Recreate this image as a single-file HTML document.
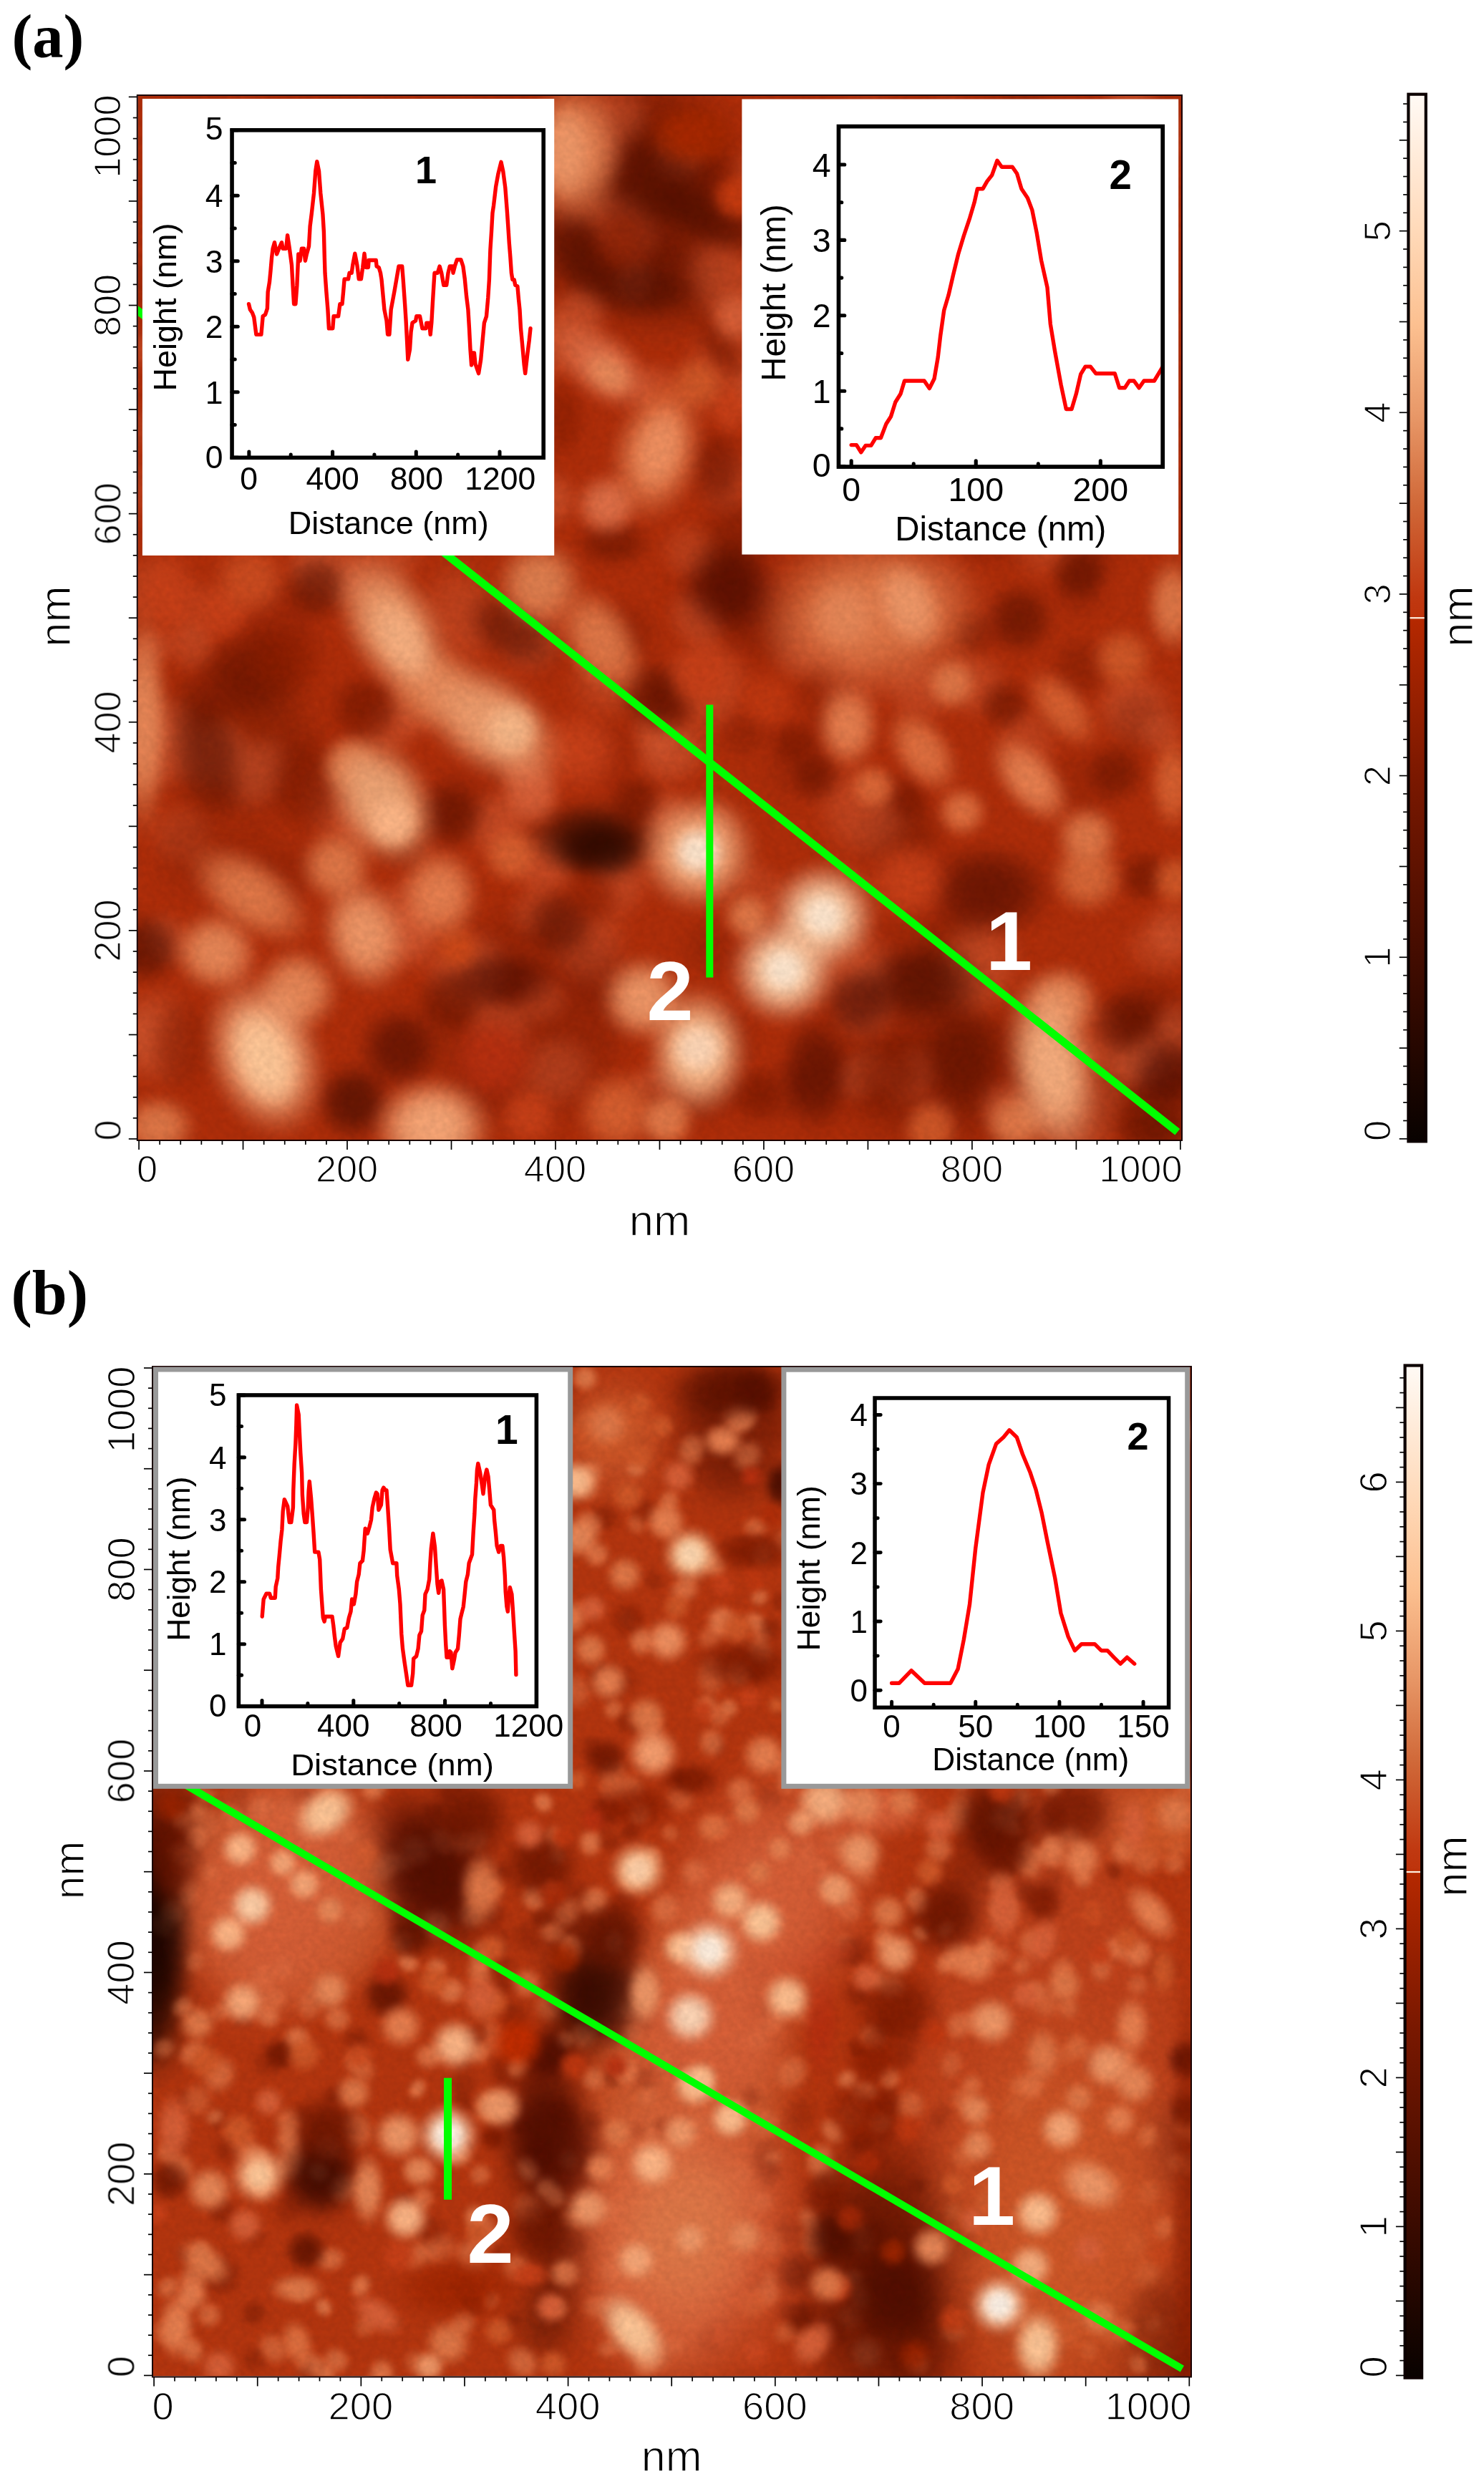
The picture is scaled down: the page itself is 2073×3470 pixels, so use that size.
<!DOCTYPE html>
<html><head><meta charset="utf-8"><title>AFM figure</title>
<style>html,body{margin:0;padding:0;background:#fff}svg{display:block}</style></head>
<body>
<svg width="2073" height="3470" viewBox="0 0 2073 3470">
<defs>
<linearGradient id="cb" x1="0" y1="0" x2="0" y2="1"><stop offset="0" stop-color="rgb(255,250,245)"/><stop offset="0.132" stop-color="rgb(255,217,184)"/><stop offset="0.22" stop-color="rgb(252,192,144)"/><stop offset="0.306" stop-color="rgb(232,152,104)"/><stop offset="0.392" stop-color="rgb(208,104,56)"/><stop offset="0.48" stop-color="rgb(192,56,16)"/><stop offset="0.497" stop-color="rgb(190,52,12)"/><stop offset="0.503" stop-color="rgb(180,40,0)"/><stop offset="0.653" stop-color="rgb(122,24,0)"/><stop offset="0.826" stop-color="rgb(66,12,0)"/><stop offset="1" stop-color="rgb(8,2,0)"/></linearGradient>
<filter id="grain" x="0" y="0" width="100%" height="100%"><feTurbulence type="fractalNoise" baseFrequency="0.11" numOctaves="2" seed="7"/><feColorMatrix type="matrix" values="0 0 0 0 0  0 0 0 0 0  0 0 0 0 0  1.6 0 0 0 -0.3"/></filter>
<clipPath id="clipA"><rect x="192.6" y="134.0" width="1457.4" height="1458.0"/></clipPath>
<filter id="blurA" x="-5%" y="-5%" width="110%" height="110%" color-interpolation-filters="sRGB"><feGaussianBlur stdDeviation="6"/></filter>
<filter id="bblurA" x="-5%" y="-5%" width="110%" height="110%" color-interpolation-filters="sRGB"><feGaussianBlur stdDeviation="22"/></filter>
<radialGradient id="gd86038"><stop offset="0" stop-color="#d86038" stop-opacity="1"/><stop offset="0.3" stop-color="#d86038" stop-opacity="0.95"/><stop offset="0.48" stop-color="#d86038" stop-opacity="0.78"/><stop offset="0.62" stop-color="#d86038" stop-opacity="0.52"/><stop offset="0.76" stop-color="#d86038" stop-opacity="0.26"/><stop offset="0.88" stop-color="#d86038" stop-opacity="0.08"/><stop offset="1" stop-color="#d86038" stop-opacity="0"/></radialGradient>
<radialGradient id="g6a1400"><stop offset="0" stop-color="#6a1400" stop-opacity="1"/><stop offset="0.3" stop-color="#6a1400" stop-opacity="0.95"/><stop offset="0.48" stop-color="#6a1400" stop-opacity="0.78"/><stop offset="0.62" stop-color="#6a1400" stop-opacity="0.52"/><stop offset="0.76" stop-color="#6a1400" stop-opacity="0.26"/><stop offset="0.88" stop-color="#6a1400" stop-opacity="0.08"/><stop offset="1" stop-color="#6a1400" stop-opacity="0"/></radialGradient>
<radialGradient id="g1a0400"><stop offset="0" stop-color="#1a0400" stop-opacity="1"/><stop offset="0.3" stop-color="#1a0400" stop-opacity="0.95"/><stop offset="0.48" stop-color="#1a0400" stop-opacity="0.78"/><stop offset="0.62" stop-color="#1a0400" stop-opacity="0.52"/><stop offset="0.76" stop-color="#1a0400" stop-opacity="0.26"/><stop offset="0.88" stop-color="#1a0400" stop-opacity="0.08"/><stop offset="1" stop-color="#1a0400" stop-opacity="0"/></radialGradient>
<radialGradient id="g200500"><stop offset="0" stop-color="#200500" stop-opacity="1"/><stop offset="0.3" stop-color="#200500" stop-opacity="0.95"/><stop offset="0.48" stop-color="#200500" stop-opacity="0.78"/><stop offset="0.62" stop-color="#200500" stop-opacity="0.52"/><stop offset="0.76" stop-color="#200500" stop-opacity="0.26"/><stop offset="0.88" stop-color="#200500" stop-opacity="0.08"/><stop offset="1" stop-color="#200500" stop-opacity="0"/></radialGradient>
<radialGradient id="g3a0800"><stop offset="0" stop-color="#3a0800" stop-opacity="1"/><stop offset="0.3" stop-color="#3a0800" stop-opacity="0.95"/><stop offset="0.48" stop-color="#3a0800" stop-opacity="0.78"/><stop offset="0.62" stop-color="#3a0800" stop-opacity="0.52"/><stop offset="0.76" stop-color="#3a0800" stop-opacity="0.26"/><stop offset="0.88" stop-color="#3a0800" stop-opacity="0.08"/><stop offset="1" stop-color="#3a0800" stop-opacity="0"/></radialGradient>
<radialGradient id="g4a0a00"><stop offset="0" stop-color="#4a0a00" stop-opacity="1"/><stop offset="0.3" stop-color="#4a0a00" stop-opacity="0.95"/><stop offset="0.48" stop-color="#4a0a00" stop-opacity="0.78"/><stop offset="0.62" stop-color="#4a0a00" stop-opacity="0.52"/><stop offset="0.76" stop-color="#4a0a00" stop-opacity="0.26"/><stop offset="0.88" stop-color="#4a0a00" stop-opacity="0.08"/><stop offset="1" stop-color="#4a0a00" stop-opacity="0"/></radialGradient>
<radialGradient id="g4a0c00"><stop offset="0" stop-color="#4a0c00" stop-opacity="1"/><stop offset="0.3" stop-color="#4a0c00" stop-opacity="0.95"/><stop offset="0.48" stop-color="#4a0c00" stop-opacity="0.78"/><stop offset="0.62" stop-color="#4a0c00" stop-opacity="0.52"/><stop offset="0.76" stop-color="#4a0c00" stop-opacity="0.26"/><stop offset="0.88" stop-color="#4a0c00" stop-opacity="0.08"/><stop offset="1" stop-color="#4a0c00" stop-opacity="0"/></radialGradient>
<radialGradient id="g5a1000"><stop offset="0" stop-color="#5a1000" stop-opacity="1"/><stop offset="0.3" stop-color="#5a1000" stop-opacity="0.95"/><stop offset="0.48" stop-color="#5a1000" stop-opacity="0.78"/><stop offset="0.62" stop-color="#5a1000" stop-opacity="0.52"/><stop offset="0.76" stop-color="#5a1000" stop-opacity="0.26"/><stop offset="0.88" stop-color="#5a1000" stop-opacity="0.08"/><stop offset="1" stop-color="#5a1000" stop-opacity="0"/></radialGradient>
<radialGradient id="g701400"><stop offset="0" stop-color="#701400" stop-opacity="1"/><stop offset="0.3" stop-color="#701400" stop-opacity="0.95"/><stop offset="0.48" stop-color="#701400" stop-opacity="0.78"/><stop offset="0.62" stop-color="#701400" stop-opacity="0.52"/><stop offset="0.76" stop-color="#701400" stop-opacity="0.26"/><stop offset="0.88" stop-color="#701400" stop-opacity="0.08"/><stop offset="1" stop-color="#701400" stop-opacity="0"/></radialGradient>
<radialGradient id="g7a1800"><stop offset="0" stop-color="#7a1800" stop-opacity="1"/><stop offset="0.3" stop-color="#7a1800" stop-opacity="0.95"/><stop offset="0.48" stop-color="#7a1800" stop-opacity="0.78"/><stop offset="0.62" stop-color="#7a1800" stop-opacity="0.52"/><stop offset="0.76" stop-color="#7a1800" stop-opacity="0.26"/><stop offset="0.88" stop-color="#7a1800" stop-opacity="0.08"/><stop offset="1" stop-color="#7a1800" stop-opacity="0"/></radialGradient>
<radialGradient id="g8a1c00"><stop offset="0" stop-color="#8a1c00" stop-opacity="1"/><stop offset="0.3" stop-color="#8a1c00" stop-opacity="0.95"/><stop offset="0.48" stop-color="#8a1c00" stop-opacity="0.78"/><stop offset="0.62" stop-color="#8a1c00" stop-opacity="0.52"/><stop offset="0.76" stop-color="#8a1c00" stop-opacity="0.26"/><stop offset="0.88" stop-color="#8a1c00" stop-opacity="0.08"/><stop offset="1" stop-color="#8a1c00" stop-opacity="0"/></radialGradient>
<radialGradient id="ga82800"><stop offset="0" stop-color="#a82800" stop-opacity="1"/><stop offset="0.3" stop-color="#a82800" stop-opacity="0.95"/><stop offset="0.48" stop-color="#a82800" stop-opacity="0.78"/><stop offset="0.62" stop-color="#a82800" stop-opacity="0.52"/><stop offset="0.76" stop-color="#a82800" stop-opacity="0.26"/><stop offset="0.88" stop-color="#a82800" stop-opacity="0.08"/><stop offset="1" stop-color="#a82800" stop-opacity="0"/></radialGradient>
<radialGradient id="gb83010"><stop offset="0" stop-color="#b83010" stop-opacity="1"/><stop offset="0.3" stop-color="#b83010" stop-opacity="0.95"/><stop offset="0.48" stop-color="#b83010" stop-opacity="0.78"/><stop offset="0.62" stop-color="#b83010" stop-opacity="0.52"/><stop offset="0.76" stop-color="#b83010" stop-opacity="0.26"/><stop offset="0.88" stop-color="#b83010" stop-opacity="0.08"/><stop offset="1" stop-color="#b83010" stop-opacity="0"/></radialGradient>
<radialGradient id="gc03810"><stop offset="0" stop-color="#c03810" stop-opacity="1"/><stop offset="0.3" stop-color="#c03810" stop-opacity="0.95"/><stop offset="0.48" stop-color="#c03810" stop-opacity="0.78"/><stop offset="0.62" stop-color="#c03810" stop-opacity="0.52"/><stop offset="0.76" stop-color="#c03810" stop-opacity="0.26"/><stop offset="0.88" stop-color="#c03810" stop-opacity="0.08"/><stop offset="1" stop-color="#c03810" stop-opacity="0"/></radialGradient>
<radialGradient id="gc83c10"><stop offset="0" stop-color="#c83c10" stop-opacity="1"/><stop offset="0.3" stop-color="#c83c10" stop-opacity="0.95"/><stop offset="0.48" stop-color="#c83c10" stop-opacity="0.78"/><stop offset="0.62" stop-color="#c83c10" stop-opacity="0.52"/><stop offset="0.76" stop-color="#c83c10" stop-opacity="0.26"/><stop offset="0.88" stop-color="#c83c10" stop-opacity="0.08"/><stop offset="1" stop-color="#c83c10" stop-opacity="0"/></radialGradient>
<radialGradient id="gc84018"><stop offset="0" stop-color="#c84018" stop-opacity="1"/><stop offset="0.3" stop-color="#c84018" stop-opacity="0.95"/><stop offset="0.48" stop-color="#c84018" stop-opacity="0.78"/><stop offset="0.62" stop-color="#c84018" stop-opacity="0.52"/><stop offset="0.76" stop-color="#c84018" stop-opacity="0.26"/><stop offset="0.88" stop-color="#c84018" stop-opacity="0.08"/><stop offset="1" stop-color="#c84018" stop-opacity="0"/></radialGradient>
<radialGradient id="gcc4818"><stop offset="0" stop-color="#cc4818" stop-opacity="1"/><stop offset="0.3" stop-color="#cc4818" stop-opacity="0.95"/><stop offset="0.48" stop-color="#cc4818" stop-opacity="0.78"/><stop offset="0.62" stop-color="#cc4818" stop-opacity="0.52"/><stop offset="0.76" stop-color="#cc4818" stop-opacity="0.26"/><stop offset="0.88" stop-color="#cc4818" stop-opacity="0.08"/><stop offset="1" stop-color="#cc4818" stop-opacity="0"/></radialGradient>
<radialGradient id="gcc4c20"><stop offset="0" stop-color="#cc4c20" stop-opacity="1"/><stop offset="0.3" stop-color="#cc4c20" stop-opacity="0.95"/><stop offset="0.48" stop-color="#cc4c20" stop-opacity="0.78"/><stop offset="0.62" stop-color="#cc4c20" stop-opacity="0.52"/><stop offset="0.76" stop-color="#cc4c20" stop-opacity="0.26"/><stop offset="0.88" stop-color="#cc4c20" stop-opacity="0.08"/><stop offset="1" stop-color="#cc4c20" stop-opacity="0"/></radialGradient>
<radialGradient id="gd05828"><stop offset="0" stop-color="#d05828" stop-opacity="1"/><stop offset="0.3" stop-color="#d05828" stop-opacity="0.95"/><stop offset="0.48" stop-color="#d05828" stop-opacity="0.78"/><stop offset="0.62" stop-color="#d05828" stop-opacity="0.52"/><stop offset="0.76" stop-color="#d05828" stop-opacity="0.26"/><stop offset="0.88" stop-color="#d05828" stop-opacity="0.08"/><stop offset="1" stop-color="#d05828" stop-opacity="0"/></radialGradient>
<radialGradient id="gd86030"><stop offset="0" stop-color="#d86030" stop-opacity="1"/><stop offset="0.3" stop-color="#d86030" stop-opacity="0.95"/><stop offset="0.48" stop-color="#d86030" stop-opacity="0.78"/><stop offset="0.62" stop-color="#d86030" stop-opacity="0.52"/><stop offset="0.76" stop-color="#d86030" stop-opacity="0.26"/><stop offset="0.88" stop-color="#d86030" stop-opacity="0.08"/><stop offset="1" stop-color="#d86030" stop-opacity="0"/></radialGradient>
<radialGradient id="gd86838"><stop offset="0" stop-color="#d86838" stop-opacity="1"/><stop offset="0.3" stop-color="#d86838" stop-opacity="0.95"/><stop offset="0.48" stop-color="#d86838" stop-opacity="0.78"/><stop offset="0.62" stop-color="#d86838" stop-opacity="0.52"/><stop offset="0.76" stop-color="#d86838" stop-opacity="0.26"/><stop offset="0.88" stop-color="#d86838" stop-opacity="0.08"/><stop offset="1" stop-color="#d86838" stop-opacity="0"/></radialGradient>
<radialGradient id="gdc6838"><stop offset="0" stop-color="#dc6838" stop-opacity="1"/><stop offset="0.3" stop-color="#dc6838" stop-opacity="0.95"/><stop offset="0.48" stop-color="#dc6838" stop-opacity="0.78"/><stop offset="0.62" stop-color="#dc6838" stop-opacity="0.52"/><stop offset="0.76" stop-color="#dc6838" stop-opacity="0.26"/><stop offset="0.88" stop-color="#dc6838" stop-opacity="0.08"/><stop offset="1" stop-color="#dc6838" stop-opacity="0"/></radialGradient>
<radialGradient id="ge07040"><stop offset="0" stop-color="#e07040" stop-opacity="1"/><stop offset="0.3" stop-color="#e07040" stop-opacity="0.95"/><stop offset="0.48" stop-color="#e07040" stop-opacity="0.78"/><stop offset="0.62" stop-color="#e07040" stop-opacity="0.52"/><stop offset="0.76" stop-color="#e07040" stop-opacity="0.26"/><stop offset="0.88" stop-color="#e07040" stop-opacity="0.08"/><stop offset="1" stop-color="#e07040" stop-opacity="0"/></radialGradient>
<radialGradient id="ge07048"><stop offset="0" stop-color="#e07048" stop-opacity="1"/><stop offset="0.3" stop-color="#e07048" stop-opacity="0.95"/><stop offset="0.48" stop-color="#e07048" stop-opacity="0.78"/><stop offset="0.62" stop-color="#e07048" stop-opacity="0.52"/><stop offset="0.76" stop-color="#e07048" stop-opacity="0.26"/><stop offset="0.88" stop-color="#e07048" stop-opacity="0.08"/><stop offset="1" stop-color="#e07048" stop-opacity="0"/></radialGradient>
<radialGradient id="ge07848"><stop offset="0" stop-color="#e07848" stop-opacity="1"/><stop offset="0.3" stop-color="#e07848" stop-opacity="0.95"/><stop offset="0.48" stop-color="#e07848" stop-opacity="0.78"/><stop offset="0.62" stop-color="#e07848" stop-opacity="0.52"/><stop offset="0.76" stop-color="#e07848" stop-opacity="0.26"/><stop offset="0.88" stop-color="#e07848" stop-opacity="0.08"/><stop offset="1" stop-color="#e07848" stop-opacity="0"/></radialGradient>
<radialGradient id="ge08050"><stop offset="0" stop-color="#e08050" stop-opacity="1"/><stop offset="0.3" stop-color="#e08050" stop-opacity="0.95"/><stop offset="0.48" stop-color="#e08050" stop-opacity="0.78"/><stop offset="0.62" stop-color="#e08050" stop-opacity="0.52"/><stop offset="0.76" stop-color="#e08050" stop-opacity="0.26"/><stop offset="0.88" stop-color="#e08050" stop-opacity="0.08"/><stop offset="1" stop-color="#e08050" stop-opacity="0"/></radialGradient>
<radialGradient id="ge88050"><stop offset="0" stop-color="#e88050" stop-opacity="1"/><stop offset="0.3" stop-color="#e88050" stop-opacity="0.95"/><stop offset="0.48" stop-color="#e88050" stop-opacity="0.78"/><stop offset="0.62" stop-color="#e88050" stop-opacity="0.52"/><stop offset="0.76" stop-color="#e88050" stop-opacity="0.26"/><stop offset="0.88" stop-color="#e88050" stop-opacity="0.08"/><stop offset="1" stop-color="#e88050" stop-opacity="0"/></radialGradient>
<radialGradient id="ge88858"><stop offset="0" stop-color="#e88858" stop-opacity="1"/><stop offset="0.3" stop-color="#e88858" stop-opacity="0.95"/><stop offset="0.48" stop-color="#e88858" stop-opacity="0.78"/><stop offset="0.62" stop-color="#e88858" stop-opacity="0.52"/><stop offset="0.76" stop-color="#e88858" stop-opacity="0.26"/><stop offset="0.88" stop-color="#e88858" stop-opacity="0.08"/><stop offset="1" stop-color="#e88858" stop-opacity="0"/></radialGradient>
<radialGradient id="gf09060"><stop offset="0" stop-color="#f09060" stop-opacity="1"/><stop offset="0.3" stop-color="#f09060" stop-opacity="0.95"/><stop offset="0.48" stop-color="#f09060" stop-opacity="0.78"/><stop offset="0.62" stop-color="#f09060" stop-opacity="0.52"/><stop offset="0.76" stop-color="#f09060" stop-opacity="0.26"/><stop offset="0.88" stop-color="#f09060" stop-opacity="0.08"/><stop offset="1" stop-color="#f09060" stop-opacity="0"/></radialGradient>
<radialGradient id="gf09868"><stop offset="0" stop-color="#f09868" stop-opacity="1"/><stop offset="0.3" stop-color="#f09868" stop-opacity="0.95"/><stop offset="0.48" stop-color="#f09868" stop-opacity="0.78"/><stop offset="0.62" stop-color="#f09868" stop-opacity="0.52"/><stop offset="0.76" stop-color="#f09868" stop-opacity="0.26"/><stop offset="0.88" stop-color="#f09868" stop-opacity="0.08"/><stop offset="1" stop-color="#f09868" stop-opacity="0"/></radialGradient>
<radialGradient id="gf0a070"><stop offset="0" stop-color="#f0a070" stop-opacity="1"/><stop offset="0.3" stop-color="#f0a070" stop-opacity="0.95"/><stop offset="0.48" stop-color="#f0a070" stop-opacity="0.78"/><stop offset="0.62" stop-color="#f0a070" stop-opacity="0.52"/><stop offset="0.76" stop-color="#f0a070" stop-opacity="0.26"/><stop offset="0.88" stop-color="#f0a070" stop-opacity="0.08"/><stop offset="1" stop-color="#f0a070" stop-opacity="0"/></radialGradient>
<radialGradient id="gf0a878"><stop offset="0" stop-color="#f0a878" stop-opacity="1"/><stop offset="0.3" stop-color="#f0a878" stop-opacity="0.95"/><stop offset="0.48" stop-color="#f0a878" stop-opacity="0.78"/><stop offset="0.62" stop-color="#f0a878" stop-opacity="0.52"/><stop offset="0.76" stop-color="#f0a878" stop-opacity="0.26"/><stop offset="0.88" stop-color="#f0a878" stop-opacity="0.08"/><stop offset="1" stop-color="#f0a878" stop-opacity="0"/></radialGradient>
<radialGradient id="gf8a878"><stop offset="0" stop-color="#f8a878" stop-opacity="1"/><stop offset="0.3" stop-color="#f8a878" stop-opacity="0.95"/><stop offset="0.48" stop-color="#f8a878" stop-opacity="0.78"/><stop offset="0.62" stop-color="#f8a878" stop-opacity="0.52"/><stop offset="0.76" stop-color="#f8a878" stop-opacity="0.26"/><stop offset="0.88" stop-color="#f8a878" stop-opacity="0.08"/><stop offset="1" stop-color="#f8a878" stop-opacity="0"/></radialGradient>
<radialGradient id="gf8b080"><stop offset="0" stop-color="#f8b080" stop-opacity="1"/><stop offset="0.3" stop-color="#f8b080" stop-opacity="0.95"/><stop offset="0.48" stop-color="#f8b080" stop-opacity="0.78"/><stop offset="0.62" stop-color="#f8b080" stop-opacity="0.52"/><stop offset="0.76" stop-color="#f8b080" stop-opacity="0.26"/><stop offset="0.88" stop-color="#f8b080" stop-opacity="0.08"/><stop offset="1" stop-color="#f8b080" stop-opacity="0"/></radialGradient>
<radialGradient id="gf8b888"><stop offset="0" stop-color="#f8b888" stop-opacity="1"/><stop offset="0.3" stop-color="#f8b888" stop-opacity="0.95"/><stop offset="0.48" stop-color="#f8b888" stop-opacity="0.78"/><stop offset="0.62" stop-color="#f8b888" stop-opacity="0.52"/><stop offset="0.76" stop-color="#f8b888" stop-opacity="0.26"/><stop offset="0.88" stop-color="#f8b888" stop-opacity="0.08"/><stop offset="1" stop-color="#f8b888" stop-opacity="0"/></radialGradient>
<radialGradient id="gffb888"><stop offset="0" stop-color="#ffb888" stop-opacity="1"/><stop offset="0.3" stop-color="#ffb888" stop-opacity="0.95"/><stop offset="0.48" stop-color="#ffb888" stop-opacity="0.78"/><stop offset="0.62" stop-color="#ffb888" stop-opacity="0.52"/><stop offset="0.76" stop-color="#ffb888" stop-opacity="0.26"/><stop offset="0.88" stop-color="#ffb888" stop-opacity="0.08"/><stop offset="1" stop-color="#ffb888" stop-opacity="0"/></radialGradient>
<radialGradient id="gffc090"><stop offset="0" stop-color="#ffc090" stop-opacity="1"/><stop offset="0.3" stop-color="#ffc090" stop-opacity="0.95"/><stop offset="0.48" stop-color="#ffc090" stop-opacity="0.78"/><stop offset="0.62" stop-color="#ffc090" stop-opacity="0.52"/><stop offset="0.76" stop-color="#ffc090" stop-opacity="0.26"/><stop offset="0.88" stop-color="#ffc090" stop-opacity="0.08"/><stop offset="1" stop-color="#ffc090" stop-opacity="0"/></radialGradient>
<radialGradient id="gffc898"><stop offset="0" stop-color="#ffc898" stop-opacity="1"/><stop offset="0.3" stop-color="#ffc898" stop-opacity="0.95"/><stop offset="0.48" stop-color="#ffc898" stop-opacity="0.78"/><stop offset="0.62" stop-color="#ffc898" stop-opacity="0.52"/><stop offset="0.76" stop-color="#ffc898" stop-opacity="0.26"/><stop offset="0.88" stop-color="#ffc898" stop-opacity="0.08"/><stop offset="1" stop-color="#ffc898" stop-opacity="0"/></radialGradient>
<radialGradient id="gffd0a8"><stop offset="0" stop-color="#ffd0a8" stop-opacity="1"/><stop offset="0.3" stop-color="#ffd0a8" stop-opacity="0.95"/><stop offset="0.48" stop-color="#ffd0a8" stop-opacity="0.78"/><stop offset="0.62" stop-color="#ffd0a8" stop-opacity="0.52"/><stop offset="0.76" stop-color="#ffd0a8" stop-opacity="0.26"/><stop offset="0.88" stop-color="#ffd0a8" stop-opacity="0.08"/><stop offset="1" stop-color="#ffd0a8" stop-opacity="0"/></radialGradient>
<radialGradient id="gffd8b8"><stop offset="0" stop-color="#ffd8b8" stop-opacity="1"/><stop offset="0.3" stop-color="#ffd8b8" stop-opacity="0.95"/><stop offset="0.48" stop-color="#ffd8b8" stop-opacity="0.78"/><stop offset="0.62" stop-color="#ffd8b8" stop-opacity="0.52"/><stop offset="0.76" stop-color="#ffd8b8" stop-opacity="0.26"/><stop offset="0.88" stop-color="#ffd8b8" stop-opacity="0.08"/><stop offset="1" stop-color="#ffd8b8" stop-opacity="0"/></radialGradient>
<radialGradient id="gffe8d0"><stop offset="0" stop-color="#ffe8d0" stop-opacity="1"/><stop offset="0.3" stop-color="#ffe8d0" stop-opacity="0.95"/><stop offset="0.48" stop-color="#ffe8d0" stop-opacity="0.78"/><stop offset="0.62" stop-color="#ffe8d0" stop-opacity="0.52"/><stop offset="0.76" stop-color="#ffe8d0" stop-opacity="0.26"/><stop offset="0.88" stop-color="#ffe8d0" stop-opacity="0.08"/><stop offset="1" stop-color="#ffe8d0" stop-opacity="0"/></radialGradient>
<clipPath id="ica1"><rect x="324.1" y="181.8" width="435.2" height="457.5"/></clipPath>
<clipPath id="ica2"><rect x="1171.5" y="176.6" width="452.7" height="475.4"/></clipPath>
<clipPath id="clipB"><rect x="214.0" y="1910.0" width="1449.0" height="1409.5"/></clipPath>
<filter id="blurB" x="-5%" y="-5%" width="110%" height="110%" color-interpolation-filters="sRGB"><feGaussianBlur stdDeviation="3.2"/></filter>
<filter id="bblurB" x="-5%" y="-5%" width="110%" height="110%" color-interpolation-filters="sRGB"><feGaussianBlur stdDeviation="22"/></filter>
<radialGradient id="g2a0600"><stop offset="0" stop-color="#2a0600" stop-opacity="1"/><stop offset="0.3" stop-color="#2a0600" stop-opacity="0.95"/><stop offset="0.48" stop-color="#2a0600" stop-opacity="0.78"/><stop offset="0.62" stop-color="#2a0600" stop-opacity="0.52"/><stop offset="0.76" stop-color="#2a0600" stop-opacity="0.26"/><stop offset="0.88" stop-color="#2a0600" stop-opacity="0.08"/><stop offset="1" stop-color="#2a0600" stop-opacity="0"/></radialGradient>
<radialGradient id="ga02400"><stop offset="0" stop-color="#a02400" stop-opacity="1"/><stop offset="0.3" stop-color="#a02400" stop-opacity="0.95"/><stop offset="0.48" stop-color="#a02400" stop-opacity="0.78"/><stop offset="0.62" stop-color="#a02400" stop-opacity="0.52"/><stop offset="0.76" stop-color="#a02400" stop-opacity="0.26"/><stop offset="0.88" stop-color="#a02400" stop-opacity="0.08"/><stop offset="1" stop-color="#a02400" stop-opacity="0"/></radialGradient>
<radialGradient id="gb02c08"><stop offset="0" stop-color="#b02c08" stop-opacity="1"/><stop offset="0.3" stop-color="#b02c08" stop-opacity="0.95"/><stop offset="0.48" stop-color="#b02c08" stop-opacity="0.78"/><stop offset="0.62" stop-color="#b02c08" stop-opacity="0.52"/><stop offset="0.76" stop-color="#b02c08" stop-opacity="0.26"/><stop offset="0.88" stop-color="#b02c08" stop-opacity="0.08"/><stop offset="1" stop-color="#b02c08" stop-opacity="0"/></radialGradient>
<radialGradient id="gc02c00"><stop offset="0" stop-color="#c02c00" stop-opacity="1"/><stop offset="0.3" stop-color="#c02c00" stop-opacity="0.95"/><stop offset="0.48" stop-color="#c02c00" stop-opacity="0.78"/><stop offset="0.62" stop-color="#c02c00" stop-opacity="0.52"/><stop offset="0.76" stop-color="#c02c00" stop-opacity="0.26"/><stop offset="0.88" stop-color="#c02c00" stop-opacity="0.08"/><stop offset="1" stop-color="#c02c00" stop-opacity="0"/></radialGradient>
<radialGradient id="gf8a070"><stop offset="0" stop-color="#f8a070" stop-opacity="1"/><stop offset="0.3" stop-color="#f8a070" stop-opacity="0.95"/><stop offset="0.48" stop-color="#f8a070" stop-opacity="0.78"/><stop offset="0.62" stop-color="#f8a070" stop-opacity="0.52"/><stop offset="0.76" stop-color="#f8a070" stop-opacity="0.26"/><stop offset="0.88" stop-color="#f8a070" stop-opacity="0.08"/><stop offset="1" stop-color="#f8a070" stop-opacity="0"/></radialGradient>
<radialGradient id="gffd8b0"><stop offset="0" stop-color="#ffd8b0" stop-opacity="1"/><stop offset="0.3" stop-color="#ffd8b0" stop-opacity="0.95"/><stop offset="0.48" stop-color="#ffd8b0" stop-opacity="0.78"/><stop offset="0.62" stop-color="#ffd8b0" stop-opacity="0.52"/><stop offset="0.76" stop-color="#ffd8b0" stop-opacity="0.26"/><stop offset="0.88" stop-color="#ffd8b0" stop-opacity="0.08"/><stop offset="1" stop-color="#ffd8b0" stop-opacity="0"/></radialGradient>
<radialGradient id="gfff0e0"><stop offset="0" stop-color="#fff0e0" stop-opacity="1"/><stop offset="0.3" stop-color="#fff0e0" stop-opacity="0.95"/><stop offset="0.48" stop-color="#fff0e0" stop-opacity="0.78"/><stop offset="0.62" stop-color="#fff0e0" stop-opacity="0.52"/><stop offset="0.76" stop-color="#fff0e0" stop-opacity="0.26"/><stop offset="0.88" stop-color="#fff0e0" stop-opacity="0.08"/><stop offset="1" stop-color="#fff0e0" stop-opacity="0"/></radialGradient>
<radialGradient id="gfff4e8"><stop offset="0" stop-color="#fff4e8" stop-opacity="1"/><stop offset="0.3" stop-color="#fff4e8" stop-opacity="0.95"/><stop offset="0.48" stop-color="#fff4e8" stop-opacity="0.78"/><stop offset="0.62" stop-color="#fff4e8" stop-opacity="0.52"/><stop offset="0.76" stop-color="#fff4e8" stop-opacity="0.26"/><stop offset="0.88" stop-color="#fff4e8" stop-opacity="0.08"/><stop offset="1" stop-color="#fff4e8" stop-opacity="0"/></radialGradient>
<clipPath id="icb1"><rect x="333.4" y="1949.0" width="416.0" height="434.6"/></clipPath>
<clipPath id="icb2"><rect x="1222.0" y="1953.0" width="410.5" height="432.3"/></clipPath>
</defs>
<rect width="2073" height="3470" fill="#fff"/>
<text x="16.50" y="80.00" font-size="86.5" text-anchor="start" fill="#000" font-family="Liberation Serif, serif" font-weight="bold">(a)</text>
<text x="15.50" y="1836.00" font-size="88" text-anchor="start" fill="#000" font-family="Liberation Serif, serif" font-weight="bold">(b)</text>
<g clip-path="url(#clipA)">
<rect x="192.6" y="134.0" width="1457.4" height="1458.0" fill="#b02e0a"/>
<g filter="url(#bblurA)">
<ellipse cx="915.0" cy="255.0" rx="110.0" ry="130.0" fill="#5a1000" opacity="0.5" transform="rotate(0 915.0 255.0)"/>
<ellipse cx="890.0" cy="390.0" rx="130.0" ry="60.0" fill="#4a0c00" opacity="0.4" transform="rotate(10 890.0 390.0)"/>
<ellipse cx="1330.0" cy="1500.0" rx="170.0" ry="90.0" fill="#5a1000" opacity="0.33" transform="rotate(0 1330.0 1500.0)"/>
<ellipse cx="1610.0" cy="1490.0" rx="60.0" ry="120.0" fill="#4a0a00" opacity="0.4" transform="rotate(0 1610.0 1490.0)"/>
<ellipse cx="740.0" cy="1420.0" rx="130.0" ry="150.0" fill="#5a1000" opacity="0.28" transform="rotate(0 740.0 1420.0)"/>
<ellipse cx="330.0" cy="1030.0" rx="100.0" ry="110.0" fill="#5a1000" opacity="0.3" transform="rotate(0 330.0 1030.0)"/>
<ellipse cx="1020.0" cy="830.0" rx="60.0" ry="60.0" fill="#4a0a00" opacity="0.35" transform="rotate(0 1020.0 830.0)"/>
</g>
<g filter="url(#blurA)">
<ellipse cx="852" cy="950" rx="72.3" ry="72.8" fill="url(#gd86038)" opacity="0.37" transform="rotate(1 852 950)"/>
<ellipse cx="939" cy="1052" rx="67.8" ry="54.3" fill="url(#gd86038)" opacity="0.56" transform="rotate(-24 939 1052)"/>
<ellipse cx="1203" cy="195" rx="74.4" ry="95.2" fill="url(#gd86038)" opacity="0.36" transform="rotate(18 1203 195)"/>
<ellipse cx="214" cy="904" rx="42.1" ry="36.0" fill="url(#gd86038)" opacity="0.45" transform="rotate(-31 214 904)"/>
<ellipse cx="835" cy="1362" rx="58.2" ry="64.1" fill="url(#g6a1400)" opacity="0.26" transform="rotate(-0 835 1362)"/>
<ellipse cx="598" cy="1589" rx="74.8" ry="90.7" fill="url(#gd86038)" opacity="0.38" transform="rotate(25 598 1589)"/>
<ellipse cx="614" cy="236" rx="66.8" ry="64.8" fill="url(#gd86038)" opacity="0.61" transform="rotate(42 614 236)"/>
<ellipse cx="1427" cy="135" rx="47.3" ry="59.2" fill="url(#g6a1400)" opacity="0.24" transform="rotate(-4 1427 135)"/>
<ellipse cx="299" cy="1052" rx="67.2" ry="60.4" fill="url(#gd86038)" opacity="0.61" transform="rotate(-50 299 1052)"/>
<ellipse cx="1297" cy="306" rx="48.6" ry="39.2" fill="url(#g6a1400)" opacity="0.21" transform="rotate(-53 1297 306)"/>
<ellipse cx="1008" cy="786" rx="46.7" ry="53.8" fill="url(#g6a1400)" opacity="0.20" transform="rotate(-44 1008 786)"/>
<ellipse cx="806" cy="444" rx="49.4" ry="63.5" fill="url(#gd86038)" opacity="0.58" transform="rotate(36 806 444)"/>
<ellipse cx="500" cy="709" rx="69.9" ry="77.1" fill="url(#g6a1400)" opacity="0.21" transform="rotate(-48 500 709)"/>
<ellipse cx="569" cy="1261" rx="51.5" ry="47.0" fill="url(#gd86038)" opacity="0.49" transform="rotate(-51 569 1261)"/>
<ellipse cx="547" cy="1011" rx="53.0" ry="53.0" fill="url(#gd86038)" opacity="0.49" transform="rotate(55 547 1011)"/>
<ellipse cx="1455" cy="401" rx="45.4" ry="56.7" fill="url(#gd86038)" opacity="0.37" transform="rotate(38 1455 401)"/>
<ellipse cx="1270" cy="1505" rx="46.9" ry="59.7" fill="url(#gd86038)" opacity="0.44" transform="rotate(46 1270 1505)"/>
<ellipse cx="344" cy="190" rx="73.7" ry="64.9" fill="url(#gd86038)" opacity="0.57" transform="rotate(25 344 190)"/>
<ellipse cx="1062" cy="562" rx="46.1" ry="52.9" fill="url(#gd86038)" opacity="0.48" transform="rotate(-52 1062 562)"/>
<ellipse cx="1435" cy="1030" rx="49.8" ry="62.5" fill="url(#gd86038)" opacity="0.39" transform="rotate(-36 1435 1030)"/>
<ellipse cx="842" cy="222" rx="46.2" ry="44.0" fill="url(#gd86038)" opacity="0.42" transform="rotate(9 842 222)"/>
<ellipse cx="1491" cy="1564" rx="63.0" ry="71.2" fill="url(#gd86038)" opacity="0.32" transform="rotate(10 1491 1564)"/>
<ellipse cx="219" cy="1461" rx="64.5" ry="82.6" fill="url(#gd86038)" opacity="0.46" transform="rotate(-57 219 1461)"/>
<ellipse cx="1257" cy="599" rx="75.0" ry="59.3" fill="url(#g6a1400)" opacity="0.33" transform="rotate(6 1257 599)"/>
<ellipse cx="1267" cy="1160" rx="67.8" ry="84.9" fill="url(#g6a1400)" opacity="0.33" transform="rotate(-18 1267 1160)"/>
<ellipse cx="1462" cy="742" rx="67.7" ry="82.9" fill="url(#gd86038)" opacity="0.43" transform="rotate(9 1462 742)"/>
<ellipse cx="1042" cy="1022" rx="42.8" ry="47.2" fill="url(#g6a1400)" opacity="0.30" transform="rotate(59 1042 1022)"/>
<ellipse cx="759" cy="1206" rx="60.3" ry="59.9" fill="url(#gd86038)" opacity="0.54" transform="rotate(41 759 1206)"/>
<ellipse cx="236" cy="1011" rx="56.8" ry="49.8" fill="url(#gd86038)" opacity="0.50" transform="rotate(24 236 1011)"/>
<ellipse cx="1534" cy="507" rx="40.4" ry="37.0" fill="url(#gd86038)" opacity="0.36" transform="rotate(21 1534 507)"/>
<ellipse cx="1513" cy="1096" rx="55.5" ry="68.8" fill="url(#g6a1400)" opacity="0.21" transform="rotate(-21 1513 1096)"/>
<ellipse cx="821" cy="1309" rx="72.0" ry="88.9" fill="url(#gd86038)" opacity="0.41" transform="rotate(-14 821 1309)"/>
<ellipse cx="391" cy="858" rx="69.3" ry="84.3" fill="url(#g6a1400)" opacity="0.22" transform="rotate(25 391 858)"/>
<ellipse cx="439" cy="791" rx="49.6" ry="43.1" fill="url(#gd86038)" opacity="0.46" transform="rotate(-10 439 791)"/>
<ellipse cx="652" cy="1357" rx="74.4" ry="74.3" fill="url(#gd86038)" opacity="0.58" transform="rotate(-51 652 1357)"/>
<ellipse cx="253" cy="1167" rx="60.0" ry="55.2" fill="url(#gd86038)" opacity="0.35" transform="rotate(35 253 1167)"/>
<ellipse cx="855" cy="170" rx="69.0" ry="60.8" fill="url(#gd86038)" opacity="0.51" transform="rotate(-43 855 170)"/>
<ellipse cx="843" cy="1052" rx="62.9" ry="75.1" fill="url(#g6a1400)" opacity="0.21" transform="rotate(55 843 1052)"/>
<ellipse cx="885" cy="395" rx="40.4" ry="40.8" fill="url(#gd86038)" opacity="0.39" transform="rotate(26 885 395)"/>
<ellipse cx="696" cy="1151" rx="58.2" ry="63.3" fill="url(#gd86038)" opacity="0.56" transform="rotate(31 696 1151)"/>
<ellipse cx="1513" cy="261" rx="72.6" ry="83.3" fill="url(#gd86038)" opacity="0.50" transform="rotate(-44 1513 261)"/>
<ellipse cx="1519" cy="683" rx="59.9" ry="73.9" fill="url(#g6a1400)" opacity="0.26" transform="rotate(36 1519 683)"/>
<ellipse cx="1142" cy="433" rx="65.3" ry="78.3" fill="url(#g6a1400)" opacity="0.21" transform="rotate(17 1142 433)"/>
<ellipse cx="1504" cy="1564" rx="74.2" ry="77.6" fill="url(#gd86038)" opacity="0.59" transform="rotate(35 1504 1564)"/>
<ellipse cx="1440" cy="642" rx="42.9" ry="42.6" fill="url(#g6a1400)" opacity="0.26" transform="rotate(6 1440 642)"/>
<ellipse cx="234" cy="1314" rx="42.2" ry="50.3" fill="url(#gd86038)" opacity="0.55" transform="rotate(-39 234 1314)"/>
<ellipse cx="397" cy="351" rx="58.1" ry="66.7" fill="url(#g6a1400)" opacity="0.34" transform="rotate(41 397 351)"/>
<ellipse cx="910" cy="1518" rx="43.0" ry="37.5" fill="url(#gd86038)" opacity="0.54" transform="rotate(3 910 1518)"/>
<ellipse cx="1124" cy="896" rx="69.5" ry="73.6" fill="url(#gd86038)" opacity="0.57" transform="rotate(-23 1124 896)"/>
<ellipse cx="1505" cy="438" rx="69.8" ry="89.5" fill="url(#gd86038)" opacity="0.37" transform="rotate(3 1505 438)"/>
<ellipse cx="974" cy="868" rx="61.2" ry="46.8" fill="url(#gd86038)" opacity="0.43" transform="rotate(56 974 868)"/>
<ellipse cx="1360" cy="955" rx="57.2" ry="64.6" fill="url(#gd86038)" opacity="0.44" transform="rotate(-52 1360 955)"/>
<ellipse cx="1587" cy="1480" rx="49.4" ry="49.9" fill="url(#gd86038)" opacity="0.56" transform="rotate(-45 1587 1480)"/>
<ellipse cx="1505" cy="829" rx="51.1" ry="43.7" fill="url(#g6a1400)" opacity="0.20" transform="rotate(14 1505 829)"/>
<ellipse cx="1328" cy="167" rx="46.8" ry="40.9" fill="url(#gd86038)" opacity="0.42" transform="rotate(22 1328 167)"/>
<ellipse cx="1096" cy="287" rx="65.6" ry="53.6" fill="url(#gd86038)" opacity="0.37" transform="rotate(1 1096 287)"/>
<ellipse cx="966" cy="771" rx="53.2" ry="51.9" fill="url(#gd86038)" opacity="0.37" transform="rotate(4 966 771)"/>
<ellipse cx="1113" cy="1065" rx="58.5" ry="71.3" fill="url(#g6a1400)" opacity="0.22" transform="rotate(13 1113 1065)"/>
<ellipse cx="1272" cy="1316" rx="71.6" ry="66.1" fill="url(#g6a1400)" opacity="0.21" transform="rotate(-22 1272 1316)"/>
<ellipse cx="1648" cy="1428" rx="44.7" ry="39.4" fill="url(#gd86038)" opacity="0.34" transform="rotate(27 1648 1428)"/>
<ellipse cx="1405" cy="749" rx="67.6" ry="55.4" fill="url(#g6a1400)" opacity="0.18" transform="rotate(-12 1405 749)"/>
<ellipse cx="485" cy="1129" rx="71.9" ry="92.2" fill="url(#gd86038)" opacity="0.55" transform="rotate(-46 485 1129)"/>
<ellipse cx="925" cy="1134" rx="46.6" ry="36.8" fill="url(#gd86038)" opacity="0.48" transform="rotate(-47 925 1134)"/>
<ellipse cx="943" cy="963" rx="45.1" ry="38.4" fill="url(#g6a1400)" opacity="0.35" transform="rotate(-36 943 963)"/>
<ellipse cx="1543" cy="273" rx="42.2" ry="53.7" fill="url(#g6a1400)" opacity="0.23" transform="rotate(-5 1543 273)"/>
<ellipse cx="873" cy="885" rx="55.1" ry="59.5" fill="url(#g6a1400)" opacity="0.32" transform="rotate(-58 873 885)"/>
<ellipse cx="457" cy="796" rx="65.9" ry="64.1" fill="url(#gd86038)" opacity="0.47" transform="rotate(-37 457 796)"/>
<ellipse cx="215" cy="1436" rx="68.1" ry="77.4" fill="url(#gd86038)" opacity="0.44" transform="rotate(43 215 1436)"/>
<ellipse cx="1066" cy="869" rx="74.4" ry="88.7" fill="url(#g6a1400)" opacity="0.31" transform="rotate(-29 1066 869)"/>
<ellipse cx="1326" cy="1322" rx="54.2" ry="67.4" fill="url(#g6a1400)" opacity="0.31" transform="rotate(46 1326 1322)"/>
<ellipse cx="1308" cy="726" rx="65.3" ry="51.5" fill="url(#gd86038)" opacity="0.31" transform="rotate(-19 1308 726)"/>
<ellipse cx="711" cy="1065" rx="61.8" ry="54.3" fill="url(#g6a1400)" opacity="0.23" transform="rotate(53 711 1065)"/>
<ellipse cx="1154" cy="964" rx="58.7" ry="56.6" fill="url(#g6a1400)" opacity="0.30" transform="rotate(60 1154 964)"/>
<ellipse cx="1303" cy="1563" rx="40.8" ry="44.4" fill="url(#gd86038)" opacity="0.43" transform="rotate(29 1303 1563)"/>
<ellipse cx="266" cy="419" rx="53.1" ry="42.7" fill="url(#g6a1400)" opacity="0.27" transform="rotate(-30 266 419)"/>
<ellipse cx="933" cy="1544" rx="59.9" ry="77.7" fill="url(#g6a1400)" opacity="0.19" transform="rotate(17 933 1544)"/>
<ellipse cx="1063" cy="1241" rx="41.6" ry="52.5" fill="url(#gd86038)" opacity="0.36" transform="rotate(-41 1063 1241)"/>
<ellipse cx="915" cy="1025" rx="42.0" ry="53.4" fill="url(#gd86038)" opacity="0.50" transform="rotate(-10 915 1025)"/>
<ellipse cx="725" cy="551" rx="62.9" ry="66.6" fill="url(#g6a1400)" opacity="0.23" transform="rotate(-26 725 551)"/>
<ellipse cx="213" cy="491" rx="41.5" ry="34.7" fill="url(#gd86038)" opacity="0.59" transform="rotate(31 213 491)"/>
<ellipse cx="1283" cy="207" rx="74.6" ry="94.7" fill="url(#g6a1400)" opacity="0.25" transform="rotate(-51 1283 207)"/>
<ellipse cx="889" cy="1553" rx="48.5" ry="50.4" fill="url(#g6a1400)" opacity="0.26" transform="rotate(52 889 1553)"/>
<ellipse cx="1619" cy="1325" rx="61.1" ry="49.7" fill="url(#gd86038)" opacity="0.37" transform="rotate(15 1619 1325)"/>
<ellipse cx="268" cy="904" rx="44.4" ry="44.1" fill="url(#gd86038)" opacity="0.39" transform="rotate(20 268 904)"/>
<ellipse cx="1041" cy="746" rx="67.2" ry="70.0" fill="url(#g6a1400)" opacity="0.30" transform="rotate(60 1041 746)"/>
<ellipse cx="540" cy="300" rx="71.2" ry="84.2" fill="url(#gd86038)" opacity="0.39" transform="rotate(15 540 300)"/>
<ellipse cx="1191" cy="958" rx="60.7" ry="66.7" fill="url(#gd86038)" opacity="0.39" transform="rotate(30 1191 958)"/>
<ellipse cx="1620" cy="1469" rx="70.8" ry="54.6" fill="url(#gd86038)" opacity="0.44" transform="rotate(-53 1620 1469)"/>
<ellipse cx="1101" cy="283" rx="59.0" ry="46.6" fill="url(#g6a1400)" opacity="0.27" transform="rotate(-50 1101 283)"/>
<ellipse cx="1112" cy="678" rx="56.7" ry="49.1" fill="url(#g6a1400)" opacity="0.32" transform="rotate(-19 1112 678)"/>
<ellipse cx="301" cy="309" rx="68.3" ry="74.7" fill="url(#gd86038)" opacity="0.44" transform="rotate(32 301 309)"/>
<ellipse cx="569" cy="1315" rx="52.9" ry="58.7" fill="url(#gd86038)" opacity="0.48" transform="rotate(59 569 1315)"/>
<ellipse cx="1280" cy="1477" rx="55.0" ry="52.4" fill="url(#g6a1400)" opacity="0.19" transform="rotate(-48 1280 1477)"/>
<ellipse cx="314" cy="957" rx="57.0" ry="64.2" fill="url(#g6a1400)" opacity="0.19" transform="rotate(-24 314 957)"/>
<ellipse cx="503" cy="1099" rx="42.9" ry="39.3" fill="url(#g6a1400)" opacity="0.22" transform="rotate(27 503 1099)"/>
<ellipse cx="401" cy="656" rx="65.4" ry="62.2" fill="url(#g6a1400)" opacity="0.27" transform="rotate(-46 401 656)"/>
<ellipse cx="1531" cy="1504" rx="72.0" ry="71.3" fill="url(#gd86038)" opacity="0.41" transform="rotate(36 1531 1504)"/>
<ellipse cx="775" cy="1497" rx="71.3" ry="63.2" fill="url(#gd86038)" opacity="0.42" transform="rotate(-17 775 1497)"/>
<ellipse cx="769" cy="699" rx="46.8" ry="49.6" fill="url(#gd86038)" opacity="0.57" transform="rotate(36 769 699)"/>
<ellipse cx="1013" cy="391" rx="66.6" ry="82.2" fill="url(#gd86038)" opacity="0.47" transform="rotate(-26 1013 391)"/>
<ellipse cx="986" cy="961" rx="73.8" ry="81.8" fill="url(#gd86038)" opacity="0.48" transform="rotate(37 986 961)"/>
<ellipse cx="1341" cy="257" rx="42.9" ry="49.5" fill="url(#gd86038)" opacity="0.51" transform="rotate(48 1341 257)"/>
<ellipse cx="402" cy="1221" rx="62.7" ry="55.5" fill="url(#g6a1400)" opacity="0.27" transform="rotate(-34 402 1221)"/>
<ellipse cx="1307" cy="709" rx="51.8" ry="66.5" fill="url(#gd86038)" opacity="0.48" transform="rotate(21 1307 709)"/>
<ellipse cx="1243" cy="1166" rx="72.0" ry="70.3" fill="url(#g6a1400)" opacity="0.32" transform="rotate(39 1243 1166)"/>
<ellipse cx="1367" cy="1350" rx="71.1" ry="90.8" fill="url(#gd86038)" opacity="0.53" transform="rotate(17 1367 1350)"/>
<ellipse cx="1362" cy="749" rx="54.7" ry="45.4" fill="url(#g6a1400)" opacity="0.24" transform="rotate(29 1362 749)"/>
<ellipse cx="437" cy="432" rx="54.9" ry="50.0" fill="url(#gd86038)" opacity="0.41" transform="rotate(56 437 432)"/>
<ellipse cx="360" cy="1079" rx="67.2" ry="57.0" fill="url(#gd86038)" opacity="0.49" transform="rotate(-53 360 1079)"/>
<ellipse cx="1518" cy="187" rx="43.8" ry="37.3" fill="url(#gd86038)" opacity="0.53" transform="rotate(-34 1518 187)"/>
<ellipse cx="1059" cy="461" rx="46.5" ry="42.0" fill="url(#g6a1400)" opacity="0.23" transform="rotate(-39 1059 461)"/>
<ellipse cx="992" cy="1325" rx="56.8" ry="50.7" fill="url(#g6a1400)" opacity="0.23" transform="rotate(46 992 1325)"/>
<ellipse cx="990" cy="1529" rx="56.9" ry="49.6" fill="url(#g6a1400)" opacity="0.32" transform="rotate(-54 990 1529)"/>
<ellipse cx="754" cy="903" rx="58.1" ry="52.3" fill="url(#g6a1400)" opacity="0.22" transform="rotate(59 754 903)"/>
<ellipse cx="208" cy="823" rx="53.0" ry="63.0" fill="url(#gd86038)" opacity="0.36" transform="rotate(26 208 823)"/>
<ellipse cx="421" cy="603" rx="49.1" ry="60.3" fill="url(#gd86038)" opacity="0.62" transform="rotate(2 421 603)"/>
<ellipse cx="581" cy="913" rx="45.3" ry="53.1" fill="url(#g6a1400)" opacity="0.32" transform="rotate(-60 581 913)"/>
<ellipse cx="1391" cy="254" rx="49.4" ry="56.6" fill="url(#gd86038)" opacity="0.46" transform="rotate(-48 1391 254)"/>
<ellipse cx="1585" cy="989" rx="70.0" ry="64.2" fill="url(#gd86038)" opacity="0.59" transform="rotate(35 1585 989)"/>
<ellipse cx="325" cy="1339" rx="47.3" ry="49.6" fill="url(#gd86038)" opacity="0.57" transform="rotate(3 325 1339)"/>
<ellipse cx="646" cy="587" rx="42.7" ry="39.2" fill="url(#g6a1400)" opacity="0.24" transform="rotate(-4 646 587)"/>
<ellipse cx="1194" cy="288" rx="53.8" ry="54.0" fill="url(#g6a1400)" opacity="0.29" transform="rotate(56 1194 288)"/>
<ellipse cx="211" cy="684" rx="64.9" ry="57.1" fill="url(#gd86038)" opacity="0.31" transform="rotate(8 211 684)"/>
<ellipse cx="1638" cy="1300" rx="47.2" ry="51.4" fill="url(#gd86038)" opacity="0.48" transform="rotate(-25 1638 1300)"/>
<ellipse cx="627" cy="626" rx="53.7" ry="60.0" fill="url(#gd86038)" opacity="0.54" transform="rotate(-29 627 626)"/>
<ellipse cx="673" cy="1512" rx="59.7" ry="68.5" fill="url(#g6a1400)" opacity="0.19" transform="rotate(-20 673 1512)"/>
<ellipse cx="398" cy="272" rx="63.7" ry="72.6" fill="url(#gd86038)" opacity="0.57" transform="rotate(-38 398 272)"/>
<ellipse cx="1056" cy="265" rx="47.9" ry="40.1" fill="url(#gd86038)" opacity="0.33" transform="rotate(-45 1056 265)"/>
<ellipse cx="1534" cy="757" rx="57.9" ry="64.0" fill="url(#g6a1400)" opacity="0.24" transform="rotate(32 1534 757)"/>
<ellipse cx="676" cy="735" rx="40.5" ry="39.3" fill="url(#g6a1400)" opacity="0.31" transform="rotate(24 676 735)"/>
<ellipse cx="1155" cy="1021" rx="40.6" ry="37.9" fill="url(#g6a1400)" opacity="0.19" transform="rotate(-19 1155 1021)"/>
<ellipse cx="743" cy="877" rx="67.6" ry="81.4" fill="url(#gd86038)" opacity="0.55" transform="rotate(13 743 877)"/>
<ellipse cx="1509" cy="933" rx="52.3" ry="53.7" fill="url(#g6a1400)" opacity="0.35" transform="rotate(-43 1509 933)"/>
<ellipse cx="945" cy="1177" rx="69.2" ry="59.4" fill="url(#gd86038)" opacity="0.37" transform="rotate(53 945 1177)"/>
<ellipse cx="314" cy="491" rx="60.2" ry="68.2" fill="url(#g6a1400)" opacity="0.24" transform="rotate(-20 314 491)"/>
<ellipse cx="867" cy="315" rx="74.1" ry="61.1" fill="url(#gd86038)" opacity="0.48" transform="rotate(48 867 315)"/>
<ellipse cx="1009" cy="519" rx="71.8" ry="93.1" fill="url(#gd86038)" opacity="0.35" transform="rotate(38 1009 519)"/>
<ellipse cx="1394" cy="555" rx="71.4" ry="63.0" fill="url(#g6a1400)" opacity="0.21" transform="rotate(9 1394 555)"/>
<ellipse cx="991" cy="245" rx="41.1" ry="34.9" fill="url(#g6a1400)" opacity="0.29" transform="rotate(58 991 245)"/>
<ellipse cx="641" cy="1113" rx="65.8" ry="63.2" fill="url(#g6a1400)" opacity="0.18" transform="rotate(11 641 1113)"/>
<ellipse cx="483" cy="816" rx="45.0" ry="43.3" fill="url(#gd86038)" opacity="0.47" transform="rotate(8 483 816)"/>
<ellipse cx="577" cy="962" rx="51.6" ry="56.9" fill="url(#g6a1400)" opacity="0.20" transform="rotate(-55 577 962)"/>
<ellipse cx="1591" cy="1009" rx="56.4" ry="55.1" fill="url(#g6a1400)" opacity="0.31" transform="rotate(15 1591 1009)"/>
<ellipse cx="1288" cy="842" rx="74.8" ry="90.6" fill="url(#gd86038)" opacity="0.44" transform="rotate(43 1288 842)"/>
<ellipse cx="1017" cy="1454" rx="58.4" ry="60.7" fill="url(#g6a1400)" opacity="0.23" transform="rotate(-8 1017 1454)"/>
<ellipse cx="272" cy="1192" rx="71.5" ry="82.4" fill="url(#g6a1400)" opacity="0.23" transform="rotate(12 272 1192)"/>
<ellipse cx="1057" cy="236" rx="44.4" ry="44.2" fill="url(#gd86038)" opacity="0.33" transform="rotate(0 1057 236)"/>
<ellipse cx="1205" cy="901" rx="48.4" ry="44.4" fill="url(#gd86038)" opacity="0.33" transform="rotate(-13 1205 901)"/>
<ellipse cx="1521" cy="1543" rx="63.3" ry="77.6" fill="url(#g6a1400)" opacity="0.21" transform="rotate(-9 1521 1543)"/>
<ellipse cx="1281" cy="960" rx="71.6" ry="57.6" fill="url(#gd86038)" opacity="0.48" transform="rotate(35 1281 960)"/>
<ellipse cx="1579" cy="135" rx="48.5" ry="44.4" fill="url(#gd86038)" opacity="0.59" transform="rotate(-21 1579 135)"/>
<ellipse cx="1381" cy="713" rx="52.5" ry="56.3" fill="url(#gd86038)" opacity="0.59" transform="rotate(-54 1381 713)"/>
<ellipse cx="641" cy="861" rx="72.7" ry="93.6" fill="url(#gd86038)" opacity="0.40" transform="rotate(-3 641 861)"/>
<ellipse cx="1537" cy="1442" rx="46.8" ry="56.7" fill="url(#gd86038)" opacity="0.36" transform="rotate(-18 1537 1442)"/>
<ellipse cx="1475" cy="1585" rx="47.1" ry="51.7" fill="url(#g6a1400)" opacity="0.18" transform="rotate(-37 1475 1585)"/>
<ellipse cx="347" cy="1192" rx="51.0" ry="63.4" fill="url(#g6a1400)" opacity="0.20" transform="rotate(44 347 1192)"/>
<ellipse cx="1207" cy="1501" rx="55.6" ry="44.1" fill="url(#gd86038)" opacity="0.53" transform="rotate(-33 1207 1501)"/>
<ellipse cx="479" cy="398" rx="48.2" ry="53.8" fill="url(#gd86038)" opacity="0.52" transform="rotate(35 479 398)"/>
<ellipse cx="1482" cy="994" rx="48.0" ry="44.0" fill="url(#g6a1400)" opacity="0.22" transform="rotate(51 1482 994)"/>
<ellipse cx="1125" cy="265" rx="74.4" ry="73.8" fill="url(#gd86038)" opacity="0.32" transform="rotate(3 1125 265)"/>
<ellipse cx="1067" cy="549" rx="48.8" ry="58.1" fill="url(#gd86038)" opacity="0.54" transform="rotate(-50 1067 549)"/>
<ellipse cx="551" cy="541" rx="59.2" ry="50.5" fill="url(#g6a1400)" opacity="0.18" transform="rotate(48 551 541)"/>
<ellipse cx="865" cy="1228" rx="53.5" ry="67.4" fill="url(#gd86038)" opacity="0.48" transform="rotate(-0 865 1228)"/>
<ellipse cx="1133" cy="658" rx="63.0" ry="74.4" fill="url(#gd86038)" opacity="0.57" transform="rotate(2 1133 658)"/>
<ellipse cx="1190" cy="893" rx="73.3" ry="62.0" fill="url(#gd86038)" opacity="0.50" transform="rotate(34 1190 893)"/>
<ellipse cx="536" cy="776" rx="67.1" ry="79.3" fill="url(#gd86038)" opacity="0.46" transform="rotate(35 536 776)"/>
<ellipse cx="515" cy="980" rx="57.5" ry="44.2" fill="url(#g6a1400)" opacity="0.28" transform="rotate(12 515 980)"/>
<ellipse cx="1465" cy="396" rx="45.3" ry="34.4" fill="url(#gd86038)" opacity="0.45" transform="rotate(-0 1465 396)"/>
<ellipse cx="576" cy="1298" rx="42.5" ry="53.1" fill="url(#gd86038)" opacity="0.56" transform="rotate(8 576 1298)"/>
<ellipse cx="539" cy="347" rx="50.9" ry="39.3" fill="url(#gd86038)" opacity="0.47" transform="rotate(-22 539 347)"/>
<ellipse cx="578" cy="992" rx="43.1" ry="51.8" fill="url(#gd86038)" opacity="0.36" transform="rotate(-39 578 992)"/>
<ellipse cx="1199" cy="1345" rx="67.5" ry="52.9" fill="url(#gd86038)" opacity="0.38" transform="rotate(-11 1199 1345)"/>
<ellipse cx="1607" cy="195" rx="57.1" ry="66.8" fill="url(#gd86038)" opacity="0.45" transform="rotate(58 1607 195)"/>
<ellipse cx="1278" cy="191" rx="48.4" ry="60.0" fill="url(#gd86038)" opacity="0.40" transform="rotate(-43 1278 191)"/>
<ellipse cx="811" cy="246" rx="41.2" ry="53.5" fill="url(#g6a1400)" opacity="0.22" transform="rotate(32 811 246)"/>
<ellipse cx="562" cy="939" rx="48.5" ry="48.6" fill="url(#gd86038)" opacity="0.41" transform="rotate(52 562 939)"/>
<ellipse cx="1623" cy="1025" rx="41.4" ry="40.2" fill="url(#gd86038)" opacity="0.42" transform="rotate(18 1623 1025)"/>
<ellipse cx="1205" cy="1394" rx="60.7" ry="75.1" fill="url(#gd86038)" opacity="0.57" transform="rotate(-4 1205 1394)"/>
<ellipse cx="748" cy="1273" rx="47.5" ry="44.7" fill="url(#gd86038)" opacity="0.36" transform="rotate(-38 748 1273)"/>
<ellipse cx="489" cy="447" rx="56.4" ry="51.8" fill="url(#g6a1400)" opacity="0.29" transform="rotate(-6 489 447)"/>
<ellipse cx="1450" cy="432" rx="53.4" ry="42.2" fill="url(#gd86038)" opacity="0.40" transform="rotate(23 1450 432)"/>
<ellipse cx="220" cy="399" rx="49.2" ry="47.5" fill="url(#g6a1400)" opacity="0.22" transform="rotate(51 220 399)"/>
<ellipse cx="719" cy="358" rx="72.8" ry="69.0" fill="url(#g6a1400)" opacity="0.33" transform="rotate(32 719 358)"/>
<ellipse cx="222" cy="604" rx="53.5" ry="42.5" fill="url(#gd86038)" opacity="0.55" transform="rotate(46 222 604)"/>
<ellipse cx="949" cy="214" rx="53.8" ry="47.4" fill="url(#gd86038)" opacity="0.49" transform="rotate(-55 949 214)"/>
<ellipse cx="239" cy="589" rx="54.8" ry="57.5" fill="url(#g6a1400)" opacity="0.22" transform="rotate(-44 239 589)"/>
<ellipse cx="1250" cy="1105" rx="45.2" ry="38.9" fill="url(#g6a1400)" opacity="0.25" transform="rotate(-26 1250 1105)"/>
<ellipse cx="756" cy="1397" rx="47.9" ry="43.6" fill="url(#gd86038)" opacity="0.32" transform="rotate(-19 756 1397)"/>
<ellipse cx="228" cy="1053" rx="59.8" ry="71.5" fill="url(#gd86038)" opacity="0.52" transform="rotate(57 228 1053)"/>
<ellipse cx="1532" cy="449" rx="64.1" ry="71.6" fill="url(#g6a1400)" opacity="0.22" transform="rotate(55 1532 449)"/>
<ellipse cx="1114" cy="265" rx="55.0" ry="53.1" fill="url(#gd86038)" opacity="0.41" transform="rotate(-53 1114 265)"/>
<ellipse cx="917" cy="542" rx="45.6" ry="44.2" fill="url(#gd86038)" opacity="0.52" transform="rotate(-3 917 542)"/>
<ellipse cx="542" cy="270" rx="52.0" ry="51.0" fill="url(#gd86038)" opacity="0.53" transform="rotate(-42 542 270)"/>
<ellipse cx="999" cy="1155" rx="40.8" ry="39.4" fill="url(#gd86038)" opacity="0.44" transform="rotate(-16 999 1155)"/>
<ellipse cx="272" cy="857" rx="60.5" ry="61.0" fill="url(#gd86038)" opacity="0.32" transform="rotate(-21 272 857)"/>
<ellipse cx="698" cy="1434" rx="59.8" ry="53.5" fill="url(#gd86038)" opacity="0.46" transform="rotate(20 698 1434)"/>
<ellipse cx="1089" cy="1526" rx="52.7" ry="56.2" fill="url(#g6a1400)" opacity="0.28" transform="rotate(53 1089 1526)"/>
<ellipse cx="1097" cy="733" rx="54.5" ry="49.2" fill="url(#g6a1400)" opacity="0.24" transform="rotate(40 1097 733)"/>
<ellipse cx="1518" cy="190" rx="44.8" ry="46.0" fill="url(#gd86038)" opacity="0.61" transform="rotate(-23 1518 190)"/>
<ellipse cx="411" cy="415" rx="48.0" ry="54.0" fill="url(#gd86038)" opacity="0.48" transform="rotate(-32 411 415)"/>
<ellipse cx="767" cy="483" rx="57.3" ry="63.4" fill="url(#gd86038)" opacity="0.48" transform="rotate(6 767 483)"/>
<ellipse cx="1404" cy="1547" rx="51.7" ry="48.6" fill="url(#gd86038)" opacity="0.53" transform="rotate(46 1404 1547)"/>
<ellipse cx="1206" cy="1135" rx="73.7" ry="88.7" fill="url(#gd86038)" opacity="0.46" transform="rotate(-41 1206 1135)"/>
<ellipse cx="1014" cy="673" rx="50.0" ry="58.1" fill="url(#gd86038)" opacity="0.39" transform="rotate(4 1014 673)"/>
<ellipse cx="666" cy="393" rx="58.0" ry="47.5" fill="url(#gd86038)" opacity="0.34" transform="rotate(-52 666 393)"/>
<ellipse cx="1220" cy="298" rx="55.8" ry="65.6" fill="url(#gd86038)" opacity="0.58" transform="rotate(-2 1220 298)"/>
<ellipse cx="1460" cy="212" rx="48.9" ry="50.3" fill="url(#gd86038)" opacity="0.53" transform="rotate(36 1460 212)"/>
<ellipse cx="560" cy="1178" rx="51.4" ry="48.0" fill="url(#g6a1400)" opacity="0.32" transform="rotate(31 560 1178)"/>
<ellipse cx="1020" cy="747" rx="64.7" ry="70.7" fill="url(#g6a1400)" opacity="0.20" transform="rotate(40 1020 747)"/>
<ellipse cx="742" cy="1110" rx="48.1" ry="40.9" fill="url(#gd86038)" opacity="0.60" transform="rotate(-58 742 1110)"/>
<ellipse cx="828.4" cy="1169.0" rx="113.6" ry="58.7" fill="url(#g1a0400)" opacity="0.62"/>
<ellipse cx="838.4" cy="1190.0" rx="80.4" ry="52.1" fill="url(#g200500)" opacity="0.62"/>
<ellipse cx="494.2" cy="1539.1" rx="62.5" ry="62.5" fill="url(#g3a0800)" opacity="0.62"/>
<ellipse cx="1289.1" cy="1374.5" rx="106.0" ry="68.1" fill="url(#g3a0800)" opacity="0.62"/>
<ellipse cx="1014.8" cy="819.9" rx="73.8" ry="73.8" fill="url(#g4a0a00)" opacity="0.62"/>
<ellipse cx="698.7" cy="1369.5" rx="89.9" ry="49.2" fill="url(#g4a0a00)" opacity="0.62"/>
<ellipse cx="559.1" cy="1464.3" rx="68.1" ry="68.1" fill="url(#g4a0a00)" opacity="0.62"/>
<ellipse cx="1378.9" cy="1244.8" rx="106.0" ry="77.6" fill="url(#g4a0a00)" opacity="0.62"/>
<ellipse cx="1199.3" cy="1399.5" rx="58.7" ry="58.7" fill="url(#g4a0a00)" opacity="0.62"/>
<ellipse cx="1139.5" cy="1499.2" rx="58.7" ry="96.5" fill="url(#g4a0a00)" opacity="0.62"/>
<ellipse cx="1628.2" cy="1499.2" rx="58.7" ry="58.7" fill="url(#g4a0a00)" opacity="0.62"/>
<ellipse cx="913.3" cy="248.7" rx="93.5" ry="93.5" fill="url(#g4a0c00)" opacity="0.62"/>
<ellipse cx="992.7" cy="306.1" rx="109.1" ry="46.7" fill="url(#g4a0c00)" opacity="0.62" transform="rotate(25 992.7 306.1)"/>
<ellipse cx="806.5" cy="347.2" rx="51.9" ry="88.3" fill="url(#g4a0c00)" opacity="0.62" transform="rotate(-30 806.5 347.2)"/>
<ellipse cx="891.4" cy="402.0" rx="98.7" ry="46.7" fill="url(#g4a0c00)" opacity="0.62" transform="rotate(5 891.4 402.0)"/>
<ellipse cx="205.0" cy="1324.6" rx="58.7" ry="58.7" fill="url(#g4a0c00)" opacity="0.62"/>
<ellipse cx="444.4" cy="819.9" rx="54.9" ry="54.9" fill="url(#g5a1000)" opacity="0.62"/>
<ellipse cx="289.8" cy="1049.3" rx="58.7" ry="108.8" fill="url(#g5a1000)" opacity="0.62" transform="rotate(-15 289.8 1049.3)"/>
<ellipse cx="713.7" cy="879.7" rx="80.4" ry="52.1" fill="url(#g5a1000)" opacity="0.62" transform="rotate(30 713.7 879.7)"/>
<ellipse cx="628.9" cy="1139.1" rx="58.7" ry="58.7" fill="url(#g5a1000)" opacity="0.62"/>
<ellipse cx="913.2" cy="969.5" rx="58.7" ry="58.7" fill="url(#g5a1000)" opacity="0.62"/>
<ellipse cx="1508.5" cy="799.9" rx="49.2" ry="49.2" fill="url(#g5a1000)" opacity="0.62"/>
<ellipse cx="1423.7" cy="864.8" rx="58.7" ry="58.7" fill="url(#g5a1000)" opacity="0.62"/>
<ellipse cx="783.5" cy="1289.7" rx="58.7" ry="58.7" fill="url(#g5a1000)" opacity="0.62"/>
<ellipse cx="1343.9" cy="1479.3" rx="68.1" ry="96.5" fill="url(#g5a1000)" opacity="0.62"/>
<ellipse cx="1573.4" cy="1429.4" rx="58.7" ry="58.7" fill="url(#g5a1000)" opacity="0.62"/>
<ellipse cx="855.8" cy="757.8" rx="62.3" ry="41.6" fill="url(#g6a1400)" opacity="0.62"/>
<ellipse cx="354.6" cy="939.6" rx="80.4" ry="80.4" fill="url(#g6a1400)" opacity="0.62"/>
<ellipse cx="888.3" cy="1119.1" rx="47.3" ry="47.3" fill="url(#g6a1400)" opacity="0.62"/>
<ellipse cx="935.0" cy="984.5" rx="49.2" ry="49.2" fill="url(#g6a1400)" opacity="0.62"/>
<ellipse cx="1403.8" cy="984.5" rx="43.5" ry="43.5" fill="url(#g6a1400)" opacity="0.62"/>
<ellipse cx="1558.4" cy="1079.2" rx="49.2" ry="49.2" fill="url(#g6a1400)" opacity="0.62"/>
<ellipse cx="1139.5" cy="1084.2" rx="43.5" ry="43.5" fill="url(#g6a1400)" opacity="0.62"/>
<ellipse cx="628.9" cy="1399.5" rx="56.8" ry="56.8" fill="url(#g6a1400)" opacity="0.62"/>
<ellipse cx="1613.3" cy="1574.0" rx="66.2" ry="42.6" fill="url(#g6a1400)" opacity="0.62"/>
<ellipse cx="1598.3" cy="1224.9" rx="43.5" ry="43.5" fill="url(#g6a1400)" opacity="0.62"/>
<ellipse cx="1000.9" cy="653.8" rx="46.7" ry="67.5" fill="url(#g701400)" opacity="0.62"/>
<ellipse cx="1006.4" cy="484.1" rx="31.2" ry="62.3" fill="url(#g7a1800)" opacity="0.62" transform="rotate(-30 1006.4 484.1)"/>
<ellipse cx="509.2" cy="994.4" rx="58.7" ry="58.7" fill="url(#g7a1800)" opacity="0.62"/>
<ellipse cx="429.4" cy="1094.2" rx="68.1" ry="87.1" fill="url(#g7a1800)" opacity="0.62"/>
<ellipse cx="1269.1" cy="1119.1" rx="34.1" ry="34.1" fill="url(#g7a1800)" opacity="0.62"/>
<ellipse cx="1109.5" cy="1039.3" rx="39.7" ry="39.7" fill="url(#g7a1800)" opacity="0.62"/>
<ellipse cx="1358.9" cy="884.7" rx="39.7" ry="39.7" fill="url(#g7a1800)" opacity="0.62"/>
<ellipse cx="1239.2" cy="1504.2" rx="68.1" ry="68.1" fill="url(#g7a1800)" opacity="0.62"/>
<ellipse cx="1054.7" cy="1529.1" rx="47.3" ry="47.3" fill="url(#g7a1800)" opacity="0.62"/>
<ellipse cx="869.5" cy="333.5" rx="57.1" ry="57.1" fill="url(#g8a1c00)" opacity="0.62"/>
<ellipse cx="787.4" cy="585.4" rx="36.4" ry="67.5" fill="url(#g8a1c00)" opacity="0.62"/>
<ellipse cx="399.5" cy="919.6" rx="66.2" ry="66.2" fill="url(#g8a1c00)" opacity="0.62"/>
<ellipse cx="828.4" cy="1254.8" rx="47.3" ry="47.3" fill="url(#g8a1c00)" opacity="0.62"/>
<ellipse cx="254.8" cy="1459.3" rx="56.8" ry="85.2" fill="url(#g8a1c00)" opacity="0.62"/>
<ellipse cx="968.0" cy="188.4" rx="76.8" ry="54.2" fill="url(#ga82800)"/>
<ellipse cx="688.8" cy="1479.3" rx="74.1" ry="74.1" fill="url(#gb83010)"/>
<ellipse cx="1069.6" cy="979.5" rx="49.4" ry="49.4" fill="url(#gc03810)"/>
<ellipse cx="1028.3" cy="276.0" rx="40.7" ry="40.7" fill="url(#gc83c10)"/>
<ellipse cx="1020.1" cy="571.7" rx="31.6" ry="45.2" fill="url(#gc84018)"/>
<ellipse cx="309.7" cy="854.8" rx="49.4" ry="49.4" fill="url(#gc84018)"/>
<ellipse cx="808.5" cy="1049.3" rx="70.0" ry="70.0" fill="url(#gc84018)"/>
<ellipse cx="234.9" cy="829.9" rx="49.4" ry="74.1" fill="url(#gc84018)"/>
<ellipse cx="979.9" cy="944.6" rx="59.3" ry="59.3" fill="url(#gc84018)"/>
<ellipse cx="738.6" cy="1559.1" rx="51.0" ry="51.0" fill="url(#gc84018)"/>
<ellipse cx="1269.1" cy="1229.9" rx="67.5" ry="67.5" fill="url(#gc84018)"/>
<ellipse cx="638.9" cy="1324.6" rx="37.9" ry="37.9" fill="url(#gcc4818)"/>
<ellipse cx="929.7" cy="568.9" rx="45.2" ry="45.2" fill="url(#gcc4c20)"/>
<ellipse cx="349.6" cy="809.9" rx="61.7" ry="61.7" fill="url(#gcc4c20)"/>
<ellipse cx="973.5" cy="536.1" rx="45.2" ry="45.2" fill="url(#gd05828)"/>
<ellipse cx="1568.4" cy="919.6" rx="51.0" ry="51.0" fill="url(#gd05828)"/>
<ellipse cx="1643.2" cy="1229.9" rx="42.8" ry="42.8" fill="url(#gd05828)"/>
<ellipse cx="1299.1" cy="1579.0" rx="46.1" ry="46.1" fill="url(#gd05828)"/>
<ellipse cx="1483.6" cy="989.5" rx="41.1" ry="75.7" fill="url(#gd86030)" transform="rotate(-40 1483.6 989.5)"/>
<ellipse cx="1638.2" cy="1094.2" rx="37.9" ry="75.7" fill="url(#gd86030)"/>
<ellipse cx="713.7" cy="1195.0" rx="46.1" ry="46.1" fill="url(#gd86030)"/>
<ellipse cx="863.3" cy="1554.1" rx="67.5" ry="67.5" fill="url(#gd86030)"/>
<ellipse cx="935.0" cy="1569.0" rx="42.8" ry="42.8" fill="url(#gd86030)"/>
<ellipse cx="1028.3" cy="443.0" rx="45.2" ry="45.2" fill="url(#gd86038)"/>
<ellipse cx="738.6" cy="1094.2" rx="49.4" ry="74.1" fill="url(#gd86038)" transform="rotate(-20 738.6 1094.2)"/>
<ellipse cx="1518.5" cy="1224.9" rx="59.3" ry="59.3" fill="url(#gd86838)"/>
<ellipse cx="1219.3" cy="1099.2" rx="37.9" ry="37.9" fill="url(#gdc6838)"/>
<ellipse cx="1289.1" cy="1049.3" rx="46.1" ry="75.7" fill="url(#ge07040)" transform="rotate(-35 1289.1 1049.3)"/>
<ellipse cx="1343.9" cy="1134.1" rx="41.1" ry="41.1" fill="url(#ge07040)"/>
<ellipse cx="842.1" cy="511.5" rx="94.9" ry="54.2" fill="url(#ge07048)" transform="rotate(38 842.1 511.5)"/>
<ellipse cx="847.6" cy="705.8" rx="51.9" ry="51.9" fill="url(#ge07048)"/>
<ellipse cx="604.0" cy="959.5" rx="70.0" ry="70.0" fill="url(#ge07848)"/>
<ellipse cx="838.4" cy="894.7" rx="57.6" ry="94.6" fill="url(#ge07848)" transform="rotate(-30 838.4 894.7)"/>
<ellipse cx="489.3" cy="1069.3" rx="49.4" ry="49.4" fill="url(#ge07848)"/>
<ellipse cx="1219.3" cy="854.8" rx="181.0" ry="127.6" fill="url(#ge07848)"/>
<ellipse cx="1329.0" cy="954.5" rx="42.8" ry="42.8" fill="url(#ge07848)"/>
<ellipse cx="1638.2" cy="844.8" rx="42.8" ry="75.7" fill="url(#ge07848)"/>
<ellipse cx="1518.5" cy="1169.0" rx="51.0" ry="51.0" fill="url(#ge07848)"/>
<ellipse cx="349.6" cy="1249.8" rx="111.1" ry="59.3" fill="url(#ge07848)" transform="rotate(35 349.6 1249.8)"/>
<ellipse cx="469.3" cy="1209.9" rx="59.3" ry="59.3" fill="url(#ge07848)"/>
<ellipse cx="219.9" cy="1574.0" rx="61.7" ry="51.0" fill="url(#ge07848)"/>
<ellipse cx="928.2" cy="1564.0" rx="41.1" ry="41.1" fill="url(#ge07848)"/>
<ellipse cx="1418.8" cy="1569.0" rx="51.0" ry="51.0" fill="url(#ge07848)"/>
<ellipse cx="1044.7" cy="1279.8" rx="41.1" ry="41.1" fill="url(#ge07848)"/>
<ellipse cx="753.6" cy="814.9" rx="70.0" ry="70.0" fill="url(#ge08050)"/>
<ellipse cx="917.4" cy="633.3" rx="72.3" ry="108.4" fill="url(#ge88050)" transform="rotate(15 917.4 633.3)"/>
<ellipse cx="1184.3" cy="1014.4" rx="51.0" ry="67.5" fill="url(#ge88050)"/>
<ellipse cx="1438.7" cy="1089.2" rx="46.1" ry="83.9" fill="url(#ge88050)" transform="rotate(-40 1438.7 1089.2)"/>
<ellipse cx="613.9" cy="1249.8" rx="64.2" ry="75.7" fill="url(#ge88050)"/>
<ellipse cx="801.1" cy="213.1" rx="76.8" ry="117.4" fill="url(#ge88858)"/>
<ellipse cx="850.3" cy="522.4" rx="45.2" ry="31.6" fill="url(#ge88858)" transform="rotate(38 850.3 522.4)"/>
<ellipse cx="200.0" cy="1009.4" rx="41.1" ry="172.8" fill="url(#ge88858)"/>
<ellipse cx="1179.4" cy="859.8" rx="59.3" ry="59.3" fill="url(#ge88858)"/>
<ellipse cx="414.4" cy="1384.5" rx="67.5" ry="67.5" fill="url(#ge88858)"/>
<ellipse cx="299.7" cy="1329.6" rx="64.2" ry="64.2" fill="url(#ge88858)"/>
<ellipse cx="1483.6" cy="1399.5" rx="59.3" ry="59.3" fill="url(#ge88858)"/>
<ellipse cx="921.5" cy="626.4" rx="40.7" ry="67.8" fill="url(#gf09060)" transform="rotate(15 921.5 626.4)"/>
<ellipse cx="790.1" cy="210.3" rx="40.7" ry="76.8" fill="url(#gf09868)"/>
<ellipse cx="1269.1" cy="844.8" rx="51.0" ry="75.7" fill="url(#gf09868)" transform="rotate(-25 1269.1 844.8)"/>
<ellipse cx="509.2" cy="1304.7" rx="67.5" ry="92.2" fill="url(#gf09868)" transform="rotate(-15 509.2 1304.7)"/>
<ellipse cx="898.2" cy="1394.5" rx="67.5" ry="67.5" fill="url(#gf09868)"/>
<ellipse cx="549.1" cy="877.2" rx="74.1" ry="127.6" fill="url(#gf0a070)" transform="rotate(-30 549.1 877.2)"/>
<ellipse cx="683.8" cy="1009.4" rx="131.7" ry="78.2" fill="url(#gf0a070)" transform="rotate(35 683.8 1009.4)"/>
<ellipse cx="534.1" cy="1119.1" rx="78.2" ry="111.1" fill="url(#gf0a878)" transform="rotate(-30 534.1 1119.1)"/>
<ellipse cx="604.0" cy="1574.0" rx="94.6" ry="78.2" fill="url(#gf8a878)"/>
<ellipse cx="561.6" cy="894.7" rx="41.1" ry="74.1" fill="url(#gf8b080)" transform="rotate(-30 561.6 894.7)"/>
<ellipse cx="974.9" cy="1190.0" rx="92.2" ry="92.2" fill="url(#gf8b080)"/>
<ellipse cx="1468.6" cy="1489.2" rx="70.8" ry="141.5" fill="url(#gf8b080)" transform="rotate(-10 1468.6 1489.2)"/>
<ellipse cx="713.7" cy="1019.4" rx="49.4" ry="49.4" fill="url(#gf8b888)"/>
<ellipse cx="549.1" cy="1149.1" rx="45.3" ry="45.3" fill="url(#gffb888)"/>
<ellipse cx="369.6" cy="1474.3" rx="88.9" ry="127.6" fill="url(#gffb888)" transform="rotate(-20 369.6 1474.3)"/>
<ellipse cx="974.9" cy="1469.3" rx="79.0" ry="100.4" fill="url(#gffc090)"/>
<ellipse cx="369.6" cy="1479.3" rx="49.4" ry="82.3" fill="url(#gffc898)" transform="rotate(-20 369.6 1479.3)"/>
<ellipse cx="1149.4" cy="1279.8" rx="83.9" ry="83.9" fill="url(#gffd0a8)"/>
<ellipse cx="1094.6" cy="1354.6" rx="83.9" ry="83.9" fill="url(#gffd0a8)"/>
<ellipse cx="974.9" cy="1464.3" rx="45.3" ry="45.3" fill="url(#gffd8b8)"/>
<ellipse cx="974.9" cy="1190.0" rx="42.8" ry="42.8" fill="url(#gffe8d0)"/>
<ellipse cx="1149.4" cy="1279.8" rx="39.5" ry="39.5" fill="url(#gffe8d0)"/>
<ellipse cx="1094.6" cy="1354.6" rx="39.5" ry="39.5" fill="url(#gffe8d0)"/>
</g>
<rect x="192.6" y="134.0" width="1457.4" height="1458.0" filter="url(#grain)" opacity="0.07"/>
<line x1="188.00" y1="430.40" x2="1644.80" y2="1581.30" stroke="#00ff00" stroke-width="11" stroke-linecap="butt"/>
<line x1="991.30" y1="984.50" x2="991.30" y2="1365.50" stroke="#00ff00" stroke-width="10" stroke-linecap="butt"/>
<text x="903.50" y="1424.50" font-size="117" text-anchor="start" fill="#fff" font-family="Liberation Sans, Arial, sans-serif" font-weight="bold">2</text>
<text x="1377.00" y="1354.60" font-size="117" text-anchor="start" fill="#fff" font-family="Liberation Sans, Arial, sans-serif" font-weight="bold">1</text>
</g>
<rect x="191.80" y="133.00" width="1459.20" height="1460.00" fill="none" stroke="#1a0000" stroke-width="2"/>
<line x1="179.80" y1="1591.00" x2="191.30" y2="1591.00" stroke="#000" stroke-width="1.7" stroke-linecap="butt"/>
<line x1="194.06" y1="1593.50" x2="194.06" y2="1606.00" stroke="#000" stroke-width="1.7" stroke-linecap="butt"/>
<line x1="185.80" y1="1561.89" x2="191.30" y2="1561.89" stroke="#000" stroke-width="1.7" stroke-linecap="butt"/>
<line x1="223.16" y1="1593.50" x2="223.16" y2="1599.00" stroke="#000" stroke-width="1.7" stroke-linecap="butt"/>
<line x1="185.80" y1="1532.78" x2="191.30" y2="1532.78" stroke="#000" stroke-width="1.7" stroke-linecap="butt"/>
<line x1="252.25" y1="1593.50" x2="252.25" y2="1599.00" stroke="#000" stroke-width="1.7" stroke-linecap="butt"/>
<line x1="185.80" y1="1503.66" x2="191.30" y2="1503.66" stroke="#000" stroke-width="1.7" stroke-linecap="butt"/>
<line x1="281.35" y1="1593.50" x2="281.35" y2="1599.00" stroke="#000" stroke-width="1.7" stroke-linecap="butt"/>
<line x1="185.80" y1="1474.55" x2="191.30" y2="1474.55" stroke="#000" stroke-width="1.7" stroke-linecap="butt"/>
<line x1="310.44" y1="1593.50" x2="310.44" y2="1599.00" stroke="#000" stroke-width="1.7" stroke-linecap="butt"/>
<line x1="179.80" y1="1445.44" x2="191.30" y2="1445.44" stroke="#000" stroke-width="1.7" stroke-linecap="butt"/>
<line x1="339.54" y1="1593.50" x2="339.54" y2="1606.00" stroke="#000" stroke-width="1.7" stroke-linecap="butt"/>
<line x1="185.80" y1="1416.33" x2="191.30" y2="1416.33" stroke="#000" stroke-width="1.7" stroke-linecap="butt"/>
<line x1="368.64" y1="1593.50" x2="368.64" y2="1599.00" stroke="#000" stroke-width="1.7" stroke-linecap="butt"/>
<line x1="185.80" y1="1387.22" x2="191.30" y2="1387.22" stroke="#000" stroke-width="1.7" stroke-linecap="butt"/>
<line x1="397.73" y1="1593.50" x2="397.73" y2="1599.00" stroke="#000" stroke-width="1.7" stroke-linecap="butt"/>
<line x1="185.80" y1="1358.10" x2="191.30" y2="1358.10" stroke="#000" stroke-width="1.7" stroke-linecap="butt"/>
<line x1="426.83" y1="1593.50" x2="426.83" y2="1599.00" stroke="#000" stroke-width="1.7" stroke-linecap="butt"/>
<line x1="185.80" y1="1328.99" x2="191.30" y2="1328.99" stroke="#000" stroke-width="1.7" stroke-linecap="butt"/>
<line x1="455.92" y1="1593.50" x2="455.92" y2="1599.00" stroke="#000" stroke-width="1.7" stroke-linecap="butt"/>
<line x1="179.80" y1="1299.88" x2="191.30" y2="1299.88" stroke="#000" stroke-width="1.7" stroke-linecap="butt"/>
<line x1="485.02" y1="1593.50" x2="485.02" y2="1606.00" stroke="#000" stroke-width="1.7" stroke-linecap="butt"/>
<line x1="185.80" y1="1270.77" x2="191.30" y2="1270.77" stroke="#000" stroke-width="1.7" stroke-linecap="butt"/>
<line x1="514.12" y1="1593.50" x2="514.12" y2="1599.00" stroke="#000" stroke-width="1.7" stroke-linecap="butt"/>
<line x1="185.80" y1="1241.66" x2="191.30" y2="1241.66" stroke="#000" stroke-width="1.7" stroke-linecap="butt"/>
<line x1="543.21" y1="1593.50" x2="543.21" y2="1599.00" stroke="#000" stroke-width="1.7" stroke-linecap="butt"/>
<line x1="185.80" y1="1212.54" x2="191.30" y2="1212.54" stroke="#000" stroke-width="1.7" stroke-linecap="butt"/>
<line x1="572.31" y1="1593.50" x2="572.31" y2="1599.00" stroke="#000" stroke-width="1.7" stroke-linecap="butt"/>
<line x1="185.80" y1="1183.43" x2="191.30" y2="1183.43" stroke="#000" stroke-width="1.7" stroke-linecap="butt"/>
<line x1="601.40" y1="1593.50" x2="601.40" y2="1599.00" stroke="#000" stroke-width="1.7" stroke-linecap="butt"/>
<line x1="179.80" y1="1154.32" x2="191.30" y2="1154.32" stroke="#000" stroke-width="1.7" stroke-linecap="butt"/>
<line x1="630.50" y1="1593.50" x2="630.50" y2="1606.00" stroke="#000" stroke-width="1.7" stroke-linecap="butt"/>
<line x1="185.80" y1="1125.21" x2="191.30" y2="1125.21" stroke="#000" stroke-width="1.7" stroke-linecap="butt"/>
<line x1="659.60" y1="1593.50" x2="659.60" y2="1599.00" stroke="#000" stroke-width="1.7" stroke-linecap="butt"/>
<line x1="185.80" y1="1096.10" x2="191.30" y2="1096.10" stroke="#000" stroke-width="1.7" stroke-linecap="butt"/>
<line x1="688.69" y1="1593.50" x2="688.69" y2="1599.00" stroke="#000" stroke-width="1.7" stroke-linecap="butt"/>
<line x1="185.80" y1="1066.98" x2="191.30" y2="1066.98" stroke="#000" stroke-width="1.7" stroke-linecap="butt"/>
<line x1="717.79" y1="1593.50" x2="717.79" y2="1599.00" stroke="#000" stroke-width="1.7" stroke-linecap="butt"/>
<line x1="185.80" y1="1037.87" x2="191.30" y2="1037.87" stroke="#000" stroke-width="1.7" stroke-linecap="butt"/>
<line x1="746.88" y1="1593.50" x2="746.88" y2="1599.00" stroke="#000" stroke-width="1.7" stroke-linecap="butt"/>
<line x1="179.80" y1="1008.76" x2="191.30" y2="1008.76" stroke="#000" stroke-width="1.7" stroke-linecap="butt"/>
<line x1="775.98" y1="1593.50" x2="775.98" y2="1606.00" stroke="#000" stroke-width="1.7" stroke-linecap="butt"/>
<line x1="185.80" y1="979.65" x2="191.30" y2="979.65" stroke="#000" stroke-width="1.7" stroke-linecap="butt"/>
<line x1="805.08" y1="1593.50" x2="805.08" y2="1599.00" stroke="#000" stroke-width="1.7" stroke-linecap="butt"/>
<line x1="185.80" y1="950.54" x2="191.30" y2="950.54" stroke="#000" stroke-width="1.7" stroke-linecap="butt"/>
<line x1="834.17" y1="1593.50" x2="834.17" y2="1599.00" stroke="#000" stroke-width="1.7" stroke-linecap="butt"/>
<line x1="185.80" y1="921.42" x2="191.30" y2="921.42" stroke="#000" stroke-width="1.7" stroke-linecap="butt"/>
<line x1="863.27" y1="1593.50" x2="863.27" y2="1599.00" stroke="#000" stroke-width="1.7" stroke-linecap="butt"/>
<line x1="185.80" y1="892.31" x2="191.30" y2="892.31" stroke="#000" stroke-width="1.7" stroke-linecap="butt"/>
<line x1="892.36" y1="1593.50" x2="892.36" y2="1599.00" stroke="#000" stroke-width="1.7" stroke-linecap="butt"/>
<line x1="179.80" y1="863.20" x2="191.30" y2="863.20" stroke="#000" stroke-width="1.7" stroke-linecap="butt"/>
<line x1="921.46" y1="1593.50" x2="921.46" y2="1606.00" stroke="#000" stroke-width="1.7" stroke-linecap="butt"/>
<line x1="185.80" y1="834.09" x2="191.30" y2="834.09" stroke="#000" stroke-width="1.7" stroke-linecap="butt"/>
<line x1="950.56" y1="1593.50" x2="950.56" y2="1599.00" stroke="#000" stroke-width="1.7" stroke-linecap="butt"/>
<line x1="185.80" y1="804.98" x2="191.30" y2="804.98" stroke="#000" stroke-width="1.7" stroke-linecap="butt"/>
<line x1="979.65" y1="1593.50" x2="979.65" y2="1599.00" stroke="#000" stroke-width="1.7" stroke-linecap="butt"/>
<line x1="185.80" y1="775.86" x2="191.30" y2="775.86" stroke="#000" stroke-width="1.7" stroke-linecap="butt"/>
<line x1="1008.75" y1="1593.50" x2="1008.75" y2="1599.00" stroke="#000" stroke-width="1.7" stroke-linecap="butt"/>
<line x1="185.80" y1="746.75" x2="191.30" y2="746.75" stroke="#000" stroke-width="1.7" stroke-linecap="butt"/>
<line x1="1037.84" y1="1593.50" x2="1037.84" y2="1599.00" stroke="#000" stroke-width="1.7" stroke-linecap="butt"/>
<line x1="179.80" y1="717.64" x2="191.30" y2="717.64" stroke="#000" stroke-width="1.7" stroke-linecap="butt"/>
<line x1="1066.94" y1="1593.50" x2="1066.94" y2="1606.00" stroke="#000" stroke-width="1.7" stroke-linecap="butt"/>
<line x1="185.80" y1="688.53" x2="191.30" y2="688.53" stroke="#000" stroke-width="1.7" stroke-linecap="butt"/>
<line x1="1096.04" y1="1593.50" x2="1096.04" y2="1599.00" stroke="#000" stroke-width="1.7" stroke-linecap="butt"/>
<line x1="185.80" y1="659.42" x2="191.30" y2="659.42" stroke="#000" stroke-width="1.7" stroke-linecap="butt"/>
<line x1="1125.13" y1="1593.50" x2="1125.13" y2="1599.00" stroke="#000" stroke-width="1.7" stroke-linecap="butt"/>
<line x1="185.80" y1="630.30" x2="191.30" y2="630.30" stroke="#000" stroke-width="1.7" stroke-linecap="butt"/>
<line x1="1154.23" y1="1593.50" x2="1154.23" y2="1599.00" stroke="#000" stroke-width="1.7" stroke-linecap="butt"/>
<line x1="185.80" y1="601.19" x2="191.30" y2="601.19" stroke="#000" stroke-width="1.7" stroke-linecap="butt"/>
<line x1="1183.32" y1="1593.50" x2="1183.32" y2="1599.00" stroke="#000" stroke-width="1.7" stroke-linecap="butt"/>
<line x1="179.80" y1="572.08" x2="191.30" y2="572.08" stroke="#000" stroke-width="1.7" stroke-linecap="butt"/>
<line x1="1212.42" y1="1593.50" x2="1212.42" y2="1606.00" stroke="#000" stroke-width="1.7" stroke-linecap="butt"/>
<line x1="185.80" y1="542.97" x2="191.30" y2="542.97" stroke="#000" stroke-width="1.7" stroke-linecap="butt"/>
<line x1="1241.52" y1="1593.50" x2="1241.52" y2="1599.00" stroke="#000" stroke-width="1.7" stroke-linecap="butt"/>
<line x1="185.80" y1="513.86" x2="191.30" y2="513.86" stroke="#000" stroke-width="1.7" stroke-linecap="butt"/>
<line x1="1270.61" y1="1593.50" x2="1270.61" y2="1599.00" stroke="#000" stroke-width="1.7" stroke-linecap="butt"/>
<line x1="185.80" y1="484.74" x2="191.30" y2="484.74" stroke="#000" stroke-width="1.7" stroke-linecap="butt"/>
<line x1="1299.71" y1="1593.50" x2="1299.71" y2="1599.00" stroke="#000" stroke-width="1.7" stroke-linecap="butt"/>
<line x1="185.80" y1="455.63" x2="191.30" y2="455.63" stroke="#000" stroke-width="1.7" stroke-linecap="butt"/>
<line x1="1328.80" y1="1593.50" x2="1328.80" y2="1599.00" stroke="#000" stroke-width="1.7" stroke-linecap="butt"/>
<line x1="179.80" y1="426.52" x2="191.30" y2="426.52" stroke="#000" stroke-width="1.7" stroke-linecap="butt"/>
<line x1="1357.90" y1="1593.50" x2="1357.90" y2="1606.00" stroke="#000" stroke-width="1.7" stroke-linecap="butt"/>
<line x1="185.80" y1="397.41" x2="191.30" y2="397.41" stroke="#000" stroke-width="1.7" stroke-linecap="butt"/>
<line x1="1387.00" y1="1593.50" x2="1387.00" y2="1599.00" stroke="#000" stroke-width="1.7" stroke-linecap="butt"/>
<line x1="185.80" y1="368.30" x2="191.30" y2="368.30" stroke="#000" stroke-width="1.7" stroke-linecap="butt"/>
<line x1="1416.09" y1="1593.50" x2="1416.09" y2="1599.00" stroke="#000" stroke-width="1.7" stroke-linecap="butt"/>
<line x1="185.80" y1="339.18" x2="191.30" y2="339.18" stroke="#000" stroke-width="1.7" stroke-linecap="butt"/>
<line x1="1445.19" y1="1593.50" x2="1445.19" y2="1599.00" stroke="#000" stroke-width="1.7" stroke-linecap="butt"/>
<line x1="185.80" y1="310.07" x2="191.30" y2="310.07" stroke="#000" stroke-width="1.7" stroke-linecap="butt"/>
<line x1="1474.28" y1="1593.50" x2="1474.28" y2="1599.00" stroke="#000" stroke-width="1.7" stroke-linecap="butt"/>
<line x1="179.80" y1="280.96" x2="191.30" y2="280.96" stroke="#000" stroke-width="1.7" stroke-linecap="butt"/>
<line x1="1503.38" y1="1593.50" x2="1503.38" y2="1606.00" stroke="#000" stroke-width="1.7" stroke-linecap="butt"/>
<line x1="185.80" y1="251.85" x2="191.30" y2="251.85" stroke="#000" stroke-width="1.7" stroke-linecap="butt"/>
<line x1="1532.48" y1="1593.50" x2="1532.48" y2="1599.00" stroke="#000" stroke-width="1.7" stroke-linecap="butt"/>
<line x1="185.80" y1="222.74" x2="191.30" y2="222.74" stroke="#000" stroke-width="1.7" stroke-linecap="butt"/>
<line x1="1561.57" y1="1593.50" x2="1561.57" y2="1599.00" stroke="#000" stroke-width="1.7" stroke-linecap="butt"/>
<line x1="185.80" y1="193.62" x2="191.30" y2="193.62" stroke="#000" stroke-width="1.7" stroke-linecap="butt"/>
<line x1="1590.67" y1="1593.50" x2="1590.67" y2="1599.00" stroke="#000" stroke-width="1.7" stroke-linecap="butt"/>
<line x1="185.80" y1="164.51" x2="191.30" y2="164.51" stroke="#000" stroke-width="1.7" stroke-linecap="butt"/>
<line x1="1619.76" y1="1593.50" x2="1619.76" y2="1599.00" stroke="#000" stroke-width="1.7" stroke-linecap="butt"/>
<line x1="179.80" y1="135.40" x2="191.30" y2="135.40" stroke="#000" stroke-width="1.7" stroke-linecap="butt"/>
<line x1="1648.86" y1="1593.50" x2="1648.86" y2="1606.00" stroke="#000" stroke-width="1.7" stroke-linecap="butt"/>
<text x="191.10" y="1651.00" font-size="52.3" text-anchor="start" fill="#000" font-family="Liberation Sans, Arial, sans-serif" stroke="#fff" stroke-width="1.3">0</text>
<text x="484.52" y="1651.00" font-size="52.3" text-anchor="middle" fill="#000" font-family="Liberation Sans, Arial, sans-serif" stroke="#fff" stroke-width="1.3">200</text>
<text x="775.48" y="1651.00" font-size="52.3" text-anchor="middle" fill="#000" font-family="Liberation Sans, Arial, sans-serif" stroke="#fff" stroke-width="1.3">400</text>
<text x="1066.44" y="1651.00" font-size="52.3" text-anchor="middle" fill="#000" font-family="Liberation Sans, Arial, sans-serif" stroke="#fff" stroke-width="1.3">600</text>
<text x="1357.40" y="1651.00" font-size="52.3" text-anchor="middle" fill="#000" font-family="Liberation Sans, Arial, sans-serif" stroke="#fff" stroke-width="1.3">800</text>
<text x="1651.50" y="1651.00" font-size="52.3" text-anchor="end" fill="#000" font-family="Liberation Sans, Arial, sans-serif" stroke="#fff" stroke-width="1.3">1000</text>
<text x="168.00" y="1593.50" font-size="52.3" text-anchor="start" fill="#000" font-family="Liberation Sans, Arial, sans-serif" transform="rotate(-90 168.00 1593.50)" stroke="#fff" stroke-width="1.3">0</text>
<text x="168.00" y="1299.88" font-size="52.3" text-anchor="middle" fill="#000" font-family="Liberation Sans, Arial, sans-serif" transform="rotate(-90 168.00 1299.88)" stroke="#fff" stroke-width="1.3">200</text>
<text x="168.00" y="1008.76" font-size="52.3" text-anchor="middle" fill="#000" font-family="Liberation Sans, Arial, sans-serif" transform="rotate(-90 168.00 1008.76)" stroke="#fff" stroke-width="1.3">400</text>
<text x="168.00" y="717.64" font-size="52.3" text-anchor="middle" fill="#000" font-family="Liberation Sans, Arial, sans-serif" transform="rotate(-90 168.00 717.64)" stroke="#fff" stroke-width="1.3">600</text>
<text x="168.00" y="426.52" font-size="52.3" text-anchor="middle" fill="#000" font-family="Liberation Sans, Arial, sans-serif" transform="rotate(-90 168.00 426.52)" stroke="#fff" stroke-width="1.3">800</text>
<text x="168.00" y="132.50" font-size="52.3" text-anchor="end" fill="#000" font-family="Liberation Sans, Arial, sans-serif" transform="rotate(-90 168.00 132.50)" stroke="#fff" stroke-width="1.3">1000</text>
<text x="921.40" y="1726.40" font-size="61.5" text-anchor="middle" fill="#000" font-family="Liberation Sans, Arial, sans-serif" stroke="#fff" stroke-width="1.3">nm</text>
<text x="98.00" y="861.00" font-size="61.5" text-anchor="middle" fill="#000" font-family="Liberation Sans, Arial, sans-serif" transform="rotate(-90 98.00 861.00)" stroke="#fff" stroke-width="1.3">nm</text>
<rect x="1967.40" y="131.70" width="24.40" height="1462.70" fill="url(#cb)" stroke="#0c0000" stroke-width="4.2"/>
<line x1="1969.50" y1="863.20" x2="1989.70" y2="863.20" stroke="#fff0e0" stroke-width="2.2" stroke-linecap="butt"/>
<line x1="1954.70" y1="1590.90" x2="1965.80" y2="1590.90" stroke="#000" stroke-width="1.7" stroke-linecap="butt"/>
<line x1="1960.10" y1="1565.54" x2="1965.80" y2="1565.54" stroke="#000" stroke-width="1.7" stroke-linecap="butt"/>
<line x1="1960.10" y1="1540.17" x2="1965.80" y2="1540.17" stroke="#000" stroke-width="1.7" stroke-linecap="butt"/>
<line x1="1960.10" y1="1514.81" x2="1965.80" y2="1514.81" stroke="#000" stroke-width="1.7" stroke-linecap="butt"/>
<line x1="1960.10" y1="1489.44" x2="1965.80" y2="1489.44" stroke="#000" stroke-width="1.7" stroke-linecap="butt"/>
<line x1="1954.70" y1="1464.08" x2="1965.80" y2="1464.08" stroke="#000" stroke-width="1.7" stroke-linecap="butt"/>
<line x1="1960.10" y1="1438.71" x2="1965.80" y2="1438.71" stroke="#000" stroke-width="1.7" stroke-linecap="butt"/>
<line x1="1960.10" y1="1413.35" x2="1965.80" y2="1413.35" stroke="#000" stroke-width="1.7" stroke-linecap="butt"/>
<line x1="1960.10" y1="1387.98" x2="1965.80" y2="1387.98" stroke="#000" stroke-width="1.7" stroke-linecap="butt"/>
<line x1="1960.10" y1="1362.62" x2="1965.80" y2="1362.62" stroke="#000" stroke-width="1.7" stroke-linecap="butt"/>
<line x1="1954.70" y1="1337.25" x2="1965.80" y2="1337.25" stroke="#000" stroke-width="1.7" stroke-linecap="butt"/>
<line x1="1960.10" y1="1311.88" x2="1965.80" y2="1311.88" stroke="#000" stroke-width="1.7" stroke-linecap="butt"/>
<line x1="1960.10" y1="1286.52" x2="1965.80" y2="1286.52" stroke="#000" stroke-width="1.7" stroke-linecap="butt"/>
<line x1="1960.10" y1="1261.16" x2="1965.80" y2="1261.16" stroke="#000" stroke-width="1.7" stroke-linecap="butt"/>
<line x1="1960.10" y1="1235.79" x2="1965.80" y2="1235.79" stroke="#000" stroke-width="1.7" stroke-linecap="butt"/>
<line x1="1954.70" y1="1210.43" x2="1965.80" y2="1210.43" stroke="#000" stroke-width="1.7" stroke-linecap="butt"/>
<line x1="1960.10" y1="1185.06" x2="1965.80" y2="1185.06" stroke="#000" stroke-width="1.7" stroke-linecap="butt"/>
<line x1="1960.10" y1="1159.70" x2="1965.80" y2="1159.70" stroke="#000" stroke-width="1.7" stroke-linecap="butt"/>
<line x1="1960.10" y1="1134.33" x2="1965.80" y2="1134.33" stroke="#000" stroke-width="1.7" stroke-linecap="butt"/>
<line x1="1960.10" y1="1108.97" x2="1965.80" y2="1108.97" stroke="#000" stroke-width="1.7" stroke-linecap="butt"/>
<line x1="1954.70" y1="1083.60" x2="1965.80" y2="1083.60" stroke="#000" stroke-width="1.7" stroke-linecap="butt"/>
<line x1="1960.10" y1="1058.24" x2="1965.80" y2="1058.24" stroke="#000" stroke-width="1.7" stroke-linecap="butt"/>
<line x1="1960.10" y1="1032.87" x2="1965.80" y2="1032.87" stroke="#000" stroke-width="1.7" stroke-linecap="butt"/>
<line x1="1960.10" y1="1007.50" x2="1965.80" y2="1007.50" stroke="#000" stroke-width="1.7" stroke-linecap="butt"/>
<line x1="1960.10" y1="982.14" x2="1965.80" y2="982.14" stroke="#000" stroke-width="1.7" stroke-linecap="butt"/>
<line x1="1954.70" y1="956.78" x2="1965.80" y2="956.78" stroke="#000" stroke-width="1.7" stroke-linecap="butt"/>
<line x1="1960.10" y1="931.41" x2="1965.80" y2="931.41" stroke="#000" stroke-width="1.7" stroke-linecap="butt"/>
<line x1="1960.10" y1="906.05" x2="1965.80" y2="906.05" stroke="#000" stroke-width="1.7" stroke-linecap="butt"/>
<line x1="1960.10" y1="880.68" x2="1965.80" y2="880.68" stroke="#000" stroke-width="1.7" stroke-linecap="butt"/>
<line x1="1960.10" y1="855.31" x2="1965.80" y2="855.31" stroke="#000" stroke-width="1.7" stroke-linecap="butt"/>
<line x1="1954.70" y1="829.95" x2="1965.80" y2="829.95" stroke="#000" stroke-width="1.7" stroke-linecap="butt"/>
<line x1="1960.10" y1="804.59" x2="1965.80" y2="804.59" stroke="#000" stroke-width="1.7" stroke-linecap="butt"/>
<line x1="1960.10" y1="779.22" x2="1965.80" y2="779.22" stroke="#000" stroke-width="1.7" stroke-linecap="butt"/>
<line x1="1960.10" y1="753.86" x2="1965.80" y2="753.86" stroke="#000" stroke-width="1.7" stroke-linecap="butt"/>
<line x1="1960.10" y1="728.49" x2="1965.80" y2="728.49" stroke="#000" stroke-width="1.7" stroke-linecap="butt"/>
<line x1="1954.70" y1="703.13" x2="1965.80" y2="703.13" stroke="#000" stroke-width="1.7" stroke-linecap="butt"/>
<line x1="1960.10" y1="677.76" x2="1965.80" y2="677.76" stroke="#000" stroke-width="1.7" stroke-linecap="butt"/>
<line x1="1960.10" y1="652.39" x2="1965.80" y2="652.39" stroke="#000" stroke-width="1.7" stroke-linecap="butt"/>
<line x1="1960.10" y1="627.03" x2="1965.80" y2="627.03" stroke="#000" stroke-width="1.7" stroke-linecap="butt"/>
<line x1="1960.10" y1="601.66" x2="1965.80" y2="601.66" stroke="#000" stroke-width="1.7" stroke-linecap="butt"/>
<line x1="1954.70" y1="576.30" x2="1965.80" y2="576.30" stroke="#000" stroke-width="1.7" stroke-linecap="butt"/>
<line x1="1960.10" y1="550.93" x2="1965.80" y2="550.93" stroke="#000" stroke-width="1.7" stroke-linecap="butt"/>
<line x1="1960.10" y1="525.57" x2="1965.80" y2="525.57" stroke="#000" stroke-width="1.7" stroke-linecap="butt"/>
<line x1="1960.10" y1="500.21" x2="1965.80" y2="500.21" stroke="#000" stroke-width="1.7" stroke-linecap="butt"/>
<line x1="1960.10" y1="474.84" x2="1965.80" y2="474.84" stroke="#000" stroke-width="1.7" stroke-linecap="butt"/>
<line x1="1954.70" y1="449.48" x2="1965.80" y2="449.48" stroke="#000" stroke-width="1.7" stroke-linecap="butt"/>
<line x1="1960.10" y1="424.11" x2="1965.80" y2="424.11" stroke="#000" stroke-width="1.7" stroke-linecap="butt"/>
<line x1="1960.10" y1="398.75" x2="1965.80" y2="398.75" stroke="#000" stroke-width="1.7" stroke-linecap="butt"/>
<line x1="1960.10" y1="373.38" x2="1965.80" y2="373.38" stroke="#000" stroke-width="1.7" stroke-linecap="butt"/>
<line x1="1960.10" y1="348.01" x2="1965.80" y2="348.01" stroke="#000" stroke-width="1.7" stroke-linecap="butt"/>
<line x1="1954.70" y1="322.65" x2="1965.80" y2="322.65" stroke="#000" stroke-width="1.7" stroke-linecap="butt"/>
<line x1="1960.10" y1="297.28" x2="1965.80" y2="297.28" stroke="#000" stroke-width="1.7" stroke-linecap="butt"/>
<line x1="1960.10" y1="271.92" x2="1965.80" y2="271.92" stroke="#000" stroke-width="1.7" stroke-linecap="butt"/>
<line x1="1960.10" y1="246.55" x2="1965.80" y2="246.55" stroke="#000" stroke-width="1.7" stroke-linecap="butt"/>
<line x1="1960.10" y1="221.19" x2="1965.80" y2="221.19" stroke="#000" stroke-width="1.7" stroke-linecap="butt"/>
<line x1="1954.70" y1="195.83" x2="1965.80" y2="195.83" stroke="#000" stroke-width="1.7" stroke-linecap="butt"/>
<line x1="1960.10" y1="170.46" x2="1965.80" y2="170.46" stroke="#000" stroke-width="1.7" stroke-linecap="butt"/>
<line x1="1960.10" y1="145.10" x2="1965.80" y2="145.10" stroke="#000" stroke-width="1.7" stroke-linecap="butt"/>
<text x="1942.00" y="1594.10" font-size="52.3" text-anchor="start" fill="#000" font-family="Liberation Sans, Arial, sans-serif" transform="rotate(-90 1942.00 1594.10)" stroke="#fff" stroke-width="1.3">0</text>
<text x="1942.00" y="1337.25" font-size="52.3" text-anchor="middle" fill="#000" font-family="Liberation Sans, Arial, sans-serif" transform="rotate(-90 1942.00 1337.25)" stroke="#fff" stroke-width="1.3">1</text>
<text x="1942.00" y="1083.60" font-size="52.3" text-anchor="middle" fill="#000" font-family="Liberation Sans, Arial, sans-serif" transform="rotate(-90 1942.00 1083.60)" stroke="#fff" stroke-width="1.3">2</text>
<text x="1942.00" y="829.95" font-size="52.3" text-anchor="middle" fill="#000" font-family="Liberation Sans, Arial, sans-serif" transform="rotate(-90 1942.00 829.95)" stroke="#fff" stroke-width="1.3">3</text>
<text x="1942.00" y="576.30" font-size="52.3" text-anchor="middle" fill="#000" font-family="Liberation Sans, Arial, sans-serif" transform="rotate(-90 1942.00 576.30)" stroke="#fff" stroke-width="1.3">4</text>
<text x="1942.00" y="322.65" font-size="52.3" text-anchor="middle" fill="#000" font-family="Liberation Sans, Arial, sans-serif" transform="rotate(-90 1942.00 322.65)" stroke="#fff" stroke-width="1.3">5</text>
<text x="2057.00" y="861.00" font-size="61.5" text-anchor="middle" fill="#000" font-family="Liberation Sans, Arial, sans-serif" transform="rotate(-90 2057.00 861.00)" stroke="#fff" stroke-width="1.3">nm</text>
<rect x="198.9" y="138.0" width="575.3" height="638.0" fill="#fff"/>
<g clip-path="url(#ica1)"><polyline fill="none" stroke="#f00" stroke-width="5.4" stroke-linejoin="round" stroke-linecap="round" points="347.5,424.7 349.4,432.5 352.5,437.1 354.8,443.3 357.9,467.4 364.9,467.4 367.2,441.8 370.6,439.5 373.4,430.9 374.2,407.7 376.5,393.7 378.0,378.2 379.6,359.6 381.1,347.2 383.5,338.7 386.6,355.0 389.7,347.2 393.5,338.7 395.1,347.2 399.7,347.2 401.6,328.6 404.4,347.2 407.5,370.5 409.0,398.4 410.6,424.7 412.9,424.7 414.9,398.4 416.8,355.0 419.1,364.3 421.4,347.2 424.5,347.2 426.4,364.3 428.4,355.0 431.5,344.1 433.1,316.2 435.4,297.6 438.5,269.7 440.8,238.7 442.8,225.6 445.5,238.7 447.8,269.7 450.9,299.2 452.4,324.0 453.2,355.0 454.0,381.3 455.9,407.7 457.9,432.5 459.4,458.8 464.8,458.8 466.1,441.8 472.6,441.8 474.9,424.7 478.0,424.7 479.6,407.7 481.1,389.9 486.5,389.9 488.1,381.3 491.2,381.3 492.7,370.5 495.8,354.2 498.9,370.5 501.3,389.9 504.4,389.9 506.7,373.6 509.0,354.2 511.3,373.6 514.4,373.6 515.2,363.5 525.3,363.5 526.1,372.0 529.2,373.6 531.5,381.3 533.0,390.6 534.6,407.7 536.9,432.5 540.0,448.0 541.6,467.4 543.9,467.4 546.2,432.5 550.8,407.7 553.9,389.9 557.0,372.0 561.7,372.0 563.2,390.6 565.6,424.7 567.1,448.0 568.7,479.0 569.8,502.2 572.5,488.3 574.1,463.5 576.0,451.1 580.6,448.0 581.8,441.8 586.5,441.8 589.9,458.8 595.0,458.8 595.8,451.1 599.7,451.1 601.2,467.4 602.8,451.1 604.3,424.7 605.9,398.4 607.0,381.3 611.3,381.3 614.1,372.0 616.7,381.3 619.8,398.4 623.7,398.4 626.0,381.3 628.3,372.0 632.2,372.0 633.0,381.3 635.3,372.0 638.4,362.7 643.8,362.7 646.9,372.0 649.3,389.9 651.6,413.9 653.9,432.5 655.5,458.8 657.0,488.3 658.6,510.0 660.1,492.9 662.4,492.9 664.0,508.4 668.6,521.6 671.7,502.2 674.1,475.9 676.4,451.1 679.5,441.8 681.8,415.4 683.4,390.6 684.9,348.8 686.5,324.0 688.0,297.6 689.6,286.8 692.7,260.4 695.8,243.4 700.0,226.3 702.7,238.7 705.8,262.0 708.2,293.0 709.7,314.7 711.3,339.5 712.8,358.1 714.4,381.3 715.9,390.6 718.2,390.6 719.8,398.4 722.9,399.9 724.4,417.0 726.0,432.5 727.5,458.8 729.4,479.0 732.2,510.0 733.7,521.6 736.8,494.5 739.2,475.9 741.0,458.8"/></g>
<rect x="324.05" y="181.80" width="435.15" height="457.50" fill="none" stroke="#000" stroke-width="5.6"/>
<line x1="324.05" y1="593.55" x2="328.25" y2="593.55" stroke="#000" stroke-width="5.04" stroke-linecap="round"/>
<line x1="324.05" y1="547.80" x2="332.25" y2="547.80" stroke="#000" stroke-width="5.04" stroke-linecap="round"/>
<text x="311.50" y="563.73" font-size="44.5" text-anchor="end" fill="#000" font-family="Liberation Sans, Arial, sans-serif">1</text>
<line x1="324.05" y1="502.05" x2="328.25" y2="502.05" stroke="#000" stroke-width="5.04" stroke-linecap="round"/>
<line x1="324.05" y1="456.30" x2="332.25" y2="456.30" stroke="#000" stroke-width="5.04" stroke-linecap="round"/>
<text x="311.50" y="472.23" font-size="44.5" text-anchor="end" fill="#000" font-family="Liberation Sans, Arial, sans-serif">2</text>
<line x1="324.05" y1="410.55" x2="328.25" y2="410.55" stroke="#000" stroke-width="5.04" stroke-linecap="round"/>
<line x1="324.05" y1="364.80" x2="332.25" y2="364.80" stroke="#000" stroke-width="5.04" stroke-linecap="round"/>
<text x="311.50" y="380.73" font-size="44.5" text-anchor="end" fill="#000" font-family="Liberation Sans, Arial, sans-serif">3</text>
<line x1="324.05" y1="319.05" x2="328.25" y2="319.05" stroke="#000" stroke-width="5.04" stroke-linecap="round"/>
<line x1="324.05" y1="273.30" x2="332.25" y2="273.30" stroke="#000" stroke-width="5.04" stroke-linecap="round"/>
<text x="311.50" y="289.23" font-size="44.5" text-anchor="end" fill="#000" font-family="Liberation Sans, Arial, sans-serif">4</text>
<line x1="324.05" y1="227.55" x2="328.25" y2="227.55" stroke="#000" stroke-width="5.04" stroke-linecap="round"/>
<line x1="324.05" y1="639.30" x2="332.25" y2="639.30" stroke="#000" stroke-width="5.04" stroke-linecap="round"/>
<text x="311.50" y="653.73" font-size="44.5" text-anchor="end" fill="#000" font-family="Liberation Sans, Arial, sans-serif">0</text>
<line x1="324.05" y1="181.80" x2="332.25" y2="181.80" stroke="#000" stroke-width="5.04" stroke-linecap="round"/>
<text x="311.50" y="195.13" font-size="44.5" text-anchor="end" fill="#000" font-family="Liberation Sans, Arial, sans-serif">5</text>
<line x1="347.85" y1="639.30" x2="347.85" y2="631.10" stroke="#000" stroke-width="5.04" stroke-linecap="round"/>
<text x="347.70" y="683.80" font-size="44.5" text-anchor="middle" fill="#000" font-family="Liberation Sans, Arial, sans-serif">0</text>
<line x1="406.21" y1="639.30" x2="406.21" y2="635.10" stroke="#000" stroke-width="5.04" stroke-linecap="round"/>
<line x1="464.57" y1="639.30" x2="464.57" y2="631.10" stroke="#000" stroke-width="5.04" stroke-linecap="round"/>
<text x="464.74" y="683.80" font-size="44.5" text-anchor="middle" fill="#000" font-family="Liberation Sans, Arial, sans-serif">400</text>
<line x1="522.93" y1="639.30" x2="522.93" y2="635.10" stroke="#000" stroke-width="5.04" stroke-linecap="round"/>
<line x1="581.29" y1="639.30" x2="581.29" y2="631.10" stroke="#000" stroke-width="5.04" stroke-linecap="round"/>
<text x="581.78" y="683.80" font-size="44.5" text-anchor="middle" fill="#000" font-family="Liberation Sans, Arial, sans-serif">800</text>
<line x1="639.65" y1="639.30" x2="639.65" y2="635.10" stroke="#000" stroke-width="5.04" stroke-linecap="round"/>
<line x1="698.01" y1="639.30" x2="698.01" y2="631.10" stroke="#000" stroke-width="5.04" stroke-linecap="round"/>
<text x="698.82" y="683.80" font-size="44.5" text-anchor="middle" fill="#000" font-family="Liberation Sans, Arial, sans-serif">1200</text>
<text x="542.70" y="746.40" font-size="45" text-anchor="middle" fill="#000" font-family="Liberation Sans, Arial, sans-serif">Distance (nm)</text>
<text x="245.50" y="429.00" font-size="45" text-anchor="middle" fill="#000" font-family="Liberation Sans, Arial, sans-serif" transform="rotate(-90 245.50 429.00)">Height (nm)</text>
<text x="580.00" y="256.00" font-size="54" text-anchor="start" fill="#000" font-family="Liberation Sans, Arial, sans-serif" font-weight="bold">1</text>
<rect x="1036.4" y="138.5" width="609.8" height="636.1" fill="#fff"/>
<g clip-path="url(#ica2)"><polyline fill="none" stroke="#f00" stroke-width="5.4" stroke-linejoin="round" stroke-linecap="round" points="1189.2,621.6 1196.4,621.6 1202.8,631.8 1209.1,622.4 1216.8,622.4 1223.2,611.8 1230.4,611.8 1238.0,591.9 1244.4,582.1 1250.8,561.7 1258.0,550.3 1263.5,532.0 1291.1,532.0 1298.3,542.6 1305.1,529.0 1310.2,499.3 1313.6,469.6 1318.7,433.5 1325.0,412.3 1331.4,384.7 1338.6,355.0 1346.3,329.5 1354.8,304.1 1361.1,282.8 1365.4,263.7 1373.0,263.7 1379.0,253.1 1385.7,244.6 1393.0,224.2 1399.3,233.2 1414.2,233.2 1420.6,242.5 1426.9,263.7 1435.4,276.5 1441.8,293.4 1448.2,325.3 1454.5,363.5 1463.0,401.7 1467.3,452.6 1473.6,490.8 1482.1,537.5 1489.3,571.5 1497.0,571.5 1503.3,550.3 1509.7,522.7 1516.1,512.1 1523.3,512.1 1530.9,521.8 1557.3,521.8 1563.6,541.8 1571.3,541.8 1577.6,532.0 1584.0,532.0 1591.2,541.8 1598.0,532.0 1612.4,532.0 1618.0,522.7 1624.3,512.1"/></g>
<rect x="1171.50" y="176.60" width="452.70" height="475.45" fill="none" stroke="#000" stroke-width="5.7"/>
<line x1="1171.50" y1="598.90" x2="1175.75" y2="598.90" stroke="#000" stroke-width="5.13" stroke-linecap="round"/>
<line x1="1171.50" y1="546.20" x2="1179.75" y2="546.20" stroke="#000" stroke-width="5.13" stroke-linecap="round"/>
<text x="1160.50" y="562.85" font-size="46.5" text-anchor="end" fill="#000" font-family="Liberation Sans, Arial, sans-serif">1</text>
<line x1="1171.50" y1="493.50" x2="1175.75" y2="493.50" stroke="#000" stroke-width="5.13" stroke-linecap="round"/>
<line x1="1171.50" y1="440.80" x2="1179.75" y2="440.80" stroke="#000" stroke-width="5.13" stroke-linecap="round"/>
<text x="1160.50" y="457.45" font-size="46.5" text-anchor="end" fill="#000" font-family="Liberation Sans, Arial, sans-serif">2</text>
<line x1="1171.50" y1="388.10" x2="1175.75" y2="388.10" stroke="#000" stroke-width="5.13" stroke-linecap="round"/>
<line x1="1171.50" y1="335.40" x2="1179.75" y2="335.40" stroke="#000" stroke-width="5.13" stroke-linecap="round"/>
<text x="1160.50" y="352.05" font-size="46.5" text-anchor="end" fill="#000" font-family="Liberation Sans, Arial, sans-serif">3</text>
<line x1="1171.50" y1="282.70" x2="1175.75" y2="282.70" stroke="#000" stroke-width="5.13" stroke-linecap="round"/>
<line x1="1171.50" y1="230.00" x2="1179.75" y2="230.00" stroke="#000" stroke-width="5.13" stroke-linecap="round"/>
<text x="1160.50" y="246.65" font-size="46.5" text-anchor="end" fill="#000" font-family="Liberation Sans, Arial, sans-serif">4</text>
<line x1="1171.50" y1="651.60" x2="1179.75" y2="651.60" stroke="#000" stroke-width="5.13" stroke-linecap="round"/>
<text x="1160.50" y="665.75" font-size="46.5" text-anchor="end" fill="#000" font-family="Liberation Sans, Arial, sans-serif">0</text>
<line x1="1189.20" y1="652.05" x2="1189.20" y2="643.80" stroke="#000" stroke-width="5.13" stroke-linecap="round"/>
<text x="1189.20" y="700.00" font-size="46.5" text-anchor="middle" fill="#000" font-family="Liberation Sans, Arial, sans-serif">0</text>
<line x1="1276.23" y1="652.05" x2="1276.23" y2="647.80" stroke="#000" stroke-width="5.13" stroke-linecap="round"/>
<line x1="1363.25" y1="652.05" x2="1363.25" y2="643.80" stroke="#000" stroke-width="5.13" stroke-linecap="round"/>
<text x="1363.25" y="700.00" font-size="46.5" text-anchor="middle" fill="#000" font-family="Liberation Sans, Arial, sans-serif">100</text>
<line x1="1450.28" y1="652.05" x2="1450.28" y2="647.80" stroke="#000" stroke-width="5.13" stroke-linecap="round"/>
<line x1="1537.30" y1="652.05" x2="1537.30" y2="643.80" stroke="#000" stroke-width="5.13" stroke-linecap="round"/>
<text x="1537.30" y="700.00" font-size="46.5" text-anchor="middle" fill="#000" font-family="Liberation Sans, Arial, sans-serif">200</text>
<text x="1397.80" y="755.00" font-size="47.4" text-anchor="middle" fill="#000" font-family="Liberation Sans, Arial, sans-serif">Distance (nm)</text>
<text x="1096.50" y="409.00" font-size="47.4" text-anchor="middle" fill="#000" font-family="Liberation Sans, Arial, sans-serif" transform="rotate(-90 1096.50 409.00)">Height (nm)</text>
<text x="1549.50" y="263.70" font-size="56.5" text-anchor="start" fill="#000" font-family="Liberation Sans, Arial, sans-serif" font-weight="bold">2</text>
<g clip-path="url(#clipB)">
<rect x="214.0" y="1910.0" width="1449.0" height="1409.5" fill="#b6360f"/>
<g filter="url(#bblurB)">
<ellipse cx="212.0" cy="2720.0" rx="40.0" ry="170.0" fill="#1a0400" opacity="0.85" transform="rotate(0 212.0 2720.0)"/>
<ellipse cx="232.0" cy="2545.0" rx="50.0" ry="60.0" fill="#3a0800" opacity="0.55" transform="rotate(0 232.0 2545.0)"/>
<ellipse cx="610.0" cy="2610.0" rx="70.0" ry="70.0" fill="#5a1000" opacity="0.5" transform="rotate(0 610.0 2610.0)"/>
<polyline points="790,2677 815,2795 766,2923 746,3031 790,3129 761,3257" fill="none" stroke="#3a0800" stroke-width="60" stroke-linecap="round" stroke-linejoin="round" opacity="0.5"/>
<ellipse cx="446.0" cy="3031.0" rx="45.0" ry="60.0" fill="#4a0a00" opacity="0.5" transform="rotate(0 446.0 3031.0)"/>
<polyline points="1490,2535 1380,2580 1310,2680" fill="none" stroke="#5a1000" stroke-width="70" stroke-linecap="round" stroke-linejoin="round" opacity="0.4"/>
<polyline points="1180,3100 1254,3203 1290,3290" fill="none" stroke="#3a0800" stroke-width="60" stroke-linecap="round" stroke-linejoin="round" opacity="0.42"/>
<ellipse cx="1640.0" cy="3000.0" rx="40.0" ry="60.0" fill="#4a0a00" opacity="0.5" transform="rotate(0 1640.0 3000.0)"/>
<ellipse cx="1620.0" cy="3260.0" rx="60.0" ry="80.0" fill="#5a1000" opacity="0.5" transform="rotate(0 1620.0 3260.0)"/>
<ellipse cx="407.0" cy="2647.0" rx="150.0" ry="150.0" fill="#e88050" opacity="0.45" transform="rotate(0 407.0 2647.0)"/>
<ellipse cx="958.0" cy="2952.0" rx="130.0" ry="320.0" fill="#e88050" opacity="0.45" transform="rotate(8 958.0 2952.0)"/>
<ellipse cx="930.0" cy="3120.0" rx="100.0" ry="190.0" fill="#e88050" opacity="0.35" transform="rotate(0 930.0 3120.0)"/>
<ellipse cx="1469.0" cy="2923.0" rx="190.0" ry="340.0" fill="#d86038" opacity="0.3" transform="rotate(0 1469.0 2923.0)"/>
<ellipse cx="1568.0" cy="2539.0" rx="120.0" ry="50.0" fill="#e07848" opacity="0.4" transform="rotate(0 1568.0 2539.0)"/>
<ellipse cx="1020.0" cy="2000.0" rx="70.0" ry="90.0" fill="#4a0a00" opacity="0.5" transform="rotate(0 1020.0 2000.0)"/>
<ellipse cx="860.0" cy="2010.0" rx="60.0" ry="80.0" fill="#e07848" opacity="0.35" transform="rotate(0 860.0 2010.0)"/>
</g>
<g filter="url(#blurB)">
<ellipse cx="1117" cy="2956" rx="26.5" ry="33.7" fill="url(#g6a1400)" opacity="0.23" transform="rotate(29 1117 2956)"/>
<ellipse cx="889" cy="3240" rx="24.8" ry="30.9" fill="url(#ge88050)" opacity="0.53" transform="rotate(-46 889 3240)"/>
<ellipse cx="1002" cy="2719" rx="17.2" ry="14.9" fill="url(#g6a1400)" opacity="0.40" transform="rotate(-26 1002 2719)"/>
<ellipse cx="445" cy="3034" rx="18.7" ry="20.3" fill="url(#ge88050)" opacity="0.80" transform="rotate(-45 445 3034)"/>
<ellipse cx="518" cy="2214" rx="28.8" ry="35.4" fill="url(#g6a1400)" opacity="0.35" transform="rotate(-25 518 2214)"/>
<ellipse cx="1196" cy="2199" rx="28.3" ry="32.0" fill="url(#g6a1400)" opacity="0.29" transform="rotate(56 1196 2199)"/>
<ellipse cx="737" cy="2144" rx="18.7" ry="14.7" fill="url(#ge88050)" opacity="0.43" transform="rotate(-24 737 2144)"/>
<ellipse cx="1196" cy="2386" rx="20.7" ry="24.9" fill="url(#ge88050)" opacity="0.63" transform="rotate(-2 1196 2386)"/>
<ellipse cx="1235" cy="1990" rx="28.7" ry="21.9" fill="url(#g6a1400)" opacity="0.23" transform="rotate(30 1235 1990)"/>
<ellipse cx="1355" cy="2426" rx="23.9" ry="18.1" fill="url(#ge88050)" opacity="0.83" transform="rotate(-54 1355 2426)"/>
<ellipse cx="499" cy="2975" rx="28.2" ry="35.7" fill="url(#ge88050)" opacity="0.65" transform="rotate(-19 499 2975)"/>
<ellipse cx="1338" cy="2062" rx="26.0" ry="30.9" fill="url(#ge88050)" opacity="0.83" transform="rotate(43 1338 2062)"/>
<ellipse cx="346" cy="2390" rx="24.3" ry="30.5" fill="url(#g6a1400)" opacity="0.35" transform="rotate(-19 346 2390)"/>
<ellipse cx="667" cy="2357" rx="19.1" ry="15.2" fill="url(#g6a1400)" opacity="0.45" transform="rotate(-42 667 2357)"/>
<ellipse cx="448" cy="1978" rx="28.8" ry="30.1" fill="url(#ge88050)" opacity="0.68" transform="rotate(-11 448 1978)"/>
<ellipse cx="1411" cy="2552" rx="22.1" ry="17.2" fill="url(#ge88050)" opacity="0.63" transform="rotate(50 1411 2552)"/>
<ellipse cx="1429" cy="2094" rx="25.8" ry="32.8" fill="url(#g6a1400)" opacity="0.25" transform="rotate(16 1429 2094)"/>
<ellipse cx="844" cy="2120" rx="27.1" ry="24.8" fill="url(#g6a1400)" opacity="0.42" transform="rotate(-6 844 2120)"/>
<ellipse cx="1628" cy="2549" rx="22.9" ry="26.3" fill="url(#ge88050)" opacity="0.60" transform="rotate(-3 1628 2549)"/>
<ellipse cx="426" cy="2441" rx="28.9" ry="36.9" fill="url(#ge88050)" opacity="0.57" transform="rotate(15 426 2441)"/>
<ellipse cx="343" cy="2294" rx="26.4" ry="32.4" fill="url(#g6a1400)" opacity="0.40" transform="rotate(-17 343 2294)"/>
<ellipse cx="1220" cy="2846" rx="26.1" ry="24.8" fill="url(#ge88050)" opacity="0.63" transform="rotate(25 1220 2846)"/>
<ellipse cx="1329" cy="2884" rx="20.5" ry="26.1" fill="url(#ge88050)" opacity="0.43" transform="rotate(18 1329 2884)"/>
<ellipse cx="1007" cy="2263" rx="25.1" ry="25.2" fill="url(#ge88050)" opacity="0.76" transform="rotate(38 1007 2263)"/>
<ellipse cx="718" cy="2818" rx="25.9" ry="31.2" fill="url(#g6a1400)" opacity="0.42" transform="rotate(-18 718 2818)"/>
<ellipse cx="1211" cy="3286" rx="28.5" ry="29.5" fill="url(#ge88050)" opacity="0.78" transform="rotate(4 1211 3286)"/>
<ellipse cx="1572" cy="2583" rx="25.3" ry="29.0" fill="url(#ge88050)" opacity="0.76" transform="rotate(28 1572 2583)"/>
<ellipse cx="1056" cy="2848" rx="22.0" ry="24.1" fill="url(#ge88050)" opacity="0.73" transform="rotate(33 1056 2848)"/>
<ellipse cx="254" cy="2136" rx="22.3" ry="24.7" fill="url(#g6a1400)" opacity="0.37" transform="rotate(-34 254 2136)"/>
<ellipse cx="275" cy="2575" rx="19.7" ry="15.4" fill="url(#ge88050)" opacity="0.50" transform="rotate(-44 275 2575)"/>
<ellipse cx="494" cy="1960" rx="22.6" ry="21.7" fill="url(#ge88050)" opacity="0.53" transform="rotate(13 494 1960)"/>
<ellipse cx="1523" cy="1911" rx="21.9" ry="19.7" fill="url(#ge88050)" opacity="0.78" transform="rotate(-11 1523 1911)"/>
<ellipse cx="756" cy="1961" rx="24.4" ry="19.5" fill="url(#ge88050)" opacity="0.67" transform="rotate(5 756 1961)"/>
<ellipse cx="1603" cy="3064" rx="22.0" ry="26.4" fill="url(#ge88050)" opacity="0.49" transform="rotate(17 1603 3064)"/>
<ellipse cx="1078" cy="2705" rx="28.5" ry="36.5" fill="url(#ge88050)" opacity="0.80" transform="rotate(13 1078 2705)"/>
<ellipse cx="215" cy="2062" rx="23.8" ry="25.9" fill="url(#ge88050)" opacity="0.80" transform="rotate(-43 215 2062)"/>
<ellipse cx="759" cy="2518" rx="19.7" ry="17.9" fill="url(#ge88050)" opacity="0.83" transform="rotate(57 759 2518)"/>
<ellipse cx="1538" cy="2750" rx="20.1" ry="25.9" fill="url(#ge88050)" opacity="0.56" transform="rotate(-0 1538 2750)"/>
<ellipse cx="1640" cy="2603" rx="20.4" ry="20.7" fill="url(#ge88050)" opacity="0.61" transform="rotate(-45 1640 2603)"/>
<ellipse cx="639" cy="3012" rx="26.9" ry="20.4" fill="url(#ge88050)" opacity="0.82" transform="rotate(4 639 3012)"/>
<ellipse cx="1347" cy="2256" rx="20.2" ry="16.9" fill="url(#ge88050)" opacity="0.68" transform="rotate(59 1347 2256)"/>
<ellipse cx="902" cy="2819" rx="24.2" ry="28.1" fill="url(#g6a1400)" opacity="0.29" transform="rotate(-46 902 2819)"/>
<ellipse cx="987" cy="2384" rx="20.6" ry="21.4" fill="url(#ge88050)" opacity="0.74" transform="rotate(-4 987 2384)"/>
<ellipse cx="1070" cy="1961" rx="20.0" ry="20.0" fill="url(#g6a1400)" opacity="0.35" transform="rotate(50 1070 1961)"/>
<ellipse cx="235" cy="3007" rx="22.1" ry="23.6" fill="url(#ge88050)" opacity="0.63" transform="rotate(25 235 3007)"/>
<ellipse cx="1535" cy="2453" rx="21.7" ry="26.4" fill="url(#ge88050)" opacity="0.78" transform="rotate(-36 1535 2453)"/>
<ellipse cx="310" cy="3089" rx="25.3" ry="25.0" fill="url(#g6a1400)" opacity="0.43" transform="rotate(-26 310 3089)"/>
<ellipse cx="421" cy="2584" rx="23.6" ry="24.1" fill="url(#ge88050)" opacity="0.67" transform="rotate(-20 421 2584)"/>
<ellipse cx="1390" cy="2006" rx="19.8" ry="23.7" fill="url(#ge88050)" opacity="0.44" transform="rotate(35 1390 2006)"/>
<ellipse cx="1261" cy="3289" rx="29.0" ry="32.9" fill="url(#g6a1400)" opacity="0.27" transform="rotate(-54 1261 3289)"/>
<ellipse cx="1150" cy="3252" rx="25.5" ry="21.1" fill="url(#g6a1400)" opacity="0.26" transform="rotate(-25 1150 3252)"/>
<ellipse cx="1099" cy="2493" rx="18.9" ry="20.7" fill="url(#ge88050)" opacity="0.59" transform="rotate(-55 1099 2493)"/>
<ellipse cx="318" cy="1991" rx="23.9" ry="27.7" fill="url(#ge88050)" opacity="0.61" transform="rotate(45 318 1991)"/>
<ellipse cx="670" cy="2756" rx="22.9" ry="29.0" fill="url(#ge88050)" opacity="0.72" transform="rotate(-15 670 2756)"/>
<ellipse cx="433" cy="2800" rx="23.1" ry="28.9" fill="url(#ge88050)" opacity="0.54" transform="rotate(7 433 2800)"/>
<ellipse cx="1013" cy="2268" rx="26.0" ry="26.9" fill="url(#ge88050)" opacity="0.58" transform="rotate(-44 1013 2268)"/>
<ellipse cx="1282" cy="2163" rx="25.6" ry="28.4" fill="url(#ge88050)" opacity="0.46" transform="rotate(-50 1282 2163)"/>
<ellipse cx="395" cy="2747" rx="19.9" ry="24.5" fill="url(#ge88050)" opacity="0.76" transform="rotate(-2 395 2747)"/>
<ellipse cx="257" cy="2932" rx="17.6" ry="14.7" fill="url(#g6a1400)" opacity="0.28" transform="rotate(54 257 2932)"/>
<ellipse cx="382" cy="3281" rx="25.0" ry="30.0" fill="url(#ge88050)" opacity="0.58" transform="rotate(-43 382 3281)"/>
<ellipse cx="555" cy="2380" rx="24.4" ry="22.9" fill="url(#ge88050)" opacity="0.78" transform="rotate(-14 555 2380)"/>
<ellipse cx="1153" cy="3044" rx="22.2" ry="27.0" fill="url(#ge88050)" opacity="0.67" transform="rotate(2 1153 3044)"/>
<ellipse cx="1286" cy="2467" rx="18.2" ry="14.0" fill="url(#ge88050)" opacity="0.80" transform="rotate(-36 1286 2467)"/>
<ellipse cx="911" cy="2982" rx="17.0" ry="17.2" fill="url(#ge88050)" opacity="0.61" transform="rotate(47 911 2982)"/>
<ellipse cx="889" cy="2051" rx="18.9" ry="15.8" fill="url(#ge88050)" opacity="0.80" transform="rotate(-15 889 2051)"/>
<ellipse cx="434" cy="2268" rx="20.3" ry="17.1" fill="url(#ge88050)" opacity="0.63" transform="rotate(-26 434 2268)"/>
<ellipse cx="261" cy="3213" rx="21.4" ry="27.1" fill="url(#ge88050)" opacity="0.63" transform="rotate(23 261 3213)"/>
<ellipse cx="1584" cy="2076" rx="25.0" ry="22.8" fill="url(#g6a1400)" opacity="0.26" transform="rotate(21 1584 2076)"/>
<ellipse cx="505" cy="1945" rx="19.8" ry="15.7" fill="url(#g6a1400)" opacity="0.31" transform="rotate(-12 505 1945)"/>
<ellipse cx="666" cy="2570" rx="20.4" ry="23.5" fill="url(#ge88050)" opacity="0.53" transform="rotate(26 666 2570)"/>
<ellipse cx="1188" cy="3236" rx="24.8" ry="24.4" fill="url(#ge88050)" opacity="0.45" transform="rotate(57 1188 3236)"/>
<ellipse cx="1343" cy="2488" rx="17.5" ry="18.4" fill="url(#ge88050)" opacity="0.57" transform="rotate(59 1343 2488)"/>
<ellipse cx="350" cy="2010" rx="27.8" ry="28.3" fill="url(#ge88050)" opacity="0.53" transform="rotate(52 350 2010)"/>
<ellipse cx="287" cy="2470" rx="17.7" ry="15.8" fill="url(#ge88050)" opacity="0.45" transform="rotate(-11 287 2470)"/>
<ellipse cx="268" cy="3280" rx="19.2" ry="19.7" fill="url(#ge88050)" opacity="0.46" transform="rotate(-12 268 3280)"/>
<ellipse cx="669" cy="2062" rx="23.5" ry="29.5" fill="url(#g6a1400)" opacity="0.27" transform="rotate(12 669 2062)"/>
<ellipse cx="239" cy="2671" rx="22.8" ry="24.3" fill="url(#ge88050)" opacity="0.73" transform="rotate(-15 239 2671)"/>
<ellipse cx="1537" cy="2344" rx="22.4" ry="27.0" fill="url(#ge88050)" opacity="0.56" transform="rotate(-33 1537 2344)"/>
<ellipse cx="341" cy="2999" rx="26.8" ry="24.7" fill="url(#ge88050)" opacity="0.53" transform="rotate(-44 341 2999)"/>
<ellipse cx="336" cy="2514" rx="23.9" ry="21.2" fill="url(#g6a1400)" opacity="0.24" transform="rotate(-53 336 2514)"/>
<ellipse cx="504" cy="2313" rx="21.5" ry="17.3" fill="url(#ge88050)" opacity="0.74" transform="rotate(-10 504 2313)"/>
<ellipse cx="1020" cy="3173" rx="24.8" ry="29.0" fill="url(#ge88050)" opacity="0.77" transform="rotate(9 1020 3173)"/>
<ellipse cx="1164" cy="3256" rx="25.7" ry="29.2" fill="url(#g6a1400)" opacity="0.31" transform="rotate(-28 1164 3256)"/>
<ellipse cx="403" cy="2003" rx="19.0" ry="17.0" fill="url(#ge88050)" opacity="0.45" transform="rotate(21 403 2003)"/>
<ellipse cx="1321" cy="2695" rx="17.3" ry="13.5" fill="url(#ge88050)" opacity="0.79" transform="rotate(-44 1321 2695)"/>
<ellipse cx="1589" cy="2773" rx="19.8" ry="19.5" fill="url(#ge88050)" opacity="0.43" transform="rotate(-17 1589 2773)"/>
<ellipse cx="1061" cy="3076" rx="25.7" ry="20.6" fill="url(#ge88050)" opacity="0.73" transform="rotate(4 1061 3076)"/>
<ellipse cx="861" cy="3233" rx="26.5" ry="21.6" fill="url(#g6a1400)" opacity="0.33" transform="rotate(-22 861 3233)"/>
<ellipse cx="843" cy="2532" rx="26.2" ry="33.2" fill="url(#g6a1400)" opacity="0.36" transform="rotate(4 843 2532)"/>
<ellipse cx="364" cy="3058" rx="22.0" ry="17.2" fill="url(#ge88050)" opacity="0.67" transform="rotate(57 364 3058)"/>
<ellipse cx="912" cy="3153" rx="21.7" ry="18.9" fill="url(#ge88050)" opacity="0.66" transform="rotate(-27 912 3153)"/>
<ellipse cx="731" cy="2969" rx="19.9" ry="18.8" fill="url(#g6a1400)" opacity="0.41" transform="rotate(-30 731 2969)"/>
<ellipse cx="1445" cy="2781" rx="21.8" ry="18.1" fill="url(#ge88050)" opacity="0.44" transform="rotate(40 1445 2781)"/>
<ellipse cx="460" cy="2049" rx="25.6" ry="31.9" fill="url(#g6a1400)" opacity="0.30" transform="rotate(-36 460 2049)"/>
<ellipse cx="1204" cy="3127" rx="24.5" ry="29.1" fill="url(#ge88050)" opacity="0.64" transform="rotate(-15 1204 3127)"/>
<ellipse cx="1064" cy="2170" rx="21.7" ry="20.0" fill="url(#ge88050)" opacity="0.59" transform="rotate(-57 1064 2170)"/>
<ellipse cx="904" cy="2901" rx="21.8" ry="28.1" fill="url(#g6a1400)" opacity="0.38" transform="rotate(38 904 2901)"/>
<ellipse cx="1185" cy="2667" rx="26.6" ry="25.2" fill="url(#ge88050)" opacity="0.65" transform="rotate(11 1185 2667)"/>
<ellipse cx="626" cy="2020" rx="18.0" ry="17.1" fill="url(#g6a1400)" opacity="0.39" transform="rotate(10 626 2020)"/>
<ellipse cx="659" cy="3220" rx="20.3" ry="23.2" fill="url(#g6a1400)" opacity="0.38" transform="rotate(-51 659 3220)"/>
<ellipse cx="1601" cy="3175" rx="25.3" ry="30.6" fill="url(#ge88050)" opacity="0.51" transform="rotate(29 1601 3175)"/>
<ellipse cx="963" cy="3173" rx="19.9" ry="25.6" fill="url(#ge88050)" opacity="0.43" transform="rotate(5 963 3173)"/>
<ellipse cx="779" cy="2161" rx="24.8" ry="30.9" fill="url(#ge88050)" opacity="0.59" transform="rotate(49 779 2161)"/>
<ellipse cx="372" cy="2881" rx="23.6" ry="27.0" fill="url(#g6a1400)" opacity="0.27" transform="rotate(-15 372 2881)"/>
<ellipse cx="657" cy="2287" rx="24.5" ry="30.4" fill="url(#ge88050)" opacity="0.75" transform="rotate(-40 657 2287)"/>
<ellipse cx="540" cy="1998" rx="23.8" ry="28.7" fill="url(#g6a1400)" opacity="0.32" transform="rotate(45 540 1998)"/>
<ellipse cx="830" cy="2655" rx="27.9" ry="25.5" fill="url(#ge88050)" opacity="0.84" transform="rotate(-26 830 2655)"/>
<ellipse cx="485" cy="1953" rx="18.4" ry="19.5" fill="url(#ge88050)" opacity="0.51" transform="rotate(12 485 1953)"/>
<ellipse cx="1075" cy="2821" rx="25.3" ry="29.1" fill="url(#ge88050)" opacity="0.78" transform="rotate(-53 1075 2821)"/>
<ellipse cx="1601" cy="2359" rx="27.2" ry="30.1" fill="url(#ge88050)" opacity="0.72" transform="rotate(51 1601 2359)"/>
<ellipse cx="1432" cy="2582" rx="18.2" ry="15.6" fill="url(#ge88050)" opacity="0.49" transform="rotate(-41 1432 2582)"/>
<ellipse cx="1106" cy="2058" rx="26.1" ry="30.1" fill="url(#g6a1400)" opacity="0.39" transform="rotate(38 1106 2058)"/>
<ellipse cx="1553" cy="3259" rx="24.5" ry="31.4" fill="url(#ge88050)" opacity="0.45" transform="rotate(-48 1553 3259)"/>
<ellipse cx="513" cy="2438" rx="22.5" ry="25.3" fill="url(#ge88050)" opacity="0.60" transform="rotate(29 513 2438)"/>
<ellipse cx="1001" cy="2439" rx="18.4" ry="19.9" fill="url(#g6a1400)" opacity="0.34" transform="rotate(-15 1001 2439)"/>
<ellipse cx="1609" cy="3242" rx="17.9" ry="20.9" fill="url(#ge88050)" opacity="0.47" transform="rotate(27 1609 3242)"/>
<ellipse cx="908" cy="2409" rx="25.8" ry="32.4" fill="url(#ge88050)" opacity="0.64" transform="rotate(-14 908 2409)"/>
<ellipse cx="1224" cy="3022" rx="23.9" ry="21.8" fill="url(#g6a1400)" opacity="0.34" transform="rotate(-20 1224 3022)"/>
<ellipse cx="287" cy="2503" rx="19.9" ry="22.2" fill="url(#ge88050)" opacity="0.47" transform="rotate(-51 287 2503)"/>
<ellipse cx="906" cy="3298" rx="23.5" ry="22.6" fill="url(#ge88050)" opacity="0.58" transform="rotate(52 906 3298)"/>
<ellipse cx="1389" cy="1917" rx="26.2" ry="24.8" fill="url(#ge88050)" opacity="0.62" transform="rotate(-58 1389 1917)"/>
<ellipse cx="769" cy="2638" rx="17.6" ry="15.3" fill="url(#ge88050)" opacity="0.63" transform="rotate(57 769 2638)"/>
<ellipse cx="338" cy="2303" rx="28.5" ry="32.1" fill="url(#ge88050)" opacity="0.59" transform="rotate(1 338 2303)"/>
<ellipse cx="1342" cy="2523" rx="24.1" ry="30.1" fill="url(#ge88050)" opacity="0.44" transform="rotate(17 1342 2523)"/>
<ellipse cx="249" cy="2995" rx="22.0" ry="27.0" fill="url(#g6a1400)" opacity="0.31" transform="rotate(39 249 2995)"/>
<ellipse cx="1662" cy="2976" rx="27.7" ry="23.0" fill="url(#ge88050)" opacity="0.84" transform="rotate(34 1662 2976)"/>
<ellipse cx="1655" cy="2215" rx="22.1" ry="19.8" fill="url(#ge88050)" opacity="0.71" transform="rotate(-4 1655 2215)"/>
<ellipse cx="393" cy="2149" rx="22.5" ry="17.8" fill="url(#g6a1400)" opacity="0.42" transform="rotate(-14 393 2149)"/>
<ellipse cx="499" cy="1936" rx="26.9" ry="34.4" fill="url(#ge88050)" opacity="0.53" transform="rotate(12 499 1936)"/>
<ellipse cx="1547" cy="3231" rx="17.4" ry="14.8" fill="url(#ge88050)" opacity="0.75" transform="rotate(-9 1547 3231)"/>
<ellipse cx="754" cy="3003" rx="18.8" ry="19.5" fill="url(#g6a1400)" opacity="0.25" transform="rotate(57 754 3003)"/>
<ellipse cx="375" cy="2817" rx="21.5" ry="20.5" fill="url(#ge88050)" opacity="0.84" transform="rotate(-3 375 2817)"/>
<ellipse cx="563" cy="2712" rx="20.2" ry="21.2" fill="url(#ge88050)" opacity="0.63" transform="rotate(28 563 2712)"/>
<ellipse cx="1237" cy="1921" rx="26.3" ry="25.7" fill="url(#ge88050)" opacity="0.76" transform="rotate(0 1237 1921)"/>
<ellipse cx="295" cy="2616" rx="17.5" ry="16.8" fill="url(#ge88050)" opacity="0.55" transform="rotate(-19 295 2616)"/>
<ellipse cx="866" cy="2833" rx="28.1" ry="26.8" fill="url(#g6a1400)" opacity="0.44" transform="rotate(4 866 2833)"/>
<ellipse cx="1590" cy="3303" rx="20.6" ry="17.4" fill="url(#ge88050)" opacity="0.62" transform="rotate(52 1590 3303)"/>
<ellipse cx="1281" cy="2655" rx="21.7" ry="27.3" fill="url(#ge88050)" opacity="0.78" transform="rotate(-24 1281 2655)"/>
<ellipse cx="414" cy="2405" rx="22.9" ry="24.3" fill="url(#ge88050)" opacity="0.45" transform="rotate(-35 414 2405)"/>
<ellipse cx="341" cy="2392" rx="18.7" ry="24.0" fill="url(#ge88050)" opacity="0.76" transform="rotate(-28 341 2392)"/>
<ellipse cx="1288" cy="2279" rx="27.0" ry="29.5" fill="url(#ge88050)" opacity="0.53" transform="rotate(-13 1288 2279)"/>
<ellipse cx="596" cy="3145" rx="22.3" ry="27.7" fill="url(#ge88050)" opacity="0.45" transform="rotate(-39 596 3145)"/>
<ellipse cx="1286" cy="2701" rx="17.1" ry="13.2" fill="url(#ge88050)" opacity="0.80" transform="rotate(39 1286 2701)"/>
<ellipse cx="272" cy="2740" rx="18.4" ry="21.1" fill="url(#ge88050)" opacity="0.52" transform="rotate(13 272 2740)"/>
<ellipse cx="1589" cy="2066" rx="17.8" ry="20.0" fill="url(#ge88050)" opacity="0.62" transform="rotate(-49 1589 2066)"/>
<ellipse cx="1154" cy="3167" rx="25.7" ry="20.2" fill="url(#g6a1400)" opacity="0.25" transform="rotate(17 1154 3167)"/>
<ellipse cx="1307" cy="2275" rx="20.6" ry="15.5" fill="url(#ge88050)" opacity="0.81" transform="rotate(31 1307 2275)"/>
<ellipse cx="889" cy="2129" rx="19.6" ry="17.5" fill="url(#ge88050)" opacity="0.46" transform="rotate(54 889 2129)"/>
<ellipse cx="725" cy="2022" rx="22.1" ry="24.1" fill="url(#ge88050)" opacity="0.48" transform="rotate(18 725 2022)"/>
<ellipse cx="926" cy="2879" rx="22.4" ry="23.8" fill="url(#ge88050)" opacity="0.54" transform="rotate(49 926 2879)"/>
<ellipse cx="929" cy="2666" rx="27.8" ry="29.3" fill="url(#ge88050)" opacity="0.76" transform="rotate(19 929 2666)"/>
<ellipse cx="1425" cy="2324" rx="18.3" ry="16.3" fill="url(#g6a1400)" opacity="0.28" transform="rotate(-17 1425 2324)"/>
<ellipse cx="1126" cy="2813" rx="28.5" ry="23.2" fill="url(#ge88050)" opacity="0.47" transform="rotate(32 1126 2813)"/>
<ellipse cx="1130" cy="3100" rx="24.0" ry="18.6" fill="url(#ge88050)" opacity="0.70" transform="rotate(57 1130 3100)"/>
<ellipse cx="1263" cy="2277" rx="21.9" ry="20.4" fill="url(#ge88050)" opacity="0.73" transform="rotate(-48 1263 2277)"/>
<ellipse cx="809" cy="3136" rx="17.8" ry="16.3" fill="url(#g6a1400)" opacity="0.40" transform="rotate(-38 809 3136)"/>
<ellipse cx="1513" cy="2624" rx="18.3" ry="17.9" fill="url(#ge88050)" opacity="0.67" transform="rotate(-33 1513 2624)"/>
<ellipse cx="634" cy="2062" rx="23.1" ry="29.2" fill="url(#ge88050)" opacity="0.47" transform="rotate(54 634 2062)"/>
<ellipse cx="1328" cy="2072" rx="23.4" ry="18.7" fill="url(#ge88050)" opacity="0.61" transform="rotate(58 1328 2072)"/>
<ellipse cx="608" cy="2687" rx="28.7" ry="28.3" fill="url(#ge88050)" opacity="0.82" transform="rotate(-35 608 2687)"/>
<ellipse cx="767" cy="2803" rx="28.0" ry="26.0" fill="url(#ge88050)" opacity="0.48" transform="rotate(37 767 2803)"/>
<ellipse cx="292" cy="3234" rx="22.6" ry="22.5" fill="url(#ge88050)" opacity="0.64" transform="rotate(50 292 3234)"/>
<ellipse cx="626" cy="2959" rx="20.1" ry="20.3" fill="url(#ge88050)" opacity="0.48" transform="rotate(31 626 2959)"/>
<ellipse cx="508" cy="2890" rx="25.7" ry="20.8" fill="url(#ge88050)" opacity="0.50" transform="rotate(60 508 2890)"/>
<ellipse cx="344" cy="2539" rx="24.4" ry="29.8" fill="url(#g6a1400)" opacity="0.25" transform="rotate(-40 344 2539)"/>
<ellipse cx="1055" cy="2265" rx="21.3" ry="16.6" fill="url(#ge88050)" opacity="0.75" transform="rotate(26 1055 2265)"/>
<ellipse cx="702" cy="2744" rx="24.7" ry="25.1" fill="url(#g6a1400)" opacity="0.29" transform="rotate(45 702 2744)"/>
<ellipse cx="698" cy="3146" rx="18.6" ry="18.2" fill="url(#g6a1400)" opacity="0.25" transform="rotate(-10 698 3146)"/>
<ellipse cx="1163" cy="2977" rx="25.7" ry="19.3" fill="url(#ge88050)" opacity="0.79" transform="rotate(53 1163 2977)"/>
<ellipse cx="1172" cy="2503" rx="27.1" ry="30.3" fill="url(#g6a1400)" opacity="0.34" transform="rotate(-19 1172 2503)"/>
<ellipse cx="1245" cy="2776" rx="26.6" ry="22.2" fill="url(#ge88050)" opacity="0.76" transform="rotate(-1 1245 2776)"/>
<ellipse cx="1332" cy="3090" rx="17.5" ry="18.3" fill="url(#ge88050)" opacity="0.51" transform="rotate(-3 1332 3090)"/>
<ellipse cx="1626" cy="3112" rx="19.9" ry="23.9" fill="url(#ge88050)" opacity="0.70" transform="rotate(18 1626 3112)"/>
<ellipse cx="546" cy="2296" rx="17.1" ry="19.0" fill="url(#g6a1400)" opacity="0.34" transform="rotate(10 546 2296)"/>
<ellipse cx="844" cy="2342" rx="25.8" ry="24.7" fill="url(#g6a1400)" opacity="0.33" transform="rotate(12 844 2342)"/>
<ellipse cx="1208" cy="1997" rx="20.1" ry="24.4" fill="url(#ge88050)" opacity="0.43" transform="rotate(-42 1208 1997)"/>
<ellipse cx="1324" cy="2060" rx="22.5" ry="22.3" fill="url(#ge88050)" opacity="0.65" transform="rotate(36 1324 2060)"/>
<ellipse cx="250" cy="3031" rx="26.2" ry="28.6" fill="url(#ge88050)" opacity="0.73" transform="rotate(40 250 3031)"/>
<ellipse cx="1447" cy="2780" rx="17.2" ry="21.3" fill="url(#ge88050)" opacity="0.45" transform="rotate(59 1447 2780)"/>
<ellipse cx="707" cy="2051" rx="21.4" ry="17.1" fill="url(#ge88050)" opacity="0.61" transform="rotate(-34 707 2051)"/>
<ellipse cx="649" cy="2937" rx="21.7" ry="18.2" fill="url(#g6a1400)" opacity="0.38" transform="rotate(54 649 2937)"/>
<ellipse cx="528" cy="2477" rx="22.4" ry="21.8" fill="url(#ge88050)" opacity="0.75" transform="rotate(-57 528 2477)"/>
<ellipse cx="1219" cy="3123" rx="25.2" ry="29.5" fill="url(#g6a1400)" opacity="0.40" transform="rotate(44 1219 3123)"/>
<ellipse cx="817" cy="2840" rx="24.9" ry="30.8" fill="url(#ge88050)" opacity="0.51" transform="rotate(26 817 2840)"/>
<ellipse cx="688" cy="2263" rx="25.2" ry="29.5" fill="url(#ge88050)" opacity="0.78" transform="rotate(-37 688 2263)"/>
<ellipse cx="744" cy="2043" rx="24.3" ry="23.0" fill="url(#ge88050)" opacity="0.43" transform="rotate(-43 744 2043)"/>
<ellipse cx="430" cy="2510" rx="18.3" ry="13.8" fill="url(#g6a1400)" opacity="0.41" transform="rotate(6 430 2510)"/>
<ellipse cx="687" cy="3213" rx="18.0" ry="15.0" fill="url(#ge88050)" opacity="0.68" transform="rotate(-59 687 3213)"/>
<ellipse cx="1311" cy="2583" rx="26.6" ry="26.6" fill="url(#ge88050)" opacity="0.65" transform="rotate(50 1311 2583)"/>
<ellipse cx="461" cy="2511" rx="22.3" ry="26.8" fill="url(#ge88050)" opacity="0.77" transform="rotate(-32 461 2511)"/>
<ellipse cx="317" cy="2667" rx="19.6" ry="21.9" fill="url(#ge88050)" opacity="0.74" transform="rotate(11 317 2667)"/>
<ellipse cx="804" cy="2362" rx="27.3" ry="32.1" fill="url(#ge88050)" opacity="0.48" transform="rotate(-23 804 2362)"/>
<ellipse cx="966" cy="2026" rx="24.7" ry="31.0" fill="url(#ge88050)" opacity="0.64" transform="rotate(16 966 2026)"/>
<ellipse cx="894" cy="2534" rx="18.8" ry="17.0" fill="url(#ge88050)" opacity="0.71" transform="rotate(-6 894 2534)"/>
<ellipse cx="567" cy="2319" rx="18.1" ry="16.6" fill="url(#ge88050)" opacity="0.47" transform="rotate(52 567 2319)"/>
<ellipse cx="715" cy="3242" rx="18.1" ry="16.9" fill="url(#g6a1400)" opacity="0.33" transform="rotate(-35 715 3242)"/>
<ellipse cx="356" cy="3125" rx="20.9" ry="23.6" fill="url(#g6a1400)" opacity="0.24" transform="rotate(-6 356 3125)"/>
<ellipse cx="544" cy="2313" rx="20.2" ry="24.2" fill="url(#ge88050)" opacity="0.64" transform="rotate(0 544 2313)"/>
<ellipse cx="1440" cy="2713" rx="22.4" ry="24.9" fill="url(#ge88050)" opacity="0.61" transform="rotate(14 1440 2713)"/>
<ellipse cx="405" cy="2529" rx="27.5" ry="25.3" fill="url(#ge88050)" opacity="0.68" transform="rotate(-16 405 2529)"/>
<ellipse cx="468" cy="2539" rx="25.8" ry="19.9" fill="url(#g6a1400)" opacity="0.43" transform="rotate(-47 468 2539)"/>
<ellipse cx="312" cy="2025" rx="24.5" ry="22.2" fill="url(#ge88050)" opacity="0.62" transform="rotate(19 312 2025)"/>
<ellipse cx="448" cy="2378" rx="25.3" ry="26.1" fill="url(#g6a1400)" opacity="0.36" transform="rotate(42 448 2378)"/>
<ellipse cx="1442" cy="2160" rx="22.7" ry="21.0" fill="url(#ge88050)" opacity="0.80" transform="rotate(15 1442 2160)"/>
<ellipse cx="751" cy="3015" rx="28.3" ry="35.9" fill="url(#g6a1400)" opacity="0.45" transform="rotate(-13 751 3015)"/>
<ellipse cx="403" cy="2964" rx="25.7" ry="25.8" fill="url(#ge88050)" opacity="0.60" transform="rotate(-27 403 2964)"/>
<ellipse cx="1564" cy="2477" rx="20.1" ry="21.9" fill="url(#ge88050)" opacity="0.62" transform="rotate(-8 1564 2477)"/>
<ellipse cx="629" cy="1960" rx="26.8" ry="29.8" fill="url(#ge88050)" opacity="0.67" transform="rotate(-31 629 1960)"/>
<ellipse cx="944" cy="3180" rx="26.3" ry="24.2" fill="url(#ge88050)" opacity="0.49" transform="rotate(-19 944 3180)"/>
<ellipse cx="1568" cy="1974" rx="23.0" ry="20.7" fill="url(#ge88050)" opacity="0.52" transform="rotate(3 1568 1974)"/>
<ellipse cx="1647" cy="3021" rx="19.7" ry="19.7" fill="url(#ge88050)" opacity="0.51" transform="rotate(-56 1647 3021)"/>
<ellipse cx="1640" cy="2349" rx="20.0" ry="15.7" fill="url(#g6a1400)" opacity="0.39" transform="rotate(-47 1640 2349)"/>
<ellipse cx="1548" cy="3088" rx="26.4" ry="23.5" fill="url(#ge88050)" opacity="0.45" transform="rotate(-40 1548 3088)"/>
<ellipse cx="468" cy="2925" rx="22.9" ry="17.3" fill="url(#g6a1400)" opacity="0.42" transform="rotate(-23 468 2925)"/>
<ellipse cx="1271" cy="2941" rx="27.9" ry="29.5" fill="url(#ge88050)" opacity="0.55" transform="rotate(-14 1271 2941)"/>
<ellipse cx="267" cy="2276" rx="22.5" ry="18.4" fill="url(#ge88050)" opacity="0.58" transform="rotate(-50 267 2276)"/>
<ellipse cx="1601" cy="2596" rx="27.0" ry="31.4" fill="url(#ge88050)" opacity="0.59" transform="rotate(11 1601 2596)"/>
<ellipse cx="674" cy="2804" rx="27.3" ry="32.3" fill="url(#ge88050)" opacity="0.43" transform="rotate(-25 674 2804)"/>
<ellipse cx="1061" cy="2231" rx="17.1" ry="15.6" fill="url(#ge88050)" opacity="0.71" transform="rotate(-33 1061 2231)"/>
<ellipse cx="1061" cy="2307" rx="25.8" ry="22.3" fill="url(#ge88050)" opacity="0.68" transform="rotate(51 1061 2307)"/>
<ellipse cx="1235" cy="2942" rx="22.8" ry="28.1" fill="url(#g6a1400)" opacity="0.24" transform="rotate(15 1235 2942)"/>
<ellipse cx="485" cy="2566" rx="23.5" ry="18.9" fill="url(#ge88050)" opacity="0.63" transform="rotate(29 485 2566)"/>
<ellipse cx="970" cy="3092" rx="20.6" ry="21.8" fill="url(#ge88050)" opacity="0.56" transform="rotate(13 970 3092)"/>
<ellipse cx="618" cy="2573" rx="24.2" ry="26.7" fill="url(#ge88050)" opacity="0.66" transform="rotate(-44 618 2573)"/>
<ellipse cx="496" cy="2054" rx="28.1" ry="21.4" fill="url(#ge88050)" opacity="0.44" transform="rotate(-0 496 2054)"/>
<ellipse cx="605" cy="2138" rx="21.8" ry="27.3" fill="url(#ge88050)" opacity="0.72" transform="rotate(-50 605 2138)"/>
<ellipse cx="1119" cy="1939" rx="19.7" ry="17.9" fill="url(#ge88050)" opacity="0.53" transform="rotate(47 1119 1939)"/>
<ellipse cx="910" cy="2594" rx="18.8" ry="21.0" fill="url(#ge88050)" opacity="0.65" transform="rotate(27 910 2594)"/>
<ellipse cx="1331" cy="3258" rx="24.4" ry="18.9" fill="url(#ge88050)" opacity="0.57" transform="rotate(1 1331 3258)"/>
<ellipse cx="1205" cy="2428" rx="24.4" ry="26.5" fill="url(#g6a1400)" opacity="0.38" transform="rotate(20 1205 2428)"/>
<ellipse cx="1242" cy="2903" rx="19.8" ry="21.5" fill="url(#ge88050)" opacity="0.75" transform="rotate(14 1242 2903)"/>
<ellipse cx="543" cy="2604" rx="23.3" ry="26.7" fill="url(#ge88050)" opacity="0.82" transform="rotate(32 543 2604)"/>
<ellipse cx="856" cy="2708" rx="28.9" ry="26.8" fill="url(#g6a1400)" opacity="0.24" transform="rotate(26 856 2708)"/>
<ellipse cx="1340" cy="2829" rx="23.5" ry="27.8" fill="url(#ge88050)" opacity="0.63" transform="rotate(43 1340 2829)"/>
<ellipse cx="1106" cy="2895" rx="28.5" ry="34.0" fill="url(#ge88050)" opacity="0.61" transform="rotate(39 1106 2895)"/>
<ellipse cx="1538" cy="3244" rx="26.1" ry="24.3" fill="url(#ge88050)" opacity="0.71" transform="rotate(32 1538 3244)"/>
<ellipse cx="1138" cy="3130" rx="25.6" ry="32.8" fill="url(#ge88050)" opacity="0.70" transform="rotate(-1 1138 3130)"/>
<ellipse cx="1028" cy="1979" rx="28.5" ry="26.4" fill="url(#ge88050)" opacity="0.51" transform="rotate(-0 1028 1979)"/>
<ellipse cx="1560" cy="2301" rx="20.6" ry="24.6" fill="url(#ge88050)" opacity="0.67" transform="rotate(-31 1560 2301)"/>
<ellipse cx="1513" cy="2582" rx="20.9" ry="18.7" fill="url(#ge88050)" opacity="0.48" transform="rotate(-16 1513 2582)"/>
<ellipse cx="430" cy="2353" rx="26.2" ry="33.2" fill="url(#ge88050)" opacity="0.55" transform="rotate(-17 430 2353)"/>
<ellipse cx="1125" cy="2585" rx="18.4" ry="19.1" fill="url(#ge88050)" opacity="0.76" transform="rotate(-28 1125 2585)"/>
<ellipse cx="366" cy="2529" rx="26.2" ry="27.5" fill="url(#ge88050)" opacity="0.83" transform="rotate(45 366 2529)"/>
<ellipse cx="277" cy="3172" rx="22.1" ry="16.6" fill="url(#g6a1400)" opacity="0.39" transform="rotate(-29 277 3172)"/>
<ellipse cx="1282" cy="3053" rx="17.1" ry="15.7" fill="url(#g6a1400)" opacity="0.43" transform="rotate(-4 1282 3053)"/>
<ellipse cx="431" cy="3302" rx="23.7" ry="21.7" fill="url(#ge88050)" opacity="0.65" transform="rotate(-50 431 3302)"/>
<ellipse cx="871" cy="2348" rx="28.4" ry="28.7" fill="url(#g6a1400)" opacity="0.28" transform="rotate(-23 871 2348)"/>
<ellipse cx="827" cy="2057" rx="19.9" ry="25.8" fill="url(#ge88050)" opacity="0.71" transform="rotate(15 827 2057)"/>
<ellipse cx="1188" cy="2645" rx="21.4" ry="17.8" fill="url(#ge88050)" opacity="0.60" transform="rotate(-56 1188 2645)"/>
<ellipse cx="229" cy="2861" rx="21.0" ry="18.5" fill="url(#ge88050)" opacity="0.51" transform="rotate(-22 229 2861)"/>
<ellipse cx="1449" cy="2591" rx="17.8" ry="14.2" fill="url(#ge88050)" opacity="0.55" transform="rotate(47 1449 2591)"/>
<ellipse cx="1247" cy="1975" rx="27.7" ry="35.0" fill="url(#ge88050)" opacity="0.61" transform="rotate(20 1247 1975)"/>
<ellipse cx="1427" cy="2746" rx="19.5" ry="17.1" fill="url(#ge88050)" opacity="0.50" transform="rotate(-52 1427 2746)"/>
<ellipse cx="860" cy="3172" rx="27.8" ry="28.4" fill="url(#ge88050)" opacity="0.83" transform="rotate(34 860 3172)"/>
<ellipse cx="1468" cy="2590" rx="27.6" ry="25.2" fill="url(#ge88050)" opacity="0.82" transform="rotate(58 1468 2590)"/>
<ellipse cx="1427" cy="3227" rx="25.7" ry="20.3" fill="url(#ge88050)" opacity="0.81" transform="rotate(-26 1427 3227)"/>
<ellipse cx="1201" cy="1965" rx="21.2" ry="19.9" fill="url(#ge88050)" opacity="0.64" transform="rotate(-39 1201 1965)"/>
<ellipse cx="754" cy="2286" rx="21.9" ry="27.9" fill="url(#g6a1400)" opacity="0.43" transform="rotate(12 754 2286)"/>
<ellipse cx="259" cy="3151" rx="18.1" ry="15.6" fill="url(#g6a1400)" opacity="0.36" transform="rotate(29 259 3151)"/>
<ellipse cx="904" cy="2928" rx="22.1" ry="19.0" fill="url(#ge88050)" opacity="0.44" transform="rotate(-34 904 2928)"/>
<ellipse cx="1593" cy="3249" rx="21.2" ry="20.7" fill="url(#g6a1400)" opacity="0.34" transform="rotate(-27 1593 3249)"/>
<ellipse cx="461" cy="3156" rx="28.1" ry="21.8" fill="url(#ge88050)" opacity="0.70" transform="rotate(-5 461 3156)"/>
<ellipse cx="734" cy="2330" rx="20.6" ry="22.4" fill="url(#ge88050)" opacity="0.71" transform="rotate(0 734 2330)"/>
<ellipse cx="900" cy="3245" rx="22.3" ry="26.4" fill="url(#ge88050)" opacity="0.68" transform="rotate(52 900 3245)"/>
<ellipse cx="1358" cy="2913" rx="19.3" ry="18.9" fill="url(#ge88050)" opacity="0.72" transform="rotate(-41 1358 2913)"/>
<ellipse cx="690" cy="2269" rx="17.3" ry="13.2" fill="url(#ge88050)" opacity="0.61" transform="rotate(21 690 2269)"/>
<ellipse cx="1193" cy="3189" rx="25.4" ry="22.1" fill="url(#ge88050)" opacity="0.67" transform="rotate(59 1193 3189)"/>
<ellipse cx="1147" cy="2315" rx="27.7" ry="30.0" fill="url(#ge88050)" opacity="0.78" transform="rotate(25 1147 2315)"/>
<ellipse cx="630" cy="2781" rx="25.8" ry="24.0" fill="url(#ge88050)" opacity="0.84" transform="rotate(-28 630 2781)"/>
<ellipse cx="1167" cy="2574" rx="23.7" ry="26.4" fill="url(#ge88050)" opacity="0.47" transform="rotate(-29 1167 2574)"/>
<ellipse cx="1057" cy="2754" rx="28.7" ry="31.4" fill="url(#g6a1400)" opacity="0.34" transform="rotate(42 1057 2754)"/>
<ellipse cx="825" cy="2574" rx="21.5" ry="25.1" fill="url(#ge88050)" opacity="0.83" transform="rotate(9 825 2574)"/>
<ellipse cx="977" cy="2965" rx="23.6" ry="25.3" fill="url(#ge88050)" opacity="0.48" transform="rotate(9 977 2965)"/>
<ellipse cx="1273" cy="2403" rx="18.5" ry="22.2" fill="url(#g6a1400)" opacity="0.31" transform="rotate(30 1273 2403)"/>
<ellipse cx="405" cy="2981" rx="19.6" ry="21.9" fill="url(#ge88050)" opacity="0.43" transform="rotate(24 405 2981)"/>
<ellipse cx="1069" cy="3024" rx="24.1" ry="31.1" fill="url(#g6a1400)" opacity="0.32" transform="rotate(-33 1069 3024)"/>
<ellipse cx="1055" cy="2336" rx="19.8" ry="20.8" fill="url(#g6a1400)" opacity="0.36" transform="rotate(13 1055 2336)"/>
<ellipse cx="938" cy="2827" rx="24.5" ry="23.9" fill="url(#g6a1400)" opacity="0.31" transform="rotate(-28 938 2827)"/>
<ellipse cx="268" cy="2150" rx="21.3" ry="24.0" fill="url(#ge88050)" opacity="0.77" transform="rotate(19 268 2150)"/>
<ellipse cx="687" cy="2405" rx="26.0" ry="29.2" fill="url(#g6a1400)" opacity="0.23" transform="rotate(-9 687 2405)"/>
<ellipse cx="991" cy="3120" rx="27.5" ry="23.6" fill="url(#ge88050)" opacity="0.82" transform="rotate(37 991 3120)"/>
<ellipse cx="690" cy="2847" rx="24.7" ry="32.0" fill="url(#ge88050)" opacity="0.48" transform="rotate(-19 690 2847)"/>
<ellipse cx="1205" cy="2009" rx="27.2" ry="22.6" fill="url(#g6a1400)" opacity="0.34" transform="rotate(-37 1205 2009)"/>
<ellipse cx="1308" cy="2397" rx="19.9" ry="19.0" fill="url(#ge88050)" opacity="0.81" transform="rotate(58 1308 2397)"/>
<ellipse cx="1493" cy="2869" rx="20.2" ry="23.3" fill="url(#ge88050)" opacity="0.52" transform="rotate(49 1493 2869)"/>
<ellipse cx="1098" cy="3258" rx="24.1" ry="20.0" fill="url(#ge88050)" opacity="0.45" transform="rotate(-36 1098 3258)"/>
<ellipse cx="216" cy="2437" rx="20.1" ry="20.5" fill="url(#ge88050)" opacity="0.71" transform="rotate(-51 216 2437)"/>
<ellipse cx="673" cy="2730" rx="23.3" ry="27.6" fill="url(#ge88050)" opacity="0.66" transform="rotate(9 673 2730)"/>
<ellipse cx="1406" cy="2046" rx="18.4" ry="22.5" fill="url(#ge88050)" opacity="0.81" transform="rotate(40 1406 2046)"/>
<ellipse cx="1096" cy="3117" rx="25.4" ry="24.3" fill="url(#g6a1400)" opacity="0.38" transform="rotate(-46 1096 3117)"/>
<ellipse cx="895" cy="2292" rx="21.4" ry="27.0" fill="url(#ge88050)" opacity="0.84" transform="rotate(-4 895 2292)"/>
<ellipse cx="1632" cy="2159" rx="19.4" ry="22.3" fill="url(#ge88050)" opacity="0.72" transform="rotate(-14 1632 2159)"/>
<ellipse cx="610" cy="2748" rx="19.4" ry="17.0" fill="url(#ge88050)" opacity="0.81" transform="rotate(5 610 2748)"/>
<ellipse cx="421" cy="3201" rx="20.1" ry="18.9" fill="url(#ge88050)" opacity="0.84" transform="rotate(-47 421 3201)"/>
<ellipse cx="739" cy="3088" rx="28.7" ry="32.5" fill="url(#ge88050)" opacity="0.50" transform="rotate(-38 739 3088)"/>
<ellipse cx="576" cy="2382" rx="19.0" ry="21.3" fill="url(#ge88050)" opacity="0.53" transform="rotate(3 576 2382)"/>
<ellipse cx="420" cy="2071" rx="22.3" ry="17.6" fill="url(#ge88050)" opacity="0.75" transform="rotate(3 420 2071)"/>
<ellipse cx="601" cy="3117" rx="28.3" ry="35.8" fill="url(#g6a1400)" opacity="0.33" transform="rotate(-33 601 3117)"/>
<ellipse cx="1496" cy="2564" rx="23.5" ry="21.0" fill="url(#ge88050)" opacity="0.80" transform="rotate(31 1496 2564)"/>
<ellipse cx="1239" cy="2515" rx="17.4" ry="15.6" fill="url(#ge88050)" opacity="0.67" transform="rotate(-10 1239 2515)"/>
<ellipse cx="222" cy="2569" rx="27.7" ry="35.3" fill="url(#g6a1400)" opacity="0.36" transform="rotate(23 222 2569)"/>
<ellipse cx="1662" cy="3024" rx="22.5" ry="23.0" fill="url(#ge88050)" opacity="0.68" transform="rotate(53 1662 3024)"/>
<ellipse cx="660" cy="2846" rx="22.9" ry="29.0" fill="url(#g6a1400)" opacity="0.44" transform="rotate(60 660 2846)"/>
<ellipse cx="277" cy="2013" rx="21.1" ry="25.4" fill="url(#ge88050)" opacity="0.47" transform="rotate(7 277 2013)"/>
<ellipse cx="576" cy="2089" rx="18.7" ry="21.7" fill="url(#ge88050)" opacity="0.69" transform="rotate(-37 576 2089)"/>
<ellipse cx="403" cy="3085" rx="24.8" ry="30.6" fill="url(#g6a1400)" opacity="0.29" transform="rotate(27 403 3085)"/>
<ellipse cx="827" cy="2445" rx="21.7" ry="27.2" fill="url(#g6a1400)" opacity="0.37" transform="rotate(-8 827 2445)"/>
<ellipse cx="334" cy="2207" rx="23.9" ry="28.3" fill="url(#ge88050)" opacity="0.59" transform="rotate(-32 334 2207)"/>
<ellipse cx="879" cy="2502" rx="28.1" ry="30.5" fill="url(#ge88050)" opacity="0.64" transform="rotate(-27 879 2502)"/>
<ellipse cx="447" cy="2463" rx="17.8" ry="19.8" fill="url(#g6a1400)" opacity="0.36" transform="rotate(44 447 2463)"/>
<ellipse cx="771" cy="2699" rx="23.7" ry="20.0" fill="url(#ge88050)" opacity="0.51" transform="rotate(5 771 2699)"/>
<ellipse cx="856" cy="3089" rx="24.7" ry="23.0" fill="url(#ge88050)" opacity="0.66" transform="rotate(-31 856 3089)"/>
<ellipse cx="646" cy="2574" rx="21.9" ry="24.0" fill="url(#ge88050)" opacity="0.65" transform="rotate(45 646 2574)"/>
<ellipse cx="1028" cy="2850" rx="19.9" ry="17.6" fill="url(#ge88050)" opacity="0.71" transform="rotate(51 1028 2850)"/>
<ellipse cx="591" cy="2602" rx="22.4" ry="19.8" fill="url(#g6a1400)" opacity="0.23" transform="rotate(-39 591 2602)"/>
<ellipse cx="421" cy="2951" rx="21.5" ry="18.4" fill="url(#g6a1400)" opacity="0.27" transform="rotate(33 421 2951)"/>
<ellipse cx="1238" cy="2469" rx="29.0" ry="31.2" fill="url(#ge88050)" opacity="0.48" transform="rotate(47 1238 2469)"/>
<ellipse cx="854" cy="2904" rx="18.8" ry="15.0" fill="url(#g6a1400)" opacity="0.37" transform="rotate(59 854 2904)"/>
<ellipse cx="306" cy="2898" rx="28.9" ry="34.1" fill="url(#ge88050)" opacity="0.69" transform="rotate(26 306 2898)"/>
<ellipse cx="1556" cy="2614" rx="17.9" ry="14.8" fill="url(#g6a1400)" opacity="0.44" transform="rotate(54 1556 2614)"/>
<ellipse cx="428" cy="2059" rx="25.2" ry="24.8" fill="url(#ge88050)" opacity="0.75" transform="rotate(-4 428 2059)"/>
<ellipse cx="1346" cy="2933" rx="22.2" ry="22.6" fill="url(#ge88050)" opacity="0.56" transform="rotate(-13 1346 2933)"/>
<ellipse cx="894" cy="3266" rx="26.6" ry="21.9" fill="url(#g6a1400)" opacity="0.30" transform="rotate(20 894 3266)"/>
<ellipse cx="1502" cy="3235" rx="17.8" ry="19.5" fill="url(#ge88050)" opacity="0.66" transform="rotate(-14 1502 3235)"/>
<ellipse cx="1460" cy="2799" rx="27.7" ry="24.5" fill="url(#ge88050)" opacity="0.50" transform="rotate(36 1460 2799)"/>
<ellipse cx="1378" cy="2724" rx="19.7" ry="24.5" fill="url(#ge88050)" opacity="0.84" transform="rotate(-1 1378 2724)"/>
<ellipse cx="688" cy="2676" rx="23.6" ry="21.4" fill="url(#g6a1400)" opacity="0.38" transform="rotate(4 688 2676)"/>
<ellipse cx="598" cy="2873" rx="24.4" ry="23.2" fill="url(#ge88050)" opacity="0.76" transform="rotate(21 598 2873)"/>
<ellipse cx="776" cy="3072" rx="20.6" ry="17.4" fill="url(#ge88050)" opacity="0.80" transform="rotate(-20 776 3072)"/>
<ellipse cx="1657" cy="2497" rx="19.9" ry="24.6" fill="url(#ge88050)" opacity="0.55" transform="rotate(42 1657 2497)"/>
<ellipse cx="935" cy="2096" rx="19.5" ry="18.9" fill="url(#ge88050)" opacity="0.68" transform="rotate(-46 935 2096)"/>
<ellipse cx="650" cy="3200" rx="28.5" ry="31.9" fill="url(#g6a1400)" opacity="0.30" transform="rotate(-27 650 3200)"/>
<ellipse cx="1475" cy="2507" rx="25.3" ry="29.4" fill="url(#g6a1400)" opacity="0.30" transform="rotate(24 1475 2507)"/>
<ellipse cx="434" cy="2429" rx="28.5" ry="22.0" fill="url(#ge88050)" opacity="0.61" transform="rotate(-26 434 2429)"/>
<ellipse cx="1476" cy="2152" rx="18.3" ry="13.9" fill="url(#g6a1400)" opacity="0.33" transform="rotate(-19 1476 2152)"/>
<ellipse cx="1150" cy="2633" rx="21.3" ry="20.8" fill="url(#g6a1400)" opacity="0.39" transform="rotate(-55 1150 2633)"/>
<ellipse cx="355" cy="2196" rx="26.4" ry="27.2" fill="url(#g6a1400)" opacity="0.26" transform="rotate(30 355 2196)"/>
<ellipse cx="1406" cy="2194" rx="18.7" ry="21.7" fill="url(#ge88050)" opacity="0.59" transform="rotate(38 1406 2194)"/>
<ellipse cx="1278" cy="2325" rx="22.3" ry="28.9" fill="url(#g6a1400)" opacity="0.42" transform="rotate(-44 1278 2325)"/>
<ellipse cx="1658" cy="2256" rx="19.4" ry="19.2" fill="url(#g6a1400)" opacity="0.35" transform="rotate(-39 1658 2256)"/>
<ellipse cx="1434" cy="2603" rx="23.0" ry="29.3" fill="url(#ge88050)" opacity="0.79" transform="rotate(-45 1434 2603)"/>
<ellipse cx="1068" cy="3012" rx="28.9" ry="34.0" fill="url(#g6a1400)" opacity="0.34" transform="rotate(13 1068 3012)"/>
<ellipse cx="531" cy="2368" rx="28.1" ry="29.2" fill="url(#ge88050)" opacity="0.85" transform="rotate(-56 531 2368)"/>
<ellipse cx="1121" cy="2604" rx="22.5" ry="24.6" fill="url(#ge88050)" opacity="0.81" transform="rotate(14 1121 2604)"/>
<ellipse cx="1499" cy="3012" rx="25.7" ry="29.4" fill="url(#ge88050)" opacity="0.54" transform="rotate(-36 1499 3012)"/>
<ellipse cx="511" cy="3249" rx="19.8" ry="23.7" fill="url(#ge88050)" opacity="0.44" transform="rotate(40 511 3249)"/>
<ellipse cx="471" cy="2820" rx="25.5" ry="24.1" fill="url(#ge88050)" opacity="0.70" transform="rotate(12 471 2820)"/>
<ellipse cx="1347" cy="3013" rx="23.8" ry="25.3" fill="url(#ge88050)" opacity="0.60" transform="rotate(-60 1347 3013)"/>
<ellipse cx="319" cy="2014" rx="28.5" ry="32.1" fill="url(#g6a1400)" opacity="0.42" transform="rotate(7 319 2014)"/>
<ellipse cx="1134" cy="2512" rx="21.7" ry="27.9" fill="url(#ge88050)" opacity="0.77" transform="rotate(54 1134 2512)"/>
<ellipse cx="1145" cy="2394" rx="25.3" ry="22.8" fill="url(#ge88050)" opacity="0.67" transform="rotate(29 1145 2394)"/>
<ellipse cx="296" cy="3183" rx="28.5" ry="33.3" fill="url(#g6a1400)" opacity="0.25" transform="rotate(-25 296 3183)"/>
<ellipse cx="1006" cy="2397" rx="22.7" ry="20.6" fill="url(#ge88050)" opacity="0.53" transform="rotate(-52 1006 2397)"/>
<ellipse cx="468" cy="2377" rx="18.5" ry="14.1" fill="url(#ge88050)" opacity="0.80" transform="rotate(57 468 2377)"/>
<ellipse cx="822" cy="2080" rx="22.1" ry="22.8" fill="url(#ge88050)" opacity="0.43" transform="rotate(-53 822 2080)"/>
<ellipse cx="647" cy="2912" rx="27.1" ry="23.0" fill="url(#g6a1400)" opacity="0.30" transform="rotate(-11 647 2912)"/>
<ellipse cx="385" cy="2258" rx="27.4" ry="25.7" fill="url(#g6a1400)" opacity="0.36" transform="rotate(20 385 2258)"/>
<ellipse cx="500" cy="2588" rx="20.9" ry="21.2" fill="url(#g6a1400)" opacity="0.38" transform="rotate(14 500 2588)"/>
<ellipse cx="951" cy="3053" rx="23.1" ry="19.8" fill="url(#ge88050)" opacity="0.52" transform="rotate(20 951 3053)"/>
<ellipse cx="777" cy="2593" rx="17.4" ry="16.5" fill="url(#ge88050)" opacity="0.58" transform="rotate(55 777 2593)"/>
<ellipse cx="876" cy="2894" rx="23.0" ry="22.4" fill="url(#ge88050)" opacity="0.72" transform="rotate(10 876 2894)"/>
<ellipse cx="828" cy="2904" rx="21.2" ry="23.3" fill="url(#ge88050)" opacity="0.63" transform="rotate(-36 828 2904)"/>
<ellipse cx="236" cy="2088" rx="22.5" ry="26.4" fill="url(#g6a1400)" opacity="0.41" transform="rotate(37 236 2088)"/>
<ellipse cx="1615" cy="2186" rx="18.8" ry="15.5" fill="url(#ge88050)" opacity="0.56" transform="rotate(35 1615 2186)"/>
<ellipse cx="415" cy="3191" rx="19.5" ry="17.2" fill="url(#g6a1400)" opacity="0.23" transform="rotate(11 415 3191)"/>
<ellipse cx="1054" cy="2657" rx="23.7" ry="24.4" fill="url(#g6a1400)" opacity="0.42" transform="rotate(36 1054 2657)"/>
<ellipse cx="693" cy="1969" rx="22.6" ry="17.3" fill="url(#ge88050)" opacity="0.74" transform="rotate(16 693 1969)"/>
<ellipse cx="1421" cy="2943" rx="25.3" ry="23.6" fill="url(#ge88050)" opacity="0.52" transform="rotate(27 1421 2943)"/>
<ellipse cx="1473" cy="2576" rx="23.4" ry="20.1" fill="url(#ge88050)" opacity="0.74" transform="rotate(40 1473 2576)"/>
<ellipse cx="1434" cy="2642" rx="24.0" ry="24.1" fill="url(#g6a1400)" opacity="0.43" transform="rotate(-31 1434 2642)"/>
<ellipse cx="264" cy="1957" rx="22.6" ry="18.0" fill="url(#ge88050)" opacity="0.53" transform="rotate(-7 264 1957)"/>
<ellipse cx="1338" cy="2730" rx="28.1" ry="24.0" fill="url(#ge88050)" opacity="0.75" transform="rotate(-14 1338 2730)"/>
<ellipse cx="834" cy="2172" rx="21.6" ry="23.0" fill="url(#ge88050)" opacity="0.78" transform="rotate(56 834 2172)"/>
<ellipse cx="1422" cy="2514" rx="23.1" ry="27.9" fill="url(#ge88050)" opacity="0.51" transform="rotate(27 1422 2514)"/>
<ellipse cx="1274" cy="2322" rx="20.2" ry="17.9" fill="url(#ge88050)" opacity="0.82" transform="rotate(22 1274 2322)"/>
<ellipse cx="1068" cy="2592" rx="27.6" ry="22.8" fill="url(#g6a1400)" opacity="0.30" transform="rotate(11 1068 2592)"/>
<ellipse cx="434" cy="2070" rx="17.3" ry="20.0" fill="url(#g6a1400)" opacity="0.41" transform="rotate(-11 434 2070)"/>
<ellipse cx="252" cy="2342" rx="20.2" ry="18.1" fill="url(#ge88050)" opacity="0.57" transform="rotate(-57 252 2342)"/>
<ellipse cx="870" cy="2659" rx="28.8" ry="23.3" fill="url(#g6a1400)" opacity="0.29" transform="rotate(-44 870 2659)"/>
<ellipse cx="995" cy="2340" rx="27.7" ry="35.1" fill="url(#ge88050)" opacity="0.58" transform="rotate(8 995 2340)"/>
<ellipse cx="1234" cy="2708" rx="20.4" ry="19.7" fill="url(#ge88050)" opacity="0.78" transform="rotate(-53 1234 2708)"/>
<ellipse cx="775" cy="2567" rx="19.0" ry="21.7" fill="url(#ge88050)" opacity="0.75" transform="rotate(-10 775 2567)"/>
<ellipse cx="644" cy="2019" rx="24.7" ry="28.6" fill="url(#ge88050)" opacity="0.80" transform="rotate(-54 644 2019)"/>
<ellipse cx="951" cy="2484" rx="18.6" ry="16.9" fill="url(#g6a1400)" opacity="0.37" transform="rotate(10 951 2484)"/>
<ellipse cx="1617" cy="2484" rx="17.8" ry="16.7" fill="url(#ge88050)" opacity="0.46" transform="rotate(-16 1617 2484)"/>
<ellipse cx="1534" cy="3172" rx="18.6" ry="14.8" fill="url(#ge88050)" opacity="0.55" transform="rotate(58 1534 3172)"/>
<ellipse cx="541" cy="2204" rx="17.4" ry="17.4" fill="url(#ge88050)" opacity="0.63" transform="rotate(33 541 2204)"/>
<ellipse cx="406" cy="3020" rx="27.9" ry="34.3" fill="url(#ge88050)" opacity="0.73" transform="rotate(4 406 3020)"/>
<ellipse cx="315" cy="3003" rx="20.6" ry="25.6" fill="url(#g6a1400)" opacity="0.34" transform="rotate(-26 315 3003)"/>
<ellipse cx="561" cy="2602" rx="22.2" ry="18.5" fill="url(#ge88050)" opacity="0.72" transform="rotate(6 561 2602)"/>
<ellipse cx="706" cy="2776" rx="19.4" ry="20.1" fill="url(#g6a1400)" opacity="0.27" transform="rotate(-31 706 2776)"/>
<ellipse cx="636" cy="2008" rx="20.6" ry="21.6" fill="url(#ge88050)" opacity="0.80" transform="rotate(-33 636 2008)"/>
<ellipse cx="664" cy="2214" rx="21.8" ry="26.4" fill="url(#g6a1400)" opacity="0.35" transform="rotate(30 664 2214)"/>
<ellipse cx="699" cy="2617" rx="17.7" ry="19.9" fill="url(#g6a1400)" opacity="0.41" transform="rotate(41 699 2617)"/>
<ellipse cx="1152" cy="3043" rx="20.5" ry="21.7" fill="url(#g6a1400)" opacity="0.34" transform="rotate(-40 1152 3043)"/>
<ellipse cx="470" cy="3297" rx="24.4" ry="21.2" fill="url(#ge88050)" opacity="0.69" transform="rotate(41 470 3297)"/>
<ellipse cx="1486" cy="2355" rx="20.3" ry="21.6" fill="url(#g6a1400)" opacity="0.33" transform="rotate(-36 1486 2355)"/>
<ellipse cx="504" cy="2086" rx="18.9" ry="20.2" fill="url(#g6a1400)" opacity="0.42" transform="rotate(50 504 2086)"/>
<ellipse cx="1035" cy="3039" rx="21.0" ry="20.0" fill="url(#ge88050)" opacity="0.69" transform="rotate(48 1035 3039)"/>
<ellipse cx="1036" cy="1983" rx="23.8" ry="28.3" fill="url(#ge88050)" opacity="0.81" transform="rotate(47 1036 1983)"/>
<ellipse cx="269" cy="3188" rx="25.2" ry="30.1" fill="url(#ge88050)" opacity="0.78" transform="rotate(-6 269 3188)"/>
<ellipse cx="538" cy="2168" rx="26.0" ry="32.1" fill="url(#ge88050)" opacity="0.64" transform="rotate(-33 538 2168)"/>
<ellipse cx="664" cy="3098" rx="20.4" ry="24.0" fill="url(#ge88050)" opacity="0.83" transform="rotate(-11 664 3098)"/>
<ellipse cx="428" cy="2053" rx="17.4" ry="16.4" fill="url(#ge88050)" opacity="0.82" transform="rotate(-57 428 2053)"/>
<ellipse cx="583" cy="2918" rx="19.6" ry="14.8" fill="url(#ge88050)" opacity="0.83" transform="rotate(-59 583 2918)"/>
<ellipse cx="876" cy="2262" rx="17.6" ry="19.4" fill="url(#ge88050)" opacity="0.61" transform="rotate(-22 876 2262)"/>
<ellipse cx="1245" cy="2392" rx="23.7" ry="20.3" fill="url(#ge88050)" opacity="0.82" transform="rotate(7 1245 2392)"/>
<ellipse cx="1559" cy="2722" rx="22.7" ry="22.0" fill="url(#ge88050)" opacity="0.73" transform="rotate(30 1559 2722)"/>
<ellipse cx="856" cy="2474" rx="25.7" ry="21.8" fill="url(#ge88050)" opacity="0.51" transform="rotate(-19 856 2474)"/>
<ellipse cx="1465" cy="2350" rx="25.8" ry="20.1" fill="url(#ge88050)" opacity="0.74" transform="rotate(51 1465 2350)"/>
<ellipse cx="368" cy="2761" rx="26.7" ry="24.3" fill="url(#ge88050)" opacity="0.75" transform="rotate(-49 368 2761)"/>
<ellipse cx="1318" cy="2000" rx="20.9" ry="26.2" fill="url(#ge88050)" opacity="0.79" transform="rotate(-25 1318 2000)"/>
<ellipse cx="1402" cy="2538" rx="25.4" ry="29.5" fill="url(#ge88050)" opacity="0.74" transform="rotate(40 1402 2538)"/>
<ellipse cx="1552" cy="3022" rx="23.3" ry="22.5" fill="url(#g6a1400)" opacity="0.41" transform="rotate(58 1552 3022)"/>
<ellipse cx="948" cy="3169" rx="27.5" ry="28.2" fill="url(#ge88050)" opacity="0.48" transform="rotate(-44 948 3169)"/>
<ellipse cx="699" cy="2711" rx="23.0" ry="25.4" fill="url(#g6a1400)" opacity="0.29" transform="rotate(38 699 2711)"/>
<ellipse cx="1597" cy="2365" rx="21.2" ry="24.7" fill="url(#ge88050)" opacity="0.76" transform="rotate(57 1597 2365)"/>
<ellipse cx="1411" cy="2354" rx="24.4" ry="30.9" fill="url(#ge88050)" opacity="0.80" transform="rotate(-58 1411 2354)"/>
<ellipse cx="1034" cy="2502" rx="26.5" ry="26.4" fill="url(#ge88050)" opacity="0.75" transform="rotate(-43 1034 2502)"/>
<ellipse cx="1144" cy="2608" rx="17.1" ry="22.2" fill="url(#ge88050)" opacity="0.76" transform="rotate(-51 1144 2608)"/>
<ellipse cx="1573" cy="2880" rx="21.6" ry="25.0" fill="url(#ge88050)" opacity="0.76" transform="rotate(20 1573 2880)"/>
<ellipse cx="1015" cy="2668" rx="20.1" ry="23.7" fill="url(#ge88050)" opacity="0.69" transform="rotate(-47 1015 2668)"/>
<ellipse cx="281" cy="3143" rx="19.3" ry="19.4" fill="url(#ge88050)" opacity="0.69" transform="rotate(-29 281 3143)"/>
<ellipse cx="499" cy="2677" rx="28.7" ry="23.9" fill="url(#ge88050)" opacity="0.47" transform="rotate(-34 499 2677)"/>
<ellipse cx="232" cy="3261" rx="28.6" ry="22.0" fill="url(#ge88050)" opacity="0.51" transform="rotate(40 232 3261)"/>
<ellipse cx="1493" cy="2074" rx="24.7" ry="27.6" fill="url(#ge88050)" opacity="0.49" transform="rotate(24 1493 2074)"/>
<ellipse cx="1128" cy="2324" rx="24.3" ry="28.1" fill="url(#g6a1400)" opacity="0.45" transform="rotate(-56 1128 2324)"/>
<ellipse cx="798" cy="2720" rx="21.0" ry="25.9" fill="url(#ge88050)" opacity="0.64" transform="rotate(-33 798 2720)"/>
<ellipse cx="858" cy="2714" rx="19.4" ry="24.5" fill="url(#ge88050)" opacity="0.74" transform="rotate(4 858 2714)"/>
<ellipse cx="270" cy="3208" rx="27.0" ry="24.1" fill="url(#ge88050)" opacity="0.76" transform="rotate(-6 270 3208)"/>
<ellipse cx="1624" cy="2750" rx="28.7" ry="29.0" fill="url(#g6a1400)" opacity="0.43" transform="rotate(44 1624 2750)"/>
<ellipse cx="880" cy="2627" rx="17.4" ry="22.2" fill="url(#ge88050)" opacity="0.68" transform="rotate(-49 880 2627)"/>
<ellipse cx="466" cy="2404" rx="20.6" ry="15.6" fill="url(#ge88050)" opacity="0.73" transform="rotate(-12 466 2404)"/>
<ellipse cx="1228" cy="3246" rx="27.5" ry="24.5" fill="url(#g6a1400)" opacity="0.40" transform="rotate(13 1228 3246)"/>
<ellipse cx="417" cy="2379" rx="24.4" ry="22.5" fill="url(#ge88050)" opacity="0.73" transform="rotate(50 417 2379)"/>
<ellipse cx="313" cy="3176" rx="28.7" ry="36.7" fill="url(#g6a1400)" opacity="0.45" transform="rotate(-19 313 3176)"/>
<ellipse cx="369" cy="2015" rx="25.0" ry="32.3" fill="url(#g6a1400)" opacity="0.37" transform="rotate(-56 369 2015)"/>
<ellipse cx="902" cy="2111" rx="23.1" ry="23.6" fill="url(#g6a1400)" opacity="0.39" transform="rotate(-36 902 2111)"/>
<ellipse cx="454" cy="2786" rx="24.2" ry="30.6" fill="url(#g6a1400)" opacity="0.24" transform="rotate(58 454 2786)"/>
<ellipse cx="824" cy="2127" rx="26.0" ry="20.7" fill="url(#ge88050)" opacity="0.70" transform="rotate(39 824 2127)"/>
<ellipse cx="1583" cy="3135" rx="25.8" ry="28.2" fill="url(#ge88050)" opacity="0.44" transform="rotate(6 1583 3135)"/>
<ellipse cx="498" cy="2881" rx="22.0" ry="21.9" fill="url(#ge88050)" opacity="0.73" transform="rotate(42 498 2881)"/>
<ellipse cx="1379" cy="3083" rx="19.8" ry="21.5" fill="url(#ge88050)" opacity="0.46" transform="rotate(-4 1379 3083)"/>
<ellipse cx="489" cy="2256" rx="26.4" ry="31.2" fill="url(#ge88050)" opacity="0.61" transform="rotate(-14 489 2256)"/>
<ellipse cx="993" cy="2286" rx="21.1" ry="27.0" fill="url(#ge88050)" opacity="0.48" transform="rotate(46 993 2286)"/>
<ellipse cx="1467" cy="2535" rx="24.7" ry="26.7" fill="url(#g6a1400)" opacity="0.26" transform="rotate(13 1467 2535)"/>
<ellipse cx="1461" cy="2276" rx="17.9" ry="16.4" fill="url(#g6a1400)" opacity="0.36" transform="rotate(2 1461 2276)"/>
<ellipse cx="1620" cy="2177" rx="21.6" ry="23.0" fill="url(#g6a1400)" opacity="0.34" transform="rotate(11 1620 2177)"/>
<ellipse cx="360" cy="3012" rx="26.5" ry="20.9" fill="url(#ge88050)" opacity="0.72" transform="rotate(38 360 3012)"/>
<ellipse cx="1116" cy="2329" rx="18.1" ry="16.1" fill="url(#ge88050)" opacity="0.77" transform="rotate(15 1116 2329)"/>
<ellipse cx="463" cy="2784" rx="20.6" ry="16.0" fill="url(#ge88050)" opacity="0.49" transform="rotate(-38 463 2784)"/>
<ellipse cx="269" cy="3285" rx="21.3" ry="24.9" fill="url(#ge88050)" opacity="0.53" transform="rotate(-9 269 3285)"/>
<ellipse cx="1583" cy="2208" rx="28.5" ry="33.6" fill="url(#ge88050)" opacity="0.84" transform="rotate(44 1583 2208)"/>
<ellipse cx="1160" cy="2727" rx="23.8" ry="23.7" fill="url(#g6a1400)" opacity="0.44" transform="rotate(54 1160 2727)"/>
<ellipse cx="419" cy="2657" rx="25.4" ry="21.6" fill="url(#g6a1400)" opacity="0.25" transform="rotate(47 419 2657)"/>
<ellipse cx="644" cy="2869" rx="27.6" ry="35.8" fill="url(#g6a1400)" opacity="0.36" transform="rotate(-27 644 2869)"/>
<ellipse cx="739" cy="2249" rx="18.3" ry="14.0" fill="url(#ge88050)" opacity="0.51" transform="rotate(-8 739 2249)"/>
<ellipse cx="680" cy="2101" rx="19.4" ry="17.3" fill="url(#ge88050)" opacity="0.69" transform="rotate(57 680 2101)"/>
<ellipse cx="998" cy="3263" rx="26.9" ry="33.9" fill="url(#g6a1400)" opacity="0.42" transform="rotate(45 998 3263)"/>
<ellipse cx="695" cy="2767" rx="21.0" ry="26.4" fill="url(#g6a1400)" opacity="0.28" transform="rotate(-28 695 2767)"/>
<ellipse cx="706" cy="2957" rx="23.9" ry="20.7" fill="url(#g6a1400)" opacity="0.27" transform="rotate(-45 706 2957)"/>
<ellipse cx="953" cy="3090" rx="22.8" ry="23.1" fill="url(#g6a1400)" opacity="0.36" transform="rotate(-40 953 3090)"/>
<ellipse cx="1182" cy="2465" rx="25.5" ry="24.5" fill="url(#ge88050)" opacity="0.75" transform="rotate(-39 1182 2465)"/>
<ellipse cx="1466" cy="2635" rx="24.9" ry="31.5" fill="url(#g6a1400)" opacity="0.28" transform="rotate(18 1466 2635)"/>
<ellipse cx="1478" cy="2968" rx="23.8" ry="25.7" fill="url(#ge88050)" opacity="0.44" transform="rotate(-40 1478 2968)"/>
<ellipse cx="1505" cy="2471" rx="24.2" ry="24.1" fill="url(#g6a1400)" opacity="0.31" transform="rotate(45 1505 2471)"/>
<ellipse cx="1139" cy="2212" rx="28.3" ry="23.7" fill="url(#ge88050)" opacity="0.49" transform="rotate(49 1139 2212)"/>
<ellipse cx="1640" cy="2190" rx="25.1" ry="22.4" fill="url(#g6a1400)" opacity="0.43" transform="rotate(-44 1640 2190)"/>
<ellipse cx="1506" cy="2859" rx="24.7" ry="20.7" fill="url(#ge88050)" opacity="0.70" transform="rotate(60 1506 2859)"/>
<ellipse cx="251" cy="2356" rx="23.3" ry="23.5" fill="url(#ge88050)" opacity="0.43" transform="rotate(-10 251 2356)"/>
<ellipse cx="1150" cy="2410" rx="18.4" ry="17.5" fill="url(#g6a1400)" opacity="0.32" transform="rotate(20 1150 2410)"/>
<ellipse cx="382" cy="2792" rx="24.2" ry="24.6" fill="url(#ge88050)" opacity="0.65" transform="rotate(56 382 2792)"/>
<ellipse cx="258" cy="2097" rx="19.3" ry="16.5" fill="url(#ge88050)" opacity="0.82" transform="rotate(-39 258 2097)"/>
<ellipse cx="1065" cy="2600" rx="23.7" ry="21.5" fill="url(#g6a1400)" opacity="0.32" transform="rotate(44 1065 2600)"/>
<ellipse cx="246" cy="1910" rx="17.4" ry="20.0" fill="url(#ge88050)" opacity="0.65" transform="rotate(-56 246 1910)"/>
<ellipse cx="751" cy="2329" rx="28.3" ry="36.0" fill="url(#ge88050)" opacity="0.83" transform="rotate(31 751 2329)"/>
<ellipse cx="1231" cy="2236" rx="18.7" ry="15.5" fill="url(#ge88050)" opacity="0.68" transform="rotate(-48 1231 2236)"/>
<ellipse cx="516" cy="2025" rx="21.0" ry="21.1" fill="url(#g6a1400)" opacity="0.41" transform="rotate(46 516 2025)"/>
<ellipse cx="591" cy="3070" rx="20.4" ry="21.8" fill="url(#ge88050)" opacity="0.65" transform="rotate(4 591 3070)"/>
<ellipse cx="595" cy="3033" rx="19.8" ry="23.4" fill="url(#ge88050)" opacity="0.61" transform="rotate(-37 595 3033)"/>
<ellipse cx="1492" cy="2805" rx="20.0" ry="20.6" fill="url(#ge88050)" opacity="0.55" transform="rotate(-20 1492 2805)"/>
<ellipse cx="457" cy="3318" rx="17.5" ry="14.4" fill="url(#ge88050)" opacity="0.66" transform="rotate(-22 457 3318)"/>
<ellipse cx="931" cy="2129" rx="27.0" ry="30.7" fill="url(#ge88050)" opacity="0.47" transform="rotate(-38 931 2129)"/>
<ellipse cx="955" cy="2807" rx="25.6" ry="22.6" fill="url(#g6a1400)" opacity="0.33" transform="rotate(44 955 2807)"/>
<ellipse cx="388" cy="2155" rx="25.6" ry="20.2" fill="url(#g6a1400)" opacity="0.23" transform="rotate(15 388 2155)"/>
<ellipse cx="427" cy="2249" rx="22.3" ry="27.1" fill="url(#ge88050)" opacity="0.43" transform="rotate(36 427 2249)"/>
<ellipse cx="998" cy="2185" rx="20.5" ry="25.8" fill="url(#ge88050)" opacity="0.71" transform="rotate(-25 998 2185)"/>
<ellipse cx="1565" cy="1996" rx="24.1" ry="26.8" fill="url(#ge88050)" opacity="0.57" transform="rotate(-45 1565 1996)"/>
<ellipse cx="705" cy="2894" rx="28.6" ry="31.9" fill="url(#g6a1400)" opacity="0.44" transform="rotate(-8 705 2894)"/>
<ellipse cx="851" cy="2573" rx="23.2" ry="18.8" fill="url(#g6a1400)" opacity="0.33" transform="rotate(17 851 2573)"/>
<ellipse cx="1061" cy="3191" rx="24.5" ry="27.6" fill="url(#g6a1400)" opacity="0.33" transform="rotate(46 1061 3191)"/>
<ellipse cx="1601" cy="3244" rx="18.0" ry="23.3" fill="url(#g6a1400)" opacity="0.37" transform="rotate(-40 1601 3244)"/>
<ellipse cx="1346" cy="2398" rx="20.4" ry="17.3" fill="url(#ge88050)" opacity="0.50" transform="rotate(-45 1346 2398)"/>
<ellipse cx="1402" cy="2668" rx="27.3" ry="35.3" fill="url(#ge88050)" opacity="0.81" transform="rotate(-7 1402 2668)"/>
<ellipse cx="378" cy="2635" rx="27.1" ry="22.2" fill="url(#ge88050)" opacity="0.47" transform="rotate(-28 378 2635)"/>
<ellipse cx="1468" cy="2964" rx="23.7" ry="27.9" fill="url(#g6a1400)" opacity="0.35" transform="rotate(-43 1468 2964)"/>
<ellipse cx="770" cy="3058" rx="22.5" ry="17.4" fill="url(#ge88050)" opacity="0.66" transform="rotate(24 770 3058)"/>
<ellipse cx="529" cy="2490" rx="22.0" ry="25.0" fill="url(#ge88050)" opacity="0.52" transform="rotate(17 529 2490)"/>
<ellipse cx="1342" cy="2002" rx="24.0" ry="27.6" fill="url(#ge88050)" opacity="0.46" transform="rotate(15 1342 2002)"/>
<ellipse cx="1145" cy="3018" rx="24.6" ry="31.8" fill="url(#ge88050)" opacity="0.83" transform="rotate(24 1145 3018)"/>
<ellipse cx="558" cy="2067" rx="21.7" ry="16.6" fill="url(#ge88050)" opacity="0.51" transform="rotate(8 558 2067)"/>
<ellipse cx="1099" cy="2572" rx="25.4" ry="30.1" fill="url(#g6a1400)" opacity="0.25" transform="rotate(36 1099 2572)"/>
<ellipse cx="1046" cy="2850" rx="19.3" ry="18.5" fill="url(#ge88050)" opacity="0.46" transform="rotate(3 1046 2850)"/>
<ellipse cx="628" cy="2493" rx="26.3" ry="34.0" fill="url(#g6a1400)" opacity="0.45" transform="rotate(42 628 2493)"/>
<ellipse cx="956" cy="2782" rx="17.3" ry="19.9" fill="url(#ge88050)" opacity="0.68" transform="rotate(40 956 2782)"/>
<ellipse cx="354" cy="3231" rx="22.1" ry="22.2" fill="url(#g6a1400)" opacity="0.44" transform="rotate(-33 354 3231)"/>
<ellipse cx="811" cy="2647" rx="20.4" ry="23.2" fill="url(#g6a1400)" opacity="0.23" transform="rotate(14 811 2647)"/>
<ellipse cx="944" cy="3276" rx="17.3" ry="18.9" fill="url(#ge88050)" opacity="0.55" transform="rotate(-15 944 3276)"/>
<ellipse cx="1609" cy="2212" rx="22.7" ry="27.8" fill="url(#ge88050)" opacity="0.68" transform="rotate(-47 1609 2212)"/>
<ellipse cx="1118" cy="1963" rx="27.1" ry="31.7" fill="url(#ge88050)" opacity="0.82" transform="rotate(11 1118 1963)"/>
<ellipse cx="533" cy="3318" rx="23.6" ry="29.5" fill="url(#ge88050)" opacity="0.83" transform="rotate(5 533 3318)"/>
<ellipse cx="848" cy="2351" rx="28.6" ry="37.1" fill="url(#g6a1400)" opacity="0.40" transform="rotate(-45 848 2351)"/>
<ellipse cx="518" cy="2239" rx="17.7" ry="21.4" fill="url(#g6a1400)" opacity="0.40" transform="rotate(-50 518 2239)"/>
<ellipse cx="1644" cy="2068" rx="26.7" ry="21.3" fill="url(#g6a1400)" opacity="0.26" transform="rotate(-47 1644 2068)"/>
<ellipse cx="1281" cy="3300" rx="22.8" ry="22.4" fill="url(#ge88050)" opacity="0.84" transform="rotate(47 1281 3300)"/>
<ellipse cx="1216" cy="2539" rx="17.5" ry="21.8" fill="url(#ge88050)" opacity="0.72" transform="rotate(31 1216 2539)"/>
<ellipse cx="605" cy="2530" rx="18.9" ry="15.0" fill="url(#g6a1400)" opacity="0.38" transform="rotate(-4 605 2530)"/>
<ellipse cx="1447" cy="3196" rx="25.9" ry="23.0" fill="url(#g6a1400)" opacity="0.25" transform="rotate(33 1447 3196)"/>
<ellipse cx="235" cy="3195" rx="19.1" ry="23.4" fill="url(#ge88050)" opacity="0.65" transform="rotate(54 235 3195)"/>
<ellipse cx="320" cy="2018" rx="27.2" ry="29.7" fill="url(#ge88050)" opacity="0.46" transform="rotate(-29 320 2018)"/>
<ellipse cx="1323" cy="2294" rx="17.6" ry="21.2" fill="url(#ge88050)" opacity="0.67" transform="rotate(-22 1323 2294)"/>
<ellipse cx="746" cy="2651" rx="22.5" ry="23.6" fill="url(#ge88050)" opacity="0.83" transform="rotate(-28 746 2651)"/>
<ellipse cx="520" cy="2500" rx="22.5" ry="22.5" fill="url(#ge88050)" opacity="0.82" transform="rotate(-19 520 2500)"/>
<ellipse cx="431" cy="2540" rx="28.8" ry="21.6" fill="url(#ge88050)" opacity="0.64" transform="rotate(23 431 2540)"/>
<ellipse cx="1267" cy="2271" rx="17.8" ry="19.6" fill="url(#ge88050)" opacity="0.82" transform="rotate(58 1267 2271)"/>
<ellipse cx="958" cy="2867" rx="24.9" ry="29.2" fill="url(#g6a1400)" opacity="0.39" transform="rotate(18 958 2867)"/>
<ellipse cx="579" cy="3154" rx="24.3" ry="24.9" fill="url(#ge88050)" opacity="0.53" transform="rotate(16 579 3154)"/>
<ellipse cx="1539" cy="2209" rx="21.3" ry="22.9" fill="url(#ge88050)" opacity="0.54" transform="rotate(-0 1539 2209)"/>
<ellipse cx="1324" cy="2104" rx="22.8" ry="18.5" fill="url(#g6a1400)" opacity="0.32" transform="rotate(-51 1324 2104)"/>
<ellipse cx="892" cy="2013" rx="18.9" ry="19.6" fill="url(#g6a1400)" opacity="0.31" transform="rotate(52 892 2013)"/>
<ellipse cx="956" cy="2221" rx="27.0" ry="22.3" fill="url(#ge88050)" opacity="0.74" transform="rotate(-23 956 2221)"/>
<ellipse cx="1472" cy="2531" rx="21.0" ry="26.3" fill="url(#g6a1400)" opacity="0.30" transform="rotate(-48 1472 2531)"/>
<ellipse cx="1530" cy="2272" rx="27.5" ry="33.5" fill="url(#ge88050)" opacity="0.69" transform="rotate(-22 1530 2272)"/>
<ellipse cx="324" cy="2723" rx="20.7" ry="23.1" fill="url(#g6a1400)" opacity="0.29" transform="rotate(-47 324 2723)"/>
<ellipse cx="1048" cy="2928" rx="19.0" ry="17.7" fill="url(#g6a1400)" opacity="0.43" transform="rotate(26 1048 2928)"/>
<ellipse cx="256" cy="2459" rx="21.2" ry="26.2" fill="url(#ge88050)" opacity="0.49" transform="rotate(-0 256 2459)"/>
<ellipse cx="857" cy="2388" rx="17.3" ry="18.9" fill="url(#ge88050)" opacity="0.62" transform="rotate(47 857 2388)"/>
<ellipse cx="1488" cy="3256" rx="28.5" ry="33.1" fill="url(#ge88050)" opacity="0.57" transform="rotate(-38 1488 3256)"/>
<ellipse cx="1376" cy="3018" rx="26.8" ry="22.4" fill="url(#g6a1400)" opacity="0.30" transform="rotate(-33 1376 3018)"/>
<ellipse cx="1075" cy="2512" rx="25.6" ry="19.3" fill="url(#g6a1400)" opacity="0.38" transform="rotate(37 1075 2512)"/>
<ellipse cx="724" cy="2887" rx="19.5" ry="22.9" fill="url(#ge88050)" opacity="0.74" transform="rotate(36 724 2887)"/>
<ellipse cx="1218" cy="2994" rx="27.8" ry="32.5" fill="url(#g6a1400)" opacity="0.24" transform="rotate(49 1218 2994)"/>
<ellipse cx="504" cy="3193" rx="18.1" ry="22.2" fill="url(#ge88050)" opacity="0.80" transform="rotate(26 504 3193)"/>
<ellipse cx="1252" cy="2215" rx="21.1" ry="23.7" fill="url(#ge88050)" opacity="0.79" transform="rotate(15 1252 2215)"/>
<ellipse cx="675" cy="3117" rx="28.6" ry="34.8" fill="url(#ge88050)" opacity="0.64" transform="rotate(-8 675 3117)"/>
<ellipse cx="789" cy="2850" rx="18.1" ry="16.5" fill="url(#ge88050)" opacity="0.56" transform="rotate(-49 789 2850)"/>
<ellipse cx="998" cy="3025" rx="21.5" ry="26.6" fill="url(#g6a1400)" opacity="0.30" transform="rotate(-0 998 3025)"/>
<ellipse cx="683" cy="2138" rx="26.5" ry="28.5" fill="url(#ge88050)" opacity="0.75" transform="rotate(54 683 2138)"/>
<ellipse cx="452" cy="3223" rx="17.9" ry="15.3" fill="url(#ge88050)" opacity="0.83" transform="rotate(59 452 3223)"/>
<ellipse cx="1654" cy="2001" rx="22.0" ry="26.1" fill="url(#ge88050)" opacity="0.81" transform="rotate(56 1654 2001)"/>
<ellipse cx="829" cy="2962" rx="17.8" ry="19.8" fill="url(#g6a1400)" opacity="0.29" transform="rotate(-35 829 2962)"/>
<ellipse cx="254" cy="2543" rx="19.8" ry="20.3" fill="url(#ge88050)" opacity="0.52" transform="rotate(-59 254 2543)"/>
<ellipse cx="736" cy="2771" rx="25.9" ry="26.3" fill="url(#ge88050)" opacity="0.68" transform="rotate(-9 736 2771)"/>
<ellipse cx="1288" cy="2247" rx="18.5" ry="21.0" fill="url(#g6a1400)" opacity="0.35" transform="rotate(-28 1288 2247)"/>
<ellipse cx="348" cy="2394" rx="28.2" ry="34.1" fill="url(#g6a1400)" opacity="0.45" transform="rotate(18 348 2394)"/>
<ellipse cx="1351" cy="3140" rx="23.0" ry="28.6" fill="url(#g6a1400)" opacity="0.45" transform="rotate(-26 1351 3140)"/>
<ellipse cx="1401" cy="3263" rx="25.2" ry="28.3" fill="url(#g6a1400)" opacity="0.24" transform="rotate(-47 1401 3263)"/>
<ellipse cx="1518" cy="3045" rx="27.5" ry="31.8" fill="url(#ge88050)" opacity="0.63" transform="rotate(-27 1518 3045)"/>
<ellipse cx="1484" cy="2752" rx="21.9" ry="25.1" fill="url(#ge88050)" opacity="0.58" transform="rotate(34 1484 2752)"/>
<ellipse cx="1179" cy="2714" rx="18.3" ry="16.4" fill="url(#ge88050)" opacity="0.47" transform="rotate(-42 1179 2714)"/>
<ellipse cx="1321" cy="2743" rx="18.6" ry="21.2" fill="url(#ge88050)" opacity="0.74" transform="rotate(34 1321 2743)"/>
<ellipse cx="901" cy="3177" rx="28.0" ry="30.5" fill="url(#ge88050)" opacity="0.74" transform="rotate(36 901 3177)"/>
<ellipse cx="1228" cy="2965" rx="22.4" ry="19.7" fill="url(#ge88050)" opacity="0.71" transform="rotate(-14 1228 2965)"/>
<ellipse cx="1197" cy="2785" rx="26.4" ry="24.0" fill="url(#g6a1400)" opacity="0.37" transform="rotate(13 1197 2785)"/>
<ellipse cx="468" cy="2313" rx="20.7" ry="19.1" fill="url(#ge88050)" opacity="0.51" transform="rotate(22 468 2313)"/>
<ellipse cx="1588" cy="2728" rx="27.9" ry="27.6" fill="url(#ge88050)" opacity="0.81" transform="rotate(-46 1588 2728)"/>
<ellipse cx="253" cy="2016" rx="24.2" ry="23.6" fill="url(#ge88050)" opacity="0.67" transform="rotate(-55 253 2016)"/>
<ellipse cx="453" cy="2438" rx="19.9" ry="20.5" fill="url(#ge88050)" opacity="0.75" transform="rotate(47 453 2438)"/>
<ellipse cx="1397" cy="1929" rx="18.2" ry="21.8" fill="url(#ge88050)" opacity="0.79" transform="rotate(-1 1397 1929)"/>
<ellipse cx="581" cy="2586" rx="26.6" ry="30.3" fill="url(#ge88050)" opacity="0.79" transform="rotate(-52 581 2586)"/>
<ellipse cx="1103" cy="2468" rx="27.8" ry="28.9" fill="url(#ge88050)" opacity="0.69" transform="rotate(46 1103 2468)"/>
<ellipse cx="762" cy="1915" rx="24.9" ry="25.7" fill="url(#ge88050)" opacity="0.60" transform="rotate(-21 762 1915)"/>
<ellipse cx="1131" cy="3274" rx="25.7" ry="32.7" fill="url(#ge88050)" opacity="0.49" transform="rotate(-24 1131 3274)"/>
<ellipse cx="1431" cy="2052" rx="26.1" ry="33.8" fill="url(#ge88050)" opacity="0.51" transform="rotate(34 1431 2052)"/>
<ellipse cx="1431" cy="2179" rx="17.1" ry="17.3" fill="url(#g6a1400)" opacity="0.34" transform="rotate(51 1431 2179)"/>
<ellipse cx="273" cy="2566" rx="22.3" ry="24.7" fill="url(#ge88050)" opacity="0.79" transform="rotate(-15 273 2566)"/>
<ellipse cx="1369" cy="2263" rx="23.5" ry="18.2" fill="url(#ge88050)" opacity="0.69" transform="rotate(0 1369 2263)"/>
<ellipse cx="776" cy="3223" rx="23.1" ry="19.4" fill="url(#ge88050)" opacity="0.66" transform="rotate(31 776 3223)"/>
<ellipse cx="1267" cy="2476" rx="23.3" ry="18.1" fill="url(#ge88050)" opacity="0.64" transform="rotate(-23 1267 2476)"/>
<ellipse cx="913" cy="2208" rx="21.3" ry="16.1" fill="url(#g6a1400)" opacity="0.30" transform="rotate(54 913 2208)"/>
<ellipse cx="1649" cy="2939" rx="23.1" ry="21.2" fill="url(#g6a1400)" opacity="0.40" transform="rotate(24 1649 2939)"/>
<ellipse cx="865" cy="3141" rx="19.6" ry="23.2" fill="url(#ge88050)" opacity="0.50" transform="rotate(58 865 3141)"/>
<ellipse cx="1195" cy="2861" rx="18.7" ry="14.2" fill="url(#g6a1400)" opacity="0.43" transform="rotate(51 1195 2861)"/>
<ellipse cx="305" cy="2961" rx="22.3" ry="21.3" fill="url(#g6a1400)" opacity="0.31" transform="rotate(-24 305 2961)"/>
<ellipse cx="455" cy="1955" rx="17.6" ry="17.3" fill="url(#ge88050)" opacity="0.83" transform="rotate(27 455 1955)"/>
<ellipse cx="1497" cy="3170" rx="23.5" ry="24.3" fill="url(#ge88050)" opacity="0.50" transform="rotate(23 1497 3170)"/>
<ellipse cx="1007" cy="2553" rx="22.9" ry="23.4" fill="url(#ge88050)" opacity="0.56" transform="rotate(1 1007 2553)"/>
<ellipse cx="436" cy="3315" rx="26.0" ry="23.5" fill="url(#g6a1400)" opacity="0.30" transform="rotate(39 436 3315)"/>
<ellipse cx="626" cy="2186" rx="17.2" ry="15.3" fill="url(#g6a1400)" opacity="0.37" transform="rotate(49 626 2186)"/>
<ellipse cx="1626" cy="1983" rx="23.6" ry="30.3" fill="url(#ge88050)" opacity="0.82" transform="rotate(-28 1626 1983)"/>
<ellipse cx="1096" cy="3228" rx="18.0" ry="21.7" fill="url(#g6a1400)" opacity="0.30" transform="rotate(10 1096 3228)"/>
<ellipse cx="255" cy="2803" rx="21.1" ry="17.6" fill="url(#ge88050)" opacity="0.68" transform="rotate(-41 255 2803)"/>
<ellipse cx="1339" cy="2040" rx="19.3" ry="23.2" fill="url(#ge88050)" opacity="0.50" transform="rotate(-31 1339 2040)"/>
<ellipse cx="1398" cy="2731" rx="18.1" ry="16.9" fill="url(#ge88050)" opacity="0.48" transform="rotate(20 1398 2731)"/>
<ellipse cx="789" cy="1940" rx="17.7" ry="14.4" fill="url(#g6a1400)" opacity="0.43" transform="rotate(-24 789 1940)"/>
<ellipse cx="786" cy="2953" rx="26.9" ry="34.6" fill="url(#g6a1400)" opacity="0.43" transform="rotate(-33 786 2953)"/>
<ellipse cx="1295" cy="1970" rx="27.0" ry="31.7" fill="url(#ge88050)" opacity="0.46" transform="rotate(12 1295 1970)"/>
<ellipse cx="225" cy="2690" rx="24.2" ry="19.5" fill="url(#ge88050)" opacity="0.48" transform="rotate(40 225 2690)"/>
<ellipse cx="1063" cy="2282" rx="19.6" ry="17.0" fill="url(#ge88050)" opacity="0.53" transform="rotate(35 1063 2282)"/>
<ellipse cx="415" cy="2849" rx="25.1" ry="24.8" fill="url(#ge88050)" opacity="0.82" transform="rotate(-41 415 2849)"/>
<ellipse cx="1087" cy="1995" rx="24.6" ry="29.8" fill="url(#g6a1400)" opacity="0.26" transform="rotate(-36 1087 1995)"/>
<ellipse cx="851" cy="2527" rx="28.6" ry="29.0" fill="url(#g6a1400)" opacity="0.29" transform="rotate(29 851 2527)"/>
<ellipse cx="881" cy="2560" rx="21.0" ry="18.0" fill="url(#g6a1400)" opacity="0.43" transform="rotate(-40 881 2560)"/>
<ellipse cx="447" cy="3311" rx="21.1" ry="24.6" fill="url(#ge88050)" opacity="0.61" transform="rotate(-4 447 3311)"/>
<ellipse cx="262" cy="2644" rx="20.0" ry="25.2" fill="url(#ge88050)" opacity="0.78" transform="rotate(16 262 2644)"/>
<ellipse cx="1059" cy="2805" rx="25.8" ry="29.8" fill="url(#g6a1400)" opacity="0.39" transform="rotate(-34 1059 2805)"/>
<ellipse cx="1314" cy="2958" rx="19.8" ry="25.5" fill="url(#g6a1400)" opacity="0.29" transform="rotate(27 1314 2958)"/>
<ellipse cx="659" cy="3152" rx="29.0" ry="32.9" fill="url(#ge88050)" opacity="0.66" transform="rotate(-42 659 3152)"/>
<ellipse cx="227" cy="2386" rx="23.8" ry="30.0" fill="url(#g6a1400)" opacity="0.27" transform="rotate(23 227 2386)"/>
<ellipse cx="1477" cy="2218" rx="20.0" ry="22.3" fill="url(#ge88050)" opacity="0.72" transform="rotate(-31 1477 2218)"/>
<ellipse cx="307" cy="2811" rx="18.2" ry="18.8" fill="url(#ge88050)" opacity="0.51" transform="rotate(48 307 2811)"/>
<ellipse cx="1506" cy="3203" rx="22.7" ry="26.2" fill="url(#ge88050)" opacity="0.52" transform="rotate(-31 1506 3203)"/>
<ellipse cx="1079" cy="3015" rx="18.7" ry="15.5" fill="url(#ge88050)" opacity="0.57" transform="rotate(-24 1079 3015)"/>
<ellipse cx="1300" cy="2424" rx="25.9" ry="28.8" fill="url(#ge88050)" opacity="0.84" transform="rotate(50 1300 2424)"/>
<ellipse cx="755" cy="2680" rx="19.4" ry="16.7" fill="url(#g6a1400)" opacity="0.43" transform="rotate(-18 755 2680)"/>
<ellipse cx="876" cy="2406" rx="20.9" ry="22.2" fill="url(#g6a1400)" opacity="0.38" transform="rotate(-5 876 2406)"/>
<ellipse cx="736" cy="2706" rx="22.6" ry="28.8" fill="url(#g6a1400)" opacity="0.29" transform="rotate(-38 736 2706)"/>
<ellipse cx="783" cy="1967" rx="20.0" ry="18.5" fill="url(#ge88050)" opacity="0.48" transform="rotate(-28 783 1967)"/>
<ellipse cx="657" cy="2675" rx="23.4" ry="25.1" fill="url(#ge88050)" opacity="0.75" transform="rotate(-39 657 2675)"/>
<ellipse cx="1649" cy="2147" rx="18.0" ry="22.2" fill="url(#ge88050)" opacity="0.83" transform="rotate(60 1649 2147)"/>
<ellipse cx="1075" cy="3181" rx="17.5" ry="13.3" fill="url(#ge88050)" opacity="0.47" transform="rotate(41 1075 3181)"/>
<ellipse cx="1335" cy="1912" rx="19.3" ry="22.4" fill="url(#ge88050)" opacity="0.68" transform="rotate(29 1335 1912)"/>
<ellipse cx="1076" cy="2276" rx="21.2" ry="23.2" fill="url(#g6a1400)" opacity="0.43" transform="rotate(-32 1076 2276)"/>
<ellipse cx="1123" cy="2143" rx="20.4" ry="21.9" fill="url(#ge88050)" opacity="0.43" transform="rotate(-6 1123 2143)"/>
<ellipse cx="779" cy="2438" rx="18.4" ry="23.7" fill="url(#g6a1400)" opacity="0.28" transform="rotate(33 779 2438)"/>
<ellipse cx="1203" cy="2923" rx="20.0" ry="21.5" fill="url(#ge88050)" opacity="0.66" transform="rotate(27 1203 2923)"/>
<ellipse cx="581" cy="2283" rx="20.9" ry="21.4" fill="url(#ge88050)" opacity="0.45" transform="rotate(-10 581 2283)"/>
<ellipse cx="1651" cy="2413" rx="27.6" ry="34.3" fill="url(#ge88050)" opacity="0.52" transform="rotate(-40 1651 2413)"/>
<ellipse cx="218" cy="2222" rx="24.4" ry="27.7" fill="url(#ge88050)" opacity="0.70" transform="rotate(-39 218 2222)"/>
<ellipse cx="1262" cy="2875" rx="26.1" ry="20.8" fill="url(#g6a1400)" opacity="0.33" transform="rotate(-44 1262 2875)"/>
<ellipse cx="1240" cy="2935" rx="26.3" ry="30.0" fill="url(#g6a1400)" opacity="0.38" transform="rotate(-9 1240 2935)"/>
<ellipse cx="913" cy="3072" rx="21.1" ry="19.8" fill="url(#g6a1400)" opacity="0.27" transform="rotate(11 913 3072)"/>
<ellipse cx="635" cy="2055" rx="24.8" ry="25.1" fill="url(#ge88050)" opacity="0.58" transform="rotate(-3 635 2055)"/>
<ellipse cx="1055" cy="2134" rx="22.7" ry="18.9" fill="url(#ge88050)" opacity="0.60" transform="rotate(1 1055 2134)"/>
<ellipse cx="671" cy="3038" rx="19.8" ry="20.6" fill="url(#ge88050)" opacity="0.60" transform="rotate(56 671 3038)"/>
<ellipse cx="1203" cy="2611" rx="26.4" ry="32.7" fill="url(#ge88050)" opacity="0.63" transform="rotate(-32 1203 2611)"/>
<ellipse cx="877" cy="2808" rx="19.3" ry="17.5" fill="url(#ge88050)" opacity="0.56" transform="rotate(-31 877 2808)"/>
<ellipse cx="647" cy="3244" rx="24.4" ry="22.6" fill="url(#ge88050)" opacity="0.68" transform="rotate(-48 647 3244)"/>
<ellipse cx="1041" cy="1974" rx="24.3" ry="28.8" fill="url(#ge88050)" opacity="0.58" transform="rotate(8 1041 1974)"/>
<ellipse cx="764" cy="2277" rx="26.2" ry="30.3" fill="url(#ge88050)" opacity="0.55" transform="rotate(5 764 2277)"/>
<ellipse cx="1624" cy="1965" rx="23.8" ry="21.9" fill="url(#g6a1400)" opacity="0.36" transform="rotate(36 1624 1965)"/>
<ellipse cx="1260" cy="2200" rx="28.9" ry="28.8" fill="url(#ge88050)" opacity="0.57" transform="rotate(45 1260 2200)"/>
<ellipse cx="1225" cy="2152" rx="17.1" ry="15.9" fill="url(#g6a1400)" opacity="0.27" transform="rotate(24 1225 2152)"/>
<ellipse cx="1074" cy="3135" rx="26.2" ry="28.8" fill="url(#ge88050)" opacity="0.54" transform="rotate(-1 1074 3135)"/>
<ellipse cx="1031" cy="2337" rx="25.4" ry="22.5" fill="url(#ge88050)" opacity="0.72" transform="rotate(15 1031 2337)"/>
<ellipse cx="1496" cy="3166" rx="22.0" ry="27.8" fill="url(#ge88050)" opacity="0.55" transform="rotate(-43 1496 3166)"/>
<ellipse cx="778" cy="1988" rx="21.3" ry="23.0" fill="url(#ge88050)" opacity="0.82" transform="rotate(30 778 1988)"/>
<ellipse cx="1192" cy="2954" rx="27.1" ry="25.6" fill="url(#ge88050)" opacity="0.55" transform="rotate(32 1192 2954)"/>
<ellipse cx="1184" cy="2905" rx="17.6" ry="20.1" fill="url(#ge88050)" opacity="0.83" transform="rotate(55 1184 2905)"/>
<ellipse cx="831" cy="3222" rx="21.7" ry="21.7" fill="url(#ge88050)" opacity="0.52" transform="rotate(19 831 3222)"/>
<ellipse cx="1166" cy="2387" rx="17.3" ry="15.7" fill="url(#g6a1400)" opacity="0.26" transform="rotate(48 1166 2387)"/>
<ellipse cx="952" cy="2756" rx="19.1" ry="22.9" fill="url(#ge88050)" opacity="0.76" transform="rotate(57 952 2756)"/>
<ellipse cx="800" cy="2260" rx="25.1" ry="30.9" fill="url(#ge88050)" opacity="0.85" transform="rotate(28 800 2260)"/>
<ellipse cx="1526" cy="2883" rx="19.6" ry="16.5" fill="url(#g6a1400)" opacity="0.35" transform="rotate(-46 1526 2883)"/>
<ellipse cx="1647" cy="2155" rx="21.3" ry="19.3" fill="url(#g6a1400)" opacity="0.39" transform="rotate(42 1647 2155)"/>
<ellipse cx="932" cy="2290" rx="21.8" ry="17.7" fill="url(#ge88050)" opacity="0.65" transform="rotate(25 932 2290)"/>
<ellipse cx="1477" cy="2096" rx="24.5" ry="19.9" fill="url(#ge88050)" opacity="0.64" transform="rotate(-29 1477 2096)"/>
<ellipse cx="1479" cy="2227" rx="21.3" ry="20.4" fill="url(#ge88050)" opacity="0.57" transform="rotate(-24 1479 2227)"/>
<ellipse cx="794" cy="3017" rx="17.9" ry="19.9" fill="url(#ge88050)" opacity="0.61" transform="rotate(-1 794 3017)"/>
<ellipse cx="462" cy="2092" rx="25.6" ry="23.8" fill="url(#ge88050)" opacity="0.69" transform="rotate(-30 462 2092)"/>
<ellipse cx="1226" cy="2766" rx="17.3" ry="17.2" fill="url(#ge88050)" opacity="0.74" transform="rotate(-10 1226 2766)"/>
<ellipse cx="798" cy="3099" rx="22.9" ry="20.2" fill="url(#ge88050)" opacity="0.57" transform="rotate(44 798 3099)"/>
<ellipse cx="740" cy="2065" rx="24.7" ry="22.6" fill="url(#g6a1400)" opacity="0.23" transform="rotate(53 740 2065)"/>
<ellipse cx="498" cy="2850" rx="25.5" ry="22.3" fill="url(#g6a1400)" opacity="0.44" transform="rotate(-20 498 2850)"/>
<ellipse cx="742" cy="2900" rx="28.6" ry="31.8" fill="url(#g6a1400)" opacity="0.36" transform="rotate(-10 742 2900)"/>
<ellipse cx="1192" cy="3183" rx="17.6" ry="14.3" fill="url(#ge88050)" opacity="0.84" transform="rotate(-52 1192 3183)"/>
<ellipse cx="1252" cy="2422" rx="24.2" ry="24.0" fill="url(#ge88050)" opacity="0.82" transform="rotate(-2 1252 2422)"/>
<ellipse cx="1297" cy="1992" rx="24.3" ry="30.8" fill="url(#ge88050)" opacity="0.45" transform="rotate(-14 1297 1992)"/>
<ellipse cx="994" cy="2434" rx="23.6" ry="26.6" fill="url(#ge88050)" opacity="0.68" transform="rotate(-8 994 2434)"/>
<ellipse cx="1041" cy="2638" rx="19.5" ry="17.6" fill="url(#g6a1400)" opacity="0.25" transform="rotate(21 1041 2638)"/>
<ellipse cx="289" cy="2546" rx="28.3" ry="34.9" fill="url(#ge88050)" opacity="0.46" transform="rotate(-33 289 2546)"/>
<ellipse cx="1381" cy="2006" rx="28.3" ry="26.8" fill="url(#ge88050)" opacity="0.47" transform="rotate(-23 1381 2006)"/>
<ellipse cx="732" cy="2208" rx="17.4" ry="17.5" fill="url(#g6a1400)" opacity="0.35" transform="rotate(40 732 2208)"/>
<ellipse cx="391" cy="2554" rx="20.1" ry="20.1" fill="url(#ge88050)" opacity="0.65" transform="rotate(46 391 2554)"/>
<ellipse cx="893" cy="2532" rx="17.8" ry="22.4" fill="url(#ge88050)" opacity="0.79" transform="rotate(47 893 2532)"/>
<ellipse cx="873" cy="3120" rx="20.7" ry="16.2" fill="url(#ge88050)" opacity="0.44" transform="rotate(58 873 3120)"/>
<ellipse cx="534" cy="2380" rx="27.0" ry="34.6" fill="url(#ge88050)" opacity="0.47" transform="rotate(-27 534 2380)"/>
<ellipse cx="1643" cy="2579" rx="18.6" ry="17.1" fill="url(#ge88050)" opacity="0.65" transform="rotate(2 1643 2579)"/>
<ellipse cx="1335" cy="2540" rx="27.1" ry="30.5" fill="url(#ge88050)" opacity="0.56" transform="rotate(13 1335 2540)"/>
<ellipse cx="617" cy="3142" rx="27.5" ry="31.2" fill="url(#ge88050)" opacity="0.43" transform="rotate(22 617 3142)"/>
<ellipse cx="327" cy="2539" rx="20.5" ry="26.5" fill="url(#ge88050)" opacity="0.56" transform="rotate(-48 327 2539)"/>
<ellipse cx="479" cy="3056" rx="26.9" ry="27.2" fill="url(#ge88050)" opacity="0.68" transform="rotate(-2 479 3056)"/>
<ellipse cx="1297" cy="3160" rx="26.8" ry="32.0" fill="url(#g6a1400)" opacity="0.24" transform="rotate(-37 1297 3160)"/>
<ellipse cx="557" cy="2679" rx="25.5" ry="28.1" fill="url(#g6a1400)" opacity="0.32" transform="rotate(14 557 2679)"/>
<ellipse cx="277" cy="2311" rx="23.9" ry="27.4" fill="url(#ge88050)" opacity="0.79" transform="rotate(-11 277 2311)"/>
<ellipse cx="1107" cy="2585" rx="21.9" ry="17.6" fill="url(#g6a1400)" opacity="0.34" transform="rotate(-15 1107 2585)"/>
<ellipse cx="884" cy="2838" rx="19.7" ry="19.6" fill="url(#ge88050)" opacity="0.64" transform="rotate(-31 884 2838)"/>
<ellipse cx="1368" cy="2980" rx="21.4" ry="27.6" fill="url(#ge88050)" opacity="0.49" transform="rotate(8 1368 2980)"/>
<ellipse cx="237" cy="2410" rx="24.4" ry="21.9" fill="url(#ge88050)" opacity="0.48" transform="rotate(-44 237 2410)"/>
<ellipse cx="532" cy="2613" rx="25.7" ry="24.0" fill="url(#ge88050)" opacity="0.48" transform="rotate(23 532 2613)"/>
<ellipse cx="1366" cy="2823" rx="24.9" ry="28.8" fill="url(#ge88050)" opacity="0.49" transform="rotate(1 1366 2823)"/>
<ellipse cx="998" cy="2836" rx="17.4" ry="20.1" fill="url(#ge88050)" opacity="0.80" transform="rotate(50 998 2836)"/>
<ellipse cx="924" cy="2971" rx="17.3" ry="18.1" fill="url(#g6a1400)" opacity="0.43" transform="rotate(30 924 2971)"/>
<ellipse cx="803" cy="1978" rx="25.9" ry="33.5" fill="url(#g6a1400)" opacity="0.23" transform="rotate(53 803 1978)"/>
<ellipse cx="1203" cy="3210" rx="20.6" ry="22.5" fill="url(#ge88050)" opacity="0.82" transform="rotate(11 1203 3210)"/>
<ellipse cx="349" cy="2152" rx="26.0" ry="30.4" fill="url(#g6a1400)" opacity="0.27" transform="rotate(-2 349 2152)"/>
<ellipse cx="574" cy="1967" rx="27.0" ry="24.8" fill="url(#ge88050)" opacity="0.66" transform="rotate(13 574 1967)"/>
<ellipse cx="608" cy="2081" rx="26.6" ry="26.5" fill="url(#ge88050)" opacity="0.45" transform="rotate(-18 608 2081)"/>
<ellipse cx="1294" cy="2387" rx="20.9" ry="18.7" fill="url(#g6a1400)" opacity="0.38" transform="rotate(-55 1294 2387)"/>
<ellipse cx="1379" cy="2576" rx="27.3" ry="26.6" fill="url(#g6a1400)" opacity="0.29" transform="rotate(4 1379 2576)"/>
<ellipse cx="896" cy="2409" rx="17.7" ry="22.6" fill="url(#g6a1400)" opacity="0.23" transform="rotate(42 896 2409)"/>
<ellipse cx="1528" cy="2091" rx="27.9" ry="26.6" fill="url(#g6a1400)" opacity="0.23" transform="rotate(-58 1528 2091)"/>
<ellipse cx="1408" cy="2099" rx="26.9" ry="20.9" fill="url(#g6a1400)" opacity="0.36" transform="rotate(-45 1408 2099)"/>
<ellipse cx="1260" cy="2087" rx="23.8" ry="28.9" fill="url(#g6a1400)" opacity="0.38" transform="rotate(37 1260 2087)"/>
<ellipse cx="1398" cy="2628" rx="22.7" ry="24.6" fill="url(#ge88050)" opacity="0.54" transform="rotate(38 1398 2628)"/>
<ellipse cx="1420" cy="2243" rx="18.4" ry="21.9" fill="url(#ge88050)" opacity="0.44" transform="rotate(58 1420 2243)"/>
<ellipse cx="951" cy="2717" rx="24.8" ry="27.0" fill="url(#ge88050)" opacity="0.58" transform="rotate(-2 951 2717)"/>
<ellipse cx="901" cy="3302" rx="23.0" ry="25.4" fill="url(#ge88050)" opacity="0.71" transform="rotate(19 901 3302)"/>
<ellipse cx="374" cy="2226" rx="19.4" ry="19.2" fill="url(#g6a1400)" opacity="0.25" transform="rotate(-24 374 2226)"/>
<ellipse cx="300" cy="2957" rx="17.8" ry="13.8" fill="url(#ge88050)" opacity="0.64" transform="rotate(-29 300 2957)"/>
<ellipse cx="1068" cy="2967" rx="28.1" ry="25.1" fill="url(#ge88050)" opacity="0.50" transform="rotate(-6 1068 2967)"/>
<ellipse cx="1025" cy="3109" rx="19.7" ry="16.5" fill="url(#ge88050)" opacity="0.85" transform="rotate(-50 1025 3109)"/>
<ellipse cx="1139" cy="2074" rx="28.6" ry="24.9" fill="url(#ge88050)" opacity="0.84" transform="rotate(-6 1139 2074)"/>
<ellipse cx="1478" cy="2397" rx="28.5" ry="30.7" fill="url(#ge88050)" opacity="0.69" transform="rotate(38 1478 2397)"/>
<ellipse cx="1264" cy="3311" rx="27.2" ry="29.3" fill="url(#g6a1400)" opacity="0.25" transform="rotate(-50 1264 3311)"/>
<ellipse cx="1566" cy="3252" rx="27.4" ry="22.1" fill="url(#ge88050)" opacity="0.76" transform="rotate(12 1566 3252)"/>
<ellipse cx="1462" cy="2090" rx="19.4" ry="14.6" fill="url(#ge88050)" opacity="0.68" transform="rotate(58 1462 2090)"/>
<ellipse cx="1474" cy="2175" rx="20.9" ry="23.2" fill="url(#g6a1400)" opacity="0.32" transform="rotate(-19 1474 2175)"/>
<ellipse cx="1058" cy="2684" rx="21.5" ry="27.7" fill="url(#ge88050)" opacity="0.66" transform="rotate(39 1058 2684)"/>
<ellipse cx="1090" cy="2237" rx="18.9" ry="18.6" fill="url(#g6a1400)" opacity="0.35" transform="rotate(11 1090 2237)"/>
<ellipse cx="936" cy="2561" rx="17.5" ry="16.1" fill="url(#ge88050)" opacity="0.46" transform="rotate(32 936 2561)"/>
<ellipse cx="1501" cy="3148" rx="27.2" ry="31.7" fill="url(#ge88050)" opacity="0.58" transform="rotate(-21 1501 3148)"/>
<ellipse cx="819" cy="1985" rx="19.3" ry="21.8" fill="url(#ge88050)" opacity="0.50" transform="rotate(42 819 1985)"/>
<ellipse cx="565" cy="3075" rx="22.7" ry="20.7" fill="url(#g6a1400)" opacity="0.35" transform="rotate(14 565 3075)"/>
<ellipse cx="1073" cy="3035" rx="23.6" ry="26.0" fill="url(#g6a1400)" opacity="0.43" transform="rotate(-9 1073 3035)"/>
<ellipse cx="1027" cy="2775" rx="27.6" ry="22.5" fill="url(#ge88050)" opacity="0.67" transform="rotate(-18 1027 2775)"/>
<ellipse cx="1341" cy="2741" rx="23.7" ry="28.0" fill="url(#ge88050)" opacity="0.75" transform="rotate(-17 1341 2741)"/>
<ellipse cx="892" cy="2976" rx="17.2" ry="18.7" fill="url(#g6a1400)" opacity="0.25" transform="rotate(27 892 2976)"/>
<ellipse cx="965" cy="2806" rx="25.5" ry="32.5" fill="url(#ge88050)" opacity="0.71" transform="rotate(-47 965 2806)"/>
<ellipse cx="275" cy="2530" rx="17.6" ry="19.3" fill="url(#ge88050)" opacity="0.49" transform="rotate(16 275 2530)"/>
<ellipse cx="707" cy="2347" rx="22.9" ry="24.6" fill="url(#ge88050)" opacity="0.45" transform="rotate(-21 707 2347)"/>
<ellipse cx="1453" cy="2178" rx="28.3" ry="27.9" fill="url(#ge88050)" opacity="0.46" transform="rotate(-40 1453 2178)"/>
<ellipse cx="570" cy="2742" rx="21.4" ry="17.0" fill="url(#ge88050)" opacity="0.83" transform="rotate(18 570 2742)"/>
<ellipse cx="493" cy="2146" rx="20.4" ry="24.4" fill="url(#g6a1400)" opacity="0.28" transform="rotate(45 493 2146)"/>
<ellipse cx="793" cy="2671" rx="23.3" ry="29.5" fill="url(#ge88050)" opacity="0.49" transform="rotate(33 793 2671)"/>
<ellipse cx="1658" cy="3308" rx="26.9" ry="31.2" fill="url(#g6a1400)" opacity="0.39" transform="rotate(30 1658 3308)"/>
<ellipse cx="1056" cy="2676" rx="24.3" ry="19.0" fill="url(#ge88050)" opacity="0.79" transform="rotate(14 1056 2676)"/>
<ellipse cx="370" cy="2304" rx="26.0" ry="21.7" fill="url(#ge88050)" opacity="0.82" transform="rotate(-37 370 2304)"/>
<ellipse cx="1629" cy="2031" rx="17.2" ry="14.5" fill="url(#ge88050)" opacity="0.78" transform="rotate(35 1629 2031)"/>
<ellipse cx="950" cy="2513" rx="27.0" ry="25.7" fill="url(#ge88050)" opacity="0.47" transform="rotate(39 950 2513)"/>
<ellipse cx="254" cy="2592" rx="21.0" ry="27.1" fill="url(#ge88050)" opacity="0.74" transform="rotate(-54 254 2592)"/>
<ellipse cx="670" cy="2868" rx="21.6" ry="18.8" fill="url(#ge88050)" opacity="0.71" transform="rotate(-51 670 2868)"/>
<ellipse cx="1019" cy="2385" rx="18.2" ry="15.4" fill="url(#ge88050)" opacity="0.68" transform="rotate(44 1019 2385)"/>
<ellipse cx="461" cy="2251" rx="17.8" ry="23.0" fill="url(#ge88050)" opacity="0.49" transform="rotate(-28 461 2251)"/>
<ellipse cx="850" cy="3281" rx="21.6" ry="16.2" fill="url(#ge88050)" opacity="0.57" transform="rotate(-11 850 3281)"/>
<ellipse cx="270" cy="2868" rx="22.2" ry="27.6" fill="url(#ge88050)" opacity="0.75" transform="rotate(57 270 2868)"/>
<ellipse cx="1287" cy="2017" rx="24.2" ry="28.4" fill="url(#ge88050)" opacity="0.74" transform="rotate(34 1287 2017)"/>
<ellipse cx="1379" cy="3072" rx="19.8" ry="25.5" fill="url(#ge88050)" opacity="0.55" transform="rotate(46 1379 3072)"/>
<ellipse cx="341" cy="2651" rx="18.7" ry="18.6" fill="url(#ge88050)" opacity="0.56" transform="rotate(-17 341 2651)"/>
<ellipse cx="375" cy="1912" rx="27.8" ry="26.7" fill="url(#ge88050)" opacity="0.45" transform="rotate(17 375 1912)"/>
<ellipse cx="989" cy="2809" rx="28.1" ry="25.2" fill="url(#g6a1400)" opacity="0.31" transform="rotate(45 989 2809)"/>
<ellipse cx="1044" cy="2034" rx="25.0" ry="29.7" fill="url(#ge88050)" opacity="0.57" transform="rotate(40 1044 2034)"/>
<ellipse cx="417" cy="2511" rx="24.5" ry="18.9" fill="url(#g6a1400)" opacity="0.36" transform="rotate(-21 417 2511)"/>
<ellipse cx="1544" cy="2073" rx="23.1" ry="20.4" fill="url(#g6a1400)" opacity="0.37" transform="rotate(17 1544 2073)"/>
<ellipse cx="1602" cy="2984" rx="19.5" ry="23.5" fill="url(#ge88050)" opacity="0.81" transform="rotate(21 1602 2984)"/>
<ellipse cx="403" cy="2992" rx="27.3" ry="20.5" fill="url(#ge88050)" opacity="0.61" transform="rotate(10 403 2992)"/>
<ellipse cx="685" cy="2042" rx="23.3" ry="28.6" fill="url(#ge88050)" opacity="0.67" transform="rotate(34 685 2042)"/>
<ellipse cx="721" cy="3168" rx="26.7" ry="25.7" fill="url(#ge88050)" opacity="0.61" transform="rotate(-28 721 3168)"/>
<ellipse cx="458" cy="3000" rx="23.1" ry="23.8" fill="url(#ge88050)" opacity="0.51" transform="rotate(-49 458 3000)"/>
<ellipse cx="449" cy="2074" rx="20.9" ry="22.0" fill="url(#ge88050)" opacity="0.64" transform="rotate(1 449 2074)"/>
<ellipse cx="296" cy="2486" rx="24.9" ry="19.0" fill="url(#g6a1400)" opacity="0.44" transform="rotate(20 296 2486)"/>
<ellipse cx="1617" cy="2357" rx="20.7" ry="16.4" fill="url(#ge88050)" opacity="0.63" transform="rotate(-53 1617 2357)"/>
<ellipse cx="275" cy="2934" rx="27.1" ry="29.8" fill="url(#ge88050)" opacity="0.44" transform="rotate(-12 275 2934)"/>
<ellipse cx="584" cy="3302" rx="27.2" ry="22.9" fill="url(#ge88050)" opacity="0.50" transform="rotate(43 584 3302)"/>
<ellipse cx="754" cy="2160" rx="26.8" ry="31.7" fill="url(#ge88050)" opacity="0.70" transform="rotate(33 754 2160)"/>
<ellipse cx="1552" cy="3046" rx="25.0" ry="32.5" fill="url(#ge88050)" opacity="0.64" transform="rotate(-59 1552 3046)"/>
<ellipse cx="1300" cy="2100" rx="22.4" ry="23.4" fill="url(#g6a1400)" opacity="0.33" transform="rotate(14 1300 2100)"/>
<ellipse cx="1608" cy="2168" rx="27.3" ry="29.2" fill="url(#g6a1400)" opacity="0.41" transform="rotate(33 1608 2168)"/>
<ellipse cx="1470" cy="2495" rx="19.4" ry="19.1" fill="url(#ge88050)" opacity="0.72" transform="rotate(-2 1470 2495)"/>
<ellipse cx="1573" cy="1973" rx="18.6" ry="16.4" fill="url(#ge88050)" opacity="0.43" transform="rotate(-16 1573 1973)"/>
<ellipse cx="486" cy="2203" rx="23.6" ry="21.6" fill="url(#ge88050)" opacity="0.73" transform="rotate(41 486 2203)"/>
<ellipse cx="739" cy="3030" rx="19.7" ry="24.8" fill="url(#ge88050)" opacity="0.81" transform="rotate(-36 739 3030)"/>
<ellipse cx="1202" cy="2994" rx="22.3" ry="28.0" fill="url(#g6a1400)" opacity="0.41" transform="rotate(49 1202 2994)"/>
<ellipse cx="1565" cy="2126" rx="27.0" ry="22.5" fill="url(#ge88050)" opacity="0.59" transform="rotate(19 1565 2126)"/>
<ellipse cx="607" cy="2084" rx="23.3" ry="28.7" fill="url(#ge88050)" opacity="0.77" transform="rotate(-17 607 2084)"/>
<ellipse cx="591" cy="2055" rx="17.6" ry="20.0" fill="url(#g6a1400)" opacity="0.35" transform="rotate(55 591 2055)"/>
<ellipse cx="1240" cy="2970" rx="28.9" ry="31.8" fill="url(#g6a1400)" opacity="0.38" transform="rotate(-42 1240 2970)"/>
<ellipse cx="789" cy="3175" rx="27.7" ry="26.8" fill="url(#ge88050)" opacity="0.83" transform="rotate(-10 789 3175)"/>
<ellipse cx="1235" cy="2834" rx="19.6" ry="22.7" fill="url(#g6a1400)" opacity="0.33" transform="rotate(54 1235 2834)"/>
<ellipse cx="339" cy="2820" rx="17.6" ry="17.4" fill="url(#g6a1400)" opacity="0.39" transform="rotate(-10 339 2820)"/>
<ellipse cx="392" cy="2677" rx="24.8" ry="21.9" fill="url(#ge88050)" opacity="0.74" transform="rotate(10 392 2677)"/>
<ellipse cx="1070" cy="3204" rx="27.9" ry="25.5" fill="url(#ge88050)" opacity="0.71" transform="rotate(-53 1070 3204)"/>
<ellipse cx="1287" cy="2358" rx="21.9" ry="26.1" fill="url(#ge88050)" opacity="0.47" transform="rotate(12 1287 2358)"/>
<ellipse cx="1245" cy="2330" rx="28.2" ry="34.2" fill="url(#ge88050)" opacity="0.44" transform="rotate(-7 1245 2330)"/>
<ellipse cx="993" cy="2923" rx="18.1" ry="17.8" fill="url(#ge88050)" opacity="0.68" transform="rotate(-15 993 2923)"/>
<ellipse cx="870" cy="2889" rx="19.7" ry="22.7" fill="url(#ge88050)" opacity="0.69" transform="rotate(-2 870 2889)"/>
<ellipse cx="1521" cy="3283" rx="17.2" ry="19.6" fill="url(#ge88050)" opacity="0.52" transform="rotate(4 1521 3283)"/>
<ellipse cx="853" cy="2498" rx="21.9" ry="27.5" fill="url(#ge88050)" opacity="0.44" transform="rotate(-24 853 2498)"/>
<ellipse cx="695" cy="2262" rx="21.7" ry="18.2" fill="url(#ge88050)" opacity="0.62" transform="rotate(-25 695 2262)"/>
<ellipse cx="892" cy="2810" rx="24.7" ry="25.0" fill="url(#ge88050)" opacity="0.70" transform="rotate(-9 892 2810)"/>
<ellipse cx="730" cy="3300" rx="26.7" ry="32.4" fill="url(#ge88050)" opacity="0.69" transform="rotate(-43 730 3300)"/>
<ellipse cx="1472" cy="2545" rx="26.8" ry="28.9" fill="url(#g6a1400)" opacity="0.43" transform="rotate(-60 1472 2545)"/>
<ellipse cx="763" cy="3056" rx="19.5" ry="21.5" fill="url(#ge88050)" opacity="0.79" transform="rotate(17 763 3056)"/>
<ellipse cx="399" cy="2163" rx="23.8" ry="27.4" fill="url(#ge88050)" opacity="0.52" transform="rotate(-57 399 2163)"/>
<ellipse cx="971" cy="2616" rx="25.8" ry="25.1" fill="url(#ge88050)" opacity="0.83" transform="rotate(33 971 2616)"/>
<ellipse cx="727" cy="2144" rx="20.9" ry="26.4" fill="url(#ge88050)" opacity="0.47" transform="rotate(23 727 2144)"/>
<ellipse cx="1212" cy="2922" rx="18.6" ry="17.7" fill="url(#ge88050)" opacity="0.83" transform="rotate(38 1212 2922)"/>
<ellipse cx="1099" cy="2153" rx="23.2" ry="26.5" fill="url(#ge88050)" opacity="0.49" transform="rotate(60 1099 2153)"/>
<ellipse cx="1422" cy="2914" rx="18.6" ry="18.8" fill="url(#ge88050)" opacity="0.65" transform="rotate(55 1422 2914)"/>
<ellipse cx="354" cy="3296" rx="21.5" ry="22.5" fill="url(#g6a1400)" opacity="0.32" transform="rotate(-24 354 3296)"/>
<ellipse cx="216.6" cy="2694.7" rx="62.7" ry="159.5" fill="url(#g1a0400)" opacity="0.8"/>
<ellipse cx="838.6" cy="2787.2" rx="91.1" ry="91.1" fill="url(#g2a0600)" opacity="0.8"/>
<ellipse cx="1254.2" cy="3203.2" rx="78.5" ry="78.5" fill="url(#g2a0600)" opacity="0.8"/>
<ellipse cx="1089.6" cy="2074.7" rx="25.8" ry="38.8" fill="url(#g3a0800)" opacity="0.8"/>
<ellipse cx="447.7" cy="3038.7" rx="65.5" ry="65.5" fill="url(#g3a0800)" opacity="0.8"/>
<ellipse cx="1165.5" cy="3124.5" rx="48.4" ry="48.4" fill="url(#g3a0800)" opacity="0.8"/>
<ellipse cx="1052.1" cy="1942.4" rx="38.8" ry="38.8" fill="url(#g4a0a00)" opacity="0.8"/>
<ellipse cx="599.6" cy="2615.5" rx="96.8" ry="148.1" fill="url(#g4a0a00)" opacity="0.8" transform="rotate(-30 599.6 2615.5)"/>
<ellipse cx="765.9" cy="2869.7" rx="45.6" ry="45.6" fill="url(#g4a0a00)" opacity="0.8"/>
<ellipse cx="1658.5" cy="2877.5" rx="34.9" ry="34.9" fill="url(#g4a0a00)" opacity="0.8"/>
<ellipse cx="772.5" cy="2992.5" rx="85.4" ry="119.6" fill="url(#g4a0a00)" opacity="0.8" transform="rotate(-25 772.5 2992.5)"/>
<ellipse cx="1027.1" cy="1942.4" rx="112.0" ry="56.0" fill="url(#g5a1000)" opacity="0.8"/>
<ellipse cx="540.2" cy="2787.2" rx="41.0" ry="41.0" fill="url(#g5a1000)" opacity="0.8"/>
<ellipse cx="573.2" cy="2704.6" rx="39.9" ry="39.9" fill="url(#g5a1000)" opacity="0.8"/>
<ellipse cx="855.1" cy="2704.6" rx="62.7" ry="62.7" fill="url(#g5a1000)" opacity="0.8"/>
<ellipse cx="1389.0" cy="2540.5" rx="72.6" ry="72.6" fill="url(#g5a1000)" opacity="0.8"/>
<ellipse cx="427.9" cy="3144.3" rx="35.3" ry="35.3" fill="url(#g5a1000)" opacity="0.8"/>
<ellipse cx="1237.4" cy="3186.4" rx="156.9" ry="261.5" fill="url(#g5a1000)" opacity="0.8"/>
<ellipse cx="1658.5" cy="2950.5" rx="29.1" ry="29.1" fill="url(#g5a1000)" opacity="0.8"/>
<ellipse cx="847.4" cy="2456.7" rx="34.4" ry="34.4" fill="url(#g6a1400)" opacity="0.8"/>
<ellipse cx="243.0" cy="2599.0" rx="51.3" ry="85.4" fill="url(#g6a1400)" opacity="0.8"/>
<ellipse cx="391.6" cy="2869.7" rx="28.5" ry="28.5" fill="url(#g6a1400)" opacity="0.8"/>
<ellipse cx="655.8" cy="2539.5" rx="68.3" ry="68.3" fill="url(#g6a1400)" opacity="0.8"/>
<ellipse cx="756.0" cy="2605.6" rx="62.7" ry="62.7" fill="url(#g6a1400)" opacity="0.8"/>
<ellipse cx="1321.6" cy="2678.7" rx="61.0" ry="61.0" fill="url(#g6a1400)" opacity="0.8"/>
<ellipse cx="1405.8" cy="2591.1" rx="46.5" ry="46.5" fill="url(#g6a1400)" opacity="0.8"/>
<ellipse cx="457.6" cy="2975.9" rx="59.8" ry="59.8" fill="url(#g6a1400)" opacity="0.8"/>
<ellipse cx="236.4" cy="3045.3" rx="35.3" ry="35.3" fill="url(#g6a1400)" opacity="0.8"/>
<ellipse cx="756.0" cy="3114.6" rx="59.8" ry="59.8" fill="url(#g6a1400)" opacity="0.8"/>
<ellipse cx="1109.3" cy="3174.1" rx="35.3" ry="35.3" fill="url(#g6a1400)" opacity="0.8"/>
<ellipse cx="1119.2" cy="3236.8" rx="29.6" ry="29.6" fill="url(#g6a1400)" opacity="0.8"/>
<ellipse cx="1052.1" cy="2167.1" rx="68.9" ry="34.4" fill="url(#g7a1800)" opacity="0.8"/>
<ellipse cx="1039.6" cy="2324.4" rx="86.1" ry="43.1" fill="url(#g7a1800)" opacity="0.8"/>
<ellipse cx="964.7" cy="2486.6" rx="51.7" ry="30.1" fill="url(#g7a1800)" opacity="0.8"/>
<ellipse cx="1506.9" cy="2530.4" rx="61.0" ry="61.0" fill="url(#g7a1800)" opacity="0.8"/>
<ellipse cx="1456.4" cy="2658.5" rx="34.9" ry="34.9" fill="url(#g7a1800)" opacity="0.8"/>
<ellipse cx="1190.2" cy="2725.8" rx="30.2" ry="30.2" fill="url(#g7a1800)" opacity="0.8"/>
<ellipse cx="1254.2" cy="2810.1" rx="72.6" ry="72.6" fill="url(#g7a1800)" opacity="0.8"/>
<ellipse cx="688.8" cy="2985.8" rx="23.9" ry="23.9" fill="url(#g7a1800)" opacity="0.8"/>
<ellipse cx="1152.3" cy="3065.1" rx="39.9" ry="39.9" fill="url(#g7a1800)" opacity="0.8"/>
<ellipse cx="1608.0" cy="3220.1" rx="36.0" ry="36.0" fill="url(#g7a1800)" opacity="0.8"/>
<ellipse cx="877.4" cy="2262.0" rx="30.1" ry="30.1" fill="url(#g8a1c00)" opacity="0.8"/>
<ellipse cx="888.1" cy="2523.0" rx="62.7" ry="39.9" fill="url(#g8a1c00)" opacity="0.8"/>
<ellipse cx="1220.5" cy="2877.5" rx="46.5" ry="46.5" fill="url(#g8a1c00)" opacity="0.8"/>
<ellipse cx="1203.7" cy="2950.5" rx="58.1" ry="58.1" fill="url(#g8a1c00)" opacity="0.8"/>
<ellipse cx="1658.5" cy="3102.2" rx="29.1" ry="377.8" fill="url(#g8a1c00)" opacity="0.8"/>
<ellipse cx="239.7" cy="2523.0" rx="29.6" ry="29.6" fill="url(#ga02400)" opacity="0.8"/>
<ellipse cx="639.2" cy="3197.2" rx="108.2" ry="57.0" fill="url(#ga02400)" opacity="0.8"/>
<ellipse cx="1277.8" cy="3290.8" rx="30.2" ry="30.2" fill="url(#ga02400)" opacity="0.8"/>
<ellipse cx="789.1" cy="2734.3" rx="29.6" ry="29.6" fill="url(#ga82800)" opacity="0.8"/>
<ellipse cx="1247.5" cy="3146.0" rx="24.4" ry="24.4" fill="url(#ga82800)" opacity="0.8"/>
<ellipse cx="1077.1" cy="2117.2" rx="22.4" ry="22.4" fill="url(#gb02c08)" opacity="0.8"/>
<ellipse cx="772.5" cy="2645.2" rx="26.2" ry="26.2" fill="url(#gb02c08)" opacity="0.8"/>
<ellipse cx="1213.8" cy="3021.3" rx="26.7" ry="26.7" fill="url(#gb02c08)" opacity="0.8"/>
<ellipse cx="1186.8" cy="3098.8" rx="26.7" ry="26.7" fill="url(#gb02c08)" opacity="0.8"/>
<ellipse cx="723.0" cy="2853.2" rx="44.6" ry="44.6" fill="url(#gc02c00)"/>
<ellipse cx="1049.6" cy="2062.3" rx="19.5" ry="19.5" fill="url(#gb83010)"/>
<ellipse cx="540.2" cy="2754.1" rx="25.8" ry="25.8" fill="url(#gb83010)"/>
<ellipse cx="828.7" cy="2542.8" rx="22.8" ry="22.8" fill="url(#gb83010)"/>
<ellipse cx="861.7" cy="2886.2" rx="22.8" ry="22.8" fill="url(#gb83010)"/>
<ellipse cx="1145.7" cy="2820.2" rx="29.7" ry="99.1" fill="url(#gb83010)"/>
<ellipse cx="1125.8" cy="2734.3" rx="89.2" ry="24.8" fill="url(#gb83010)" transform="rotate(-10 1125.8 2734.3)"/>
<ellipse cx="1054.6" cy="2207.0" rx="23.2" ry="23.2" fill="url(#gc03810)"/>
<ellipse cx="785.8" cy="2565.9" rx="20.8" ry="20.8" fill="url(#gc03810)"/>
<ellipse cx="802.3" cy="2886.2" rx="27.7" ry="27.7" fill="url(#gc03810)"/>
<ellipse cx="1304.8" cy="2840.4" rx="26.3" ry="26.3" fill="url(#gc03810)"/>
<ellipse cx="1399.1" cy="2500.1" rx="26.3" ry="26.3" fill="url(#gc03810)"/>
<ellipse cx="1267.7" cy="2974.1" rx="26.3" ry="26.3" fill="url(#gc03810)"/>
<ellipse cx="1331.7" cy="3240.3" rx="26.3" ry="26.3" fill="url(#gc03810)"/>
<ellipse cx="1618.1" cy="3149.3" rx="23.2" ry="23.2" fill="url(#gc03810)"/>
<ellipse cx="1009.7" cy="2214.5" rx="21.0" ry="21.0" fill="url(#gc84018)"/>
<ellipse cx="982.2" cy="2389.3" rx="19.5" ry="19.5" fill="url(#gc84018)"/>
<ellipse cx="1047.1" cy="2371.8" rx="21.0" ry="21.0" fill="url(#gc84018)"/>
<ellipse cx="1537.3" cy="2729.2" rx="21.2" ry="21.2" fill="url(#gc84018)"/>
<ellipse cx="556.7" cy="3150.9" rx="30.7" ry="30.7" fill="url(#gc84018)"/>
<ellipse cx="219.9" cy="3091.5" rx="20.8" ry="20.8" fill="url(#gc84018)"/>
<ellipse cx="739.5" cy="3177.4" rx="34.7" ry="22.3" fill="url(#gc84018)"/>
<ellipse cx="1056.5" cy="3286.3" rx="25.8" ry="25.8" fill="url(#gc84018)"/>
<ellipse cx="1007.0" cy="3263.2" rx="20.8" ry="20.8" fill="url(#gc84018)"/>
<ellipse cx="1170.0" cy="3196.5" rx="26.3" ry="26.3" fill="url(#gc84018)"/>
<ellipse cx="500.6" cy="2873.0" rx="25.8" ry="25.8" fill="url(#gcc4c20)"/>
<ellipse cx="1527.1" cy="2671.9" rx="23.2" ry="23.2" fill="url(#gcc4c20)"/>
<ellipse cx="852.4" cy="1999.9" rx="86.1" ry="63.7" fill="url(#gd05828)"/>
<ellipse cx="894.8" cy="1959.9" rx="19.5" ry="19.5" fill="url(#gd05828)"/>
<ellipse cx="924.8" cy="1992.4" rx="21.0" ry="21.0" fill="url(#gd05828)"/>
<ellipse cx="894.8" cy="2034.8" rx="23.2" ry="23.2" fill="url(#gd05828)"/>
<ellipse cx="877.4" cy="2089.7" rx="27.0" ry="27.0" fill="url(#gd05828)"/>
<ellipse cx="944.8" cy="2244.5" rx="23.2" ry="23.2" fill="url(#gd05828)"/>
<ellipse cx="1029.6" cy="2274.4" rx="29.2" ry="29.2" fill="url(#gd05828)"/>
<ellipse cx="1084.6" cy="2381.8" rx="15.7" ry="15.7" fill="url(#gd05828)"/>
<ellipse cx="805.0" cy="2486.6" rx="19.5" ry="19.5" fill="url(#gd05828)"/>
<ellipse cx="507.2" cy="2589.1" rx="28.7" ry="28.7" fill="url(#gd05828)"/>
<ellipse cx="606.2" cy="2767.4" rx="28.7" ry="28.7" fill="url(#gd05828)"/>
<ellipse cx="688.8" cy="2721.1" rx="25.8" ry="25.8" fill="url(#gd05828)"/>
<ellipse cx="424.6" cy="2869.7" rx="30.7" ry="30.7" fill="url(#gd05828)"/>
<ellipse cx="285.9" cy="2879.6" rx="30.7" ry="30.7" fill="url(#gd05828)"/>
<ellipse cx="690.0" cy="2638.6" rx="20.8" ry="20.8" fill="url(#gd05828)"/>
<ellipse cx="690.0" cy="2797.1" rx="25.8" ry="25.8" fill="url(#gd05828)"/>
<ellipse cx="1624.9" cy="2547.3" rx="85.9" ry="75.8" fill="url(#gd05828)"/>
<ellipse cx="1298.0" cy="2614.7" rx="26.3" ry="26.3" fill="url(#gd05828)"/>
<ellipse cx="1574.3" cy="2709.0" rx="23.2" ry="23.2" fill="url(#gd05828)"/>
<ellipse cx="1624.9" cy="2752.8" rx="23.2" ry="40.4" fill="url(#gd05828)"/>
<ellipse cx="332.2" cy="2975.9" rx="30.7" ry="30.7" fill="url(#gd05828)"/>
<ellipse cx="665.7" cy="3117.9" rx="20.8" ry="20.8" fill="url(#gd05828)"/>
<ellipse cx="1049.9" cy="3217.0" rx="27.7" ry="27.7" fill="url(#gd05828)"/>
<ellipse cx="696.6" cy="3256.6" rx="25.8" ry="25.8" fill="url(#gd05828)"/>
<ellipse cx="772.5" cy="3302.8" rx="25.8" ry="25.8" fill="url(#gd05828)"/>
<ellipse cx="1480.0" cy="3102.2" rx="217.3" ry="353.8" fill="url(#gd05828)"/>
<ellipse cx="1331.7" cy="3051.6" rx="23.2" ry="23.2" fill="url(#gd05828)"/>
<ellipse cx="947.3" cy="2062.3" rx="29.2" ry="29.2" fill="url(#gd86038)"/>
<ellipse cx="827.4" cy="2247.0" rx="24.7" ry="24.7" fill="url(#gd86038)"/>
<ellipse cx="394.9" cy="2638.6" rx="163.4" ry="232.8" fill="url(#gd86038)" transform="rotate(20 394.9 2638.6)"/>
<ellipse cx="672.3" cy="2787.2" rx="33.7" ry="33.7" fill="url(#gd86038)"/>
<ellipse cx="1069.7" cy="2655.1" rx="178.3" ry="227.8" fill="url(#gd86038)" transform="rotate(25 1069.7 2655.1)"/>
<ellipse cx="987.2" cy="2836.7" rx="148.6" ry="148.6" fill="url(#gd86038)"/>
<ellipse cx="739.5" cy="2562.6" rx="27.7" ry="27.7" fill="url(#gd86038)"/>
<ellipse cx="1220.5" cy="2527.1" rx="101.1" ry="50.5" fill="url(#gd86038)"/>
<ellipse cx="1311.5" cy="2550.6" rx="28.3" ry="28.3" fill="url(#gd86038)"/>
<ellipse cx="1210.4" cy="2762.9" rx="26.3" ry="26.3" fill="url(#gd86038)"/>
<ellipse cx="1402.5" cy="2665.2" rx="26.3" ry="55.6" fill="url(#gd86038)"/>
<ellipse cx="1456.4" cy="2712.4" rx="26.3" ry="40.4" fill="url(#gd86038)" transform="rotate(20 1456.4 2712.4)"/>
<ellipse cx="1584.4" cy="2550.6" rx="23.2" ry="46.5" fill="url(#gd86038)"/>
<ellipse cx="1432.8" cy="2786.5" rx="26.3" ry="26.3" fill="url(#gd86038)"/>
<ellipse cx="375.1" cy="2936.3" rx="25.8" ry="25.8" fill="url(#gd86038)"/>
<ellipse cx="243.0" cy="2972.6" rx="30.7" ry="57.0" fill="url(#gd86038)"/>
<ellipse cx="342.1" cy="3108.0" rx="30.7" ry="30.7" fill="url(#gd86038)"/>
<ellipse cx="527.0" cy="3233.5" rx="47.1" ry="27.2" fill="url(#gd86038)" transform="rotate(35 527.0 3233.5)"/>
<ellipse cx="305.8" cy="3306.1" rx="30.7" ry="30.7" fill="url(#gd86038)"/>
<ellipse cx="964.1" cy="3131.1" rx="198.1" ry="257.5" fill="url(#gd86038)" transform="rotate(10 964.1 3131.1)"/>
<ellipse cx="769.2" cy="3223.6" rx="27.7" ry="27.7" fill="url(#gd86038)"/>
<ellipse cx="1135.8" cy="3273.1" rx="29.7" ry="44.6" fill="url(#gd86038)" transform="rotate(40 1135.8 3273.1)"/>
<ellipse cx="1520.4" cy="3142.6" rx="28.3" ry="28.3" fill="url(#gd86038)"/>
<ellipse cx="1358.7" cy="3102.2" rx="23.2" ry="23.2" fill="url(#gd86038)"/>
<ellipse cx="993.8" cy="2552.7" rx="25.8" ry="25.8" fill="url(#ge07040)"/>
<ellipse cx="414.7" cy="3273.1" rx="27.2" ry="39.6" fill="url(#ge07040)" transform="rotate(-15 414.7 3273.1)"/>
<ellipse cx="1439.5" cy="2913.5" rx="26.3" ry="26.3" fill="url(#ge07040)"/>
<ellipse cx="817.5" cy="1925.0" rx="23.2" ry="23.2" fill="url(#ge07848)"/>
<ellipse cx="847.4" cy="1989.9" rx="37.4" ry="37.4" fill="url(#ge07848)"/>
<ellipse cx="872.4" cy="2199.6" rx="30.7" ry="30.7" fill="url(#ge07848)"/>
<ellipse cx="824.9" cy="2304.4" rx="29.2" ry="29.2" fill="url(#ge07848)"/>
<ellipse cx="902.3" cy="2396.8" rx="33.0" ry="33.0" fill="url(#ge07848)"/>
<ellipse cx="276.0" cy="2826.8" rx="30.7" ry="30.7" fill="url(#ge07848)"/>
<ellipse cx="672.3" cy="2638.6" rx="35.7" ry="59.4" fill="url(#ge07848)"/>
<ellipse cx="1043.3" cy="2529.6" rx="25.8" ry="25.8" fill="url(#ge07848)"/>
<ellipse cx="1059.8" cy="2615.5" rx="22.8" ry="22.8" fill="url(#ge07848)"/>
<ellipse cx="1261.0" cy="2517.0" rx="26.3" ry="26.3" fill="url(#ge07848)"/>
<ellipse cx="1240.8" cy="2671.9" rx="31.3" ry="31.3" fill="url(#ge07848)"/>
<ellipse cx="1641.7" cy="2533.8" rx="36.4" ry="36.4" fill="url(#ge07848)"/>
<ellipse cx="1486.7" cy="2773.0" rx="31.3" ry="31.3" fill="url(#ge07848)"/>
<ellipse cx="1456.4" cy="2870.7" rx="30.3" ry="45.5" fill="url(#ge07848)"/>
<ellipse cx="494.0" cy="2923.1" rx="30.7" ry="30.7" fill="url(#ge07848)"/>
<ellipse cx="285.9" cy="3160.8" rx="49.5" ry="30.7" fill="url(#ge07848)" transform="rotate(35 285.9 3160.8)"/>
<ellipse cx="414.7" cy="3197.2" rx="44.6" ry="24.8" fill="url(#ge07848)"/>
<ellipse cx="626.0" cy="3273.1" rx="38.6" ry="38.6" fill="url(#ge07848)"/>
<ellipse cx="954.1" cy="3114.6" rx="123.8" ry="163.4" fill="url(#ge07848)" transform="rotate(10 954.1 3114.6)"/>
<ellipse cx="861.7" cy="2979.2" rx="25.8" ry="25.8" fill="url(#ge07848)"/>
<ellipse cx="1155.6" cy="3190.6" rx="33.7" ry="33.7" fill="url(#ge07848)"/>
<ellipse cx="1506.9" cy="2930.3" rx="26.3" ry="26.3" fill="url(#ge07848)"/>
<ellipse cx="1533.9" cy="3236.9" rx="31.3" ry="31.3" fill="url(#ge07848)"/>
<ellipse cx="1009.7" cy="2012.3" rx="34.4" ry="28.1" fill="url(#ge88050)"/>
<ellipse cx="929.8" cy="2124.7" rx="33.0" ry="33.0" fill="url(#ge88050)"/>
<ellipse cx="849.9" cy="2349.3" rx="33.0" ry="33.0" fill="url(#ge88050)"/>
<ellipse cx="1067.1" cy="2451.7" rx="36.7" ry="36.7" fill="url(#ge88050)"/>
<ellipse cx="560.0" cy="2830.1" rx="36.7" ry="36.7" fill="url(#ge88050)"/>
<ellipse cx="1089.5" cy="2582.5" rx="22.8" ry="22.8" fill="url(#ge88050)"/>
<ellipse cx="1363.7" cy="2742.7" rx="34.4" ry="34.4" fill="url(#ge88050)"/>
<ellipse cx="1510.3" cy="2597.8" rx="34.4" ry="34.4" fill="url(#ge88050)"/>
<ellipse cx="1608.0" cy="2671.9" rx="30.3" ry="55.6" fill="url(#ge88050)" transform="rotate(-40 1608.0 2671.9)"/>
<ellipse cx="1581.1" cy="2830.3" rx="30.3" ry="48.0" fill="url(#ge88050)"/>
<ellipse cx="246.3" cy="3250.0" rx="30.7" ry="54.5" fill="url(#ge88050)"/>
<ellipse cx="838.6" cy="3028.8" rx="27.7" ry="27.7" fill="url(#ge88050)"/>
<ellipse cx="1564.2" cy="2960.6" rx="28.3" ry="28.3" fill="url(#ge88050)"/>
<ellipse cx="810.0" cy="2147.1" rx="34.4" ry="34.4" fill="url(#ge88858)"/>
<ellipse cx="460.9" cy="2668.3" rx="25.8" ry="25.8" fill="url(#ge88858)"/>
<ellipse cx="460.9" cy="2780.6" rx="33.7" ry="33.7" fill="url(#ge88858)"/>
<ellipse cx="1203.7" cy="2520.3" rx="36.4" ry="36.4" fill="url(#ge88858)"/>
<ellipse cx="1170.0" cy="2641.6" rx="26.3" ry="26.3" fill="url(#ge88858)"/>
<ellipse cx="292.5" cy="3058.5" rx="38.6" ry="38.6" fill="url(#ge88858)"/>
<ellipse cx="513.8" cy="3058.5" rx="28.7" ry="59.4" fill="url(#ge88858)"/>
<ellipse cx="583.1" cy="3032.1" rx="27.7" ry="27.7" fill="url(#ge88858)"/>
<ellipse cx="685.5" cy="2942.9" rx="30.7" ry="30.7" fill="url(#ge88858)"/>
<ellipse cx="1040.0" cy="3124.5" rx="30.7" ry="30.7" fill="url(#ge88858)"/>
<ellipse cx="1362.0" cy="2947.2" rx="28.3" ry="28.3" fill="url(#ge88858)"/>
<ellipse cx="1365.4" cy="2997.7" rx="28.3" ry="28.3" fill="url(#ge88858)"/>
<ellipse cx="1301.4" cy="3139.2" rx="34.4" ry="34.4" fill="url(#ge88858)"/>
<ellipse cx="1584.4" cy="2910.1" rx="36.4" ry="36.4" fill="url(#ge88858)"/>
<ellipse cx="932.3" cy="2291.9" rx="36.7" ry="36.7" fill="url(#gf09060)"/>
<ellipse cx="901.3" cy="2783.9" rx="29.7" ry="49.5" fill="url(#gf09868)"/>
<ellipse cx="1119.2" cy="2546.1" rx="25.8" ry="25.8" fill="url(#gf09868)"/>
<ellipse cx="1165.5" cy="2638.6" rx="30.7" ry="30.7" fill="url(#gf09868)"/>
<ellipse cx="1200.3" cy="2587.7" rx="39.4" ry="39.4" fill="url(#gf09868)"/>
<ellipse cx="1250.9" cy="2729.2" rx="36.4" ry="36.4" fill="url(#gf09868)"/>
<ellipse cx="1385.6" cy="2823.6" rx="39.4" ry="39.4" fill="url(#gf09868)"/>
<ellipse cx="1547.4" cy="2884.2" rx="39.4" ry="39.4" fill="url(#gf09868)"/>
<ellipse cx="556.7" cy="2982.5" rx="40.6" ry="40.6" fill="url(#gf09868)"/>
<ellipse cx="599.6" cy="3306.1" rx="25.8" ry="25.8" fill="url(#gf09868)"/>
<ellipse cx="950.8" cy="2979.2" rx="30.7" ry="30.7" fill="url(#gf09868)"/>
<ellipse cx="822.1" cy="3084.9" rx="35.7" ry="35.7" fill="url(#gf09868)"/>
<ellipse cx="964.1" cy="3127.8" rx="27.7" ry="27.7" fill="url(#gf09868)"/>
<ellipse cx="699.9" cy="2942.9" rx="35.7" ry="35.7" fill="url(#gf09868)"/>
<ellipse cx="1523.8" cy="3051.6" rx="55.6" ry="40.4" fill="url(#gf09868)" transform="rotate(30 1523.8 3051.6)"/>
<ellipse cx="912.3" cy="2449.2" rx="41.9" ry="41.9" fill="url(#gf8a070)"/>
<ellipse cx="394.9" cy="2602.3" rx="25.8" ry="25.8" fill="url(#gf8a878)"/>
<ellipse cx="424.6" cy="2632.0" rx="28.7" ry="28.7" fill="url(#gf8a878)"/>
<ellipse cx="338.8" cy="2797.1" rx="36.7" ry="36.7" fill="url(#gf8a878)"/>
<ellipse cx="888.1" cy="3157.5" rx="33.7" ry="33.7" fill="url(#gf8a878)"/>
<ellipse cx="1483.3" cy="2974.1" rx="36.4" ry="36.4" fill="url(#gf8a878)"/>
<ellipse cx="1020.2" cy="2655.1" rx="35.7" ry="35.7" fill="url(#gf8b080)"/>
<ellipse cx="1152.3" cy="2516.4" rx="45.6" ry="45.6" fill="url(#gf8b080)"/>
<ellipse cx="980.6" cy="2902.7" rx="25.8" ry="25.8" fill="url(#gf8b080)"/>
<ellipse cx="1439.5" cy="3166.2" rx="36.4" ry="36.4" fill="url(#gf8b080)"/>
<ellipse cx="335.5" cy="2582.5" rx="31.7" ry="31.7" fill="url(#gffb888)"/>
<ellipse cx="319.0" cy="2701.3" rx="33.7" ry="33.7" fill="url(#gffb888)"/>
<ellipse cx="635.9" cy="2856.5" rx="41.6" ry="41.6" fill="url(#gffb888)"/>
<ellipse cx="361.9" cy="3038.7" rx="45.6" ry="45.6" fill="url(#gffb888)"/>
<ellipse cx="566.6" cy="3098.1" rx="38.6" ry="38.6" fill="url(#gffb888)"/>
<ellipse cx="911.2" cy="3022.2" rx="38.6" ry="38.6" fill="url(#gffb888)"/>
<ellipse cx="805.0" cy="2069.7" rx="34.4" ry="34.4" fill="url(#gffc090)"/>
<ellipse cx="891.4" cy="2612.2" rx="45.6" ry="45.6" fill="url(#gffc090)"/>
<ellipse cx="950.8" cy="2721.1" rx="30.7" ry="30.7" fill="url(#gffc090)"/>
<ellipse cx="1099.4" cy="2790.5" rx="38.6" ry="38.6" fill="url(#gffc090)"/>
<ellipse cx="970.7" cy="2913.2" rx="35.7" ry="35.7" fill="url(#gffc090)"/>
<ellipse cx="1020.2" cy="2959.4" rx="33.7" ry="33.7" fill="url(#gffc090)"/>
<ellipse cx="1449.6" cy="3092.0" rx="39.4" ry="39.4" fill="url(#gffc090)"/>
<ellipse cx="964.7" cy="2172.1" rx="44.2" ry="44.2" fill="url(#gffc898)"/>
<ellipse cx="454.3" cy="2532.9" rx="54.5" ry="39.6" fill="url(#gffc898)" transform="rotate(-35 454.3 2532.9)"/>
<ellipse cx="1063.1" cy="2684.8" rx="38.6" ry="38.6" fill="url(#gffc898)"/>
<ellipse cx="361.9" cy="3038.7" rx="24.8" ry="24.8" fill="url(#gffc898)"/>
<ellipse cx="884.8" cy="3256.6" rx="39.6" ry="74.3" fill="url(#gffc898)" transform="rotate(-40 884.8 3256.6)"/>
<ellipse cx="1449.6" cy="3277.4" rx="40.4" ry="58.1" fill="url(#gffc898)"/>
<ellipse cx="352.0" cy="2661.7" rx="36.7" ry="36.7" fill="url(#gffd0a8)"/>
<ellipse cx="891.4" cy="2612.2" rx="27.2" ry="27.2" fill="url(#gffd0a8)"/>
<ellipse cx="964.7" cy="2172.1" rx="26.2" ry="26.2" fill="url(#gffd8b0)"/>
<ellipse cx="990.5" cy="2724.4" rx="51.5" ry="51.5" fill="url(#gffd8b8)"/>
<ellipse cx="964.1" cy="2816.9" rx="43.6" ry="43.6" fill="url(#gffd8b8)"/>
<ellipse cx="626.0" cy="2982.5" rx="48.5" ry="48.5" fill="url(#gffd8b8)"/>
<ellipse cx="1395.7" cy="3220.1" rx="46.5" ry="46.5" fill="url(#gffd8b8)"/>
<ellipse cx="990.5" cy="2724.4" rx="29.7" ry="29.7" fill="url(#gfff0e0)"/>
<ellipse cx="626.0" cy="2982.5" rx="28.7" ry="28.7" fill="url(#gfff4e8)"/>
<ellipse cx="1395.7" cy="3220.1" rx="28.3" ry="28.3" fill="url(#gfff4e8)"/>
</g>
<rect x="214.0" y="1910.0" width="1449.0" height="1409.5" filter="url(#grain)" opacity="0.07"/>
<line x1="210.00" y1="2464.40" x2="1651.40" y2="3309.10" stroke="#00ff00" stroke-width="10.2" stroke-linecap="butt"/>
<line x1="625.50" y1="2902.70" x2="625.50" y2="3072.70" stroke="#00ff00" stroke-width="11" stroke-linecap="butt"/>
<text x="652.50" y="3160.80" font-size="117" text-anchor="start" fill="#fff" font-family="Liberation Sans, Arial, sans-serif" font-weight="bold">2</text>
<text x="1353.00" y="3108.20" font-size="117" text-anchor="start" fill="#fff" font-family="Liberation Sans, Arial, sans-serif" font-weight="bold">1</text>
</g>
<rect x="213.00" y="1909.00" width="1451.00" height="1411.40" fill="none" stroke="#1a0000" stroke-width="2"/>
<line x1="201.00" y1="3318.40" x2="212.50" y2="3318.40" stroke="#000" stroke-width="1.7" stroke-linecap="butt"/>
<line x1="215.10" y1="3320.90" x2="215.10" y2="3333.40" stroke="#000" stroke-width="1.7" stroke-linecap="butt"/>
<line x1="207.00" y1="3290.25" x2="212.50" y2="3290.25" stroke="#000" stroke-width="1.7" stroke-linecap="butt"/>
<line x1="244.02" y1="3320.90" x2="244.02" y2="3326.40" stroke="#000" stroke-width="1.7" stroke-linecap="butt"/>
<line x1="207.00" y1="3262.10" x2="212.50" y2="3262.10" stroke="#000" stroke-width="1.7" stroke-linecap="butt"/>
<line x1="272.95" y1="3320.90" x2="272.95" y2="3326.40" stroke="#000" stroke-width="1.7" stroke-linecap="butt"/>
<line x1="207.00" y1="3233.96" x2="212.50" y2="3233.96" stroke="#000" stroke-width="1.7" stroke-linecap="butt"/>
<line x1="301.87" y1="3320.90" x2="301.87" y2="3326.40" stroke="#000" stroke-width="1.7" stroke-linecap="butt"/>
<line x1="207.00" y1="3205.81" x2="212.50" y2="3205.81" stroke="#000" stroke-width="1.7" stroke-linecap="butt"/>
<line x1="330.80" y1="3320.90" x2="330.80" y2="3326.40" stroke="#000" stroke-width="1.7" stroke-linecap="butt"/>
<line x1="201.00" y1="3177.66" x2="212.50" y2="3177.66" stroke="#000" stroke-width="1.7" stroke-linecap="butt"/>
<line x1="359.72" y1="3320.90" x2="359.72" y2="3333.40" stroke="#000" stroke-width="1.7" stroke-linecap="butt"/>
<line x1="207.00" y1="3149.51" x2="212.50" y2="3149.51" stroke="#000" stroke-width="1.7" stroke-linecap="butt"/>
<line x1="388.64" y1="3320.90" x2="388.64" y2="3326.40" stroke="#000" stroke-width="1.7" stroke-linecap="butt"/>
<line x1="207.00" y1="3121.36" x2="212.50" y2="3121.36" stroke="#000" stroke-width="1.7" stroke-linecap="butt"/>
<line x1="417.57" y1="3320.90" x2="417.57" y2="3326.40" stroke="#000" stroke-width="1.7" stroke-linecap="butt"/>
<line x1="207.00" y1="3093.22" x2="212.50" y2="3093.22" stroke="#000" stroke-width="1.7" stroke-linecap="butt"/>
<line x1="446.49" y1="3320.90" x2="446.49" y2="3326.40" stroke="#000" stroke-width="1.7" stroke-linecap="butt"/>
<line x1="207.00" y1="3065.07" x2="212.50" y2="3065.07" stroke="#000" stroke-width="1.7" stroke-linecap="butt"/>
<line x1="475.42" y1="3320.90" x2="475.42" y2="3326.40" stroke="#000" stroke-width="1.7" stroke-linecap="butt"/>
<line x1="201.00" y1="3036.92" x2="212.50" y2="3036.92" stroke="#000" stroke-width="1.7" stroke-linecap="butt"/>
<line x1="504.34" y1="3320.90" x2="504.34" y2="3333.40" stroke="#000" stroke-width="1.7" stroke-linecap="butt"/>
<line x1="207.00" y1="3008.77" x2="212.50" y2="3008.77" stroke="#000" stroke-width="1.7" stroke-linecap="butt"/>
<line x1="533.26" y1="3320.90" x2="533.26" y2="3326.40" stroke="#000" stroke-width="1.7" stroke-linecap="butt"/>
<line x1="207.00" y1="2980.62" x2="212.50" y2="2980.62" stroke="#000" stroke-width="1.7" stroke-linecap="butt"/>
<line x1="562.19" y1="3320.90" x2="562.19" y2="3326.40" stroke="#000" stroke-width="1.7" stroke-linecap="butt"/>
<line x1="207.00" y1="2952.48" x2="212.50" y2="2952.48" stroke="#000" stroke-width="1.7" stroke-linecap="butt"/>
<line x1="591.11" y1="3320.90" x2="591.11" y2="3326.40" stroke="#000" stroke-width="1.7" stroke-linecap="butt"/>
<line x1="207.00" y1="2924.33" x2="212.50" y2="2924.33" stroke="#000" stroke-width="1.7" stroke-linecap="butt"/>
<line x1="620.04" y1="3320.90" x2="620.04" y2="3326.40" stroke="#000" stroke-width="1.7" stroke-linecap="butt"/>
<line x1="201.00" y1="2896.18" x2="212.50" y2="2896.18" stroke="#000" stroke-width="1.7" stroke-linecap="butt"/>
<line x1="648.96" y1="3320.90" x2="648.96" y2="3333.40" stroke="#000" stroke-width="1.7" stroke-linecap="butt"/>
<line x1="207.00" y1="2868.03" x2="212.50" y2="2868.03" stroke="#000" stroke-width="1.7" stroke-linecap="butt"/>
<line x1="677.88" y1="3320.90" x2="677.88" y2="3326.40" stroke="#000" stroke-width="1.7" stroke-linecap="butt"/>
<line x1="207.00" y1="2839.88" x2="212.50" y2="2839.88" stroke="#000" stroke-width="1.7" stroke-linecap="butt"/>
<line x1="706.81" y1="3320.90" x2="706.81" y2="3326.40" stroke="#000" stroke-width="1.7" stroke-linecap="butt"/>
<line x1="207.00" y1="2811.74" x2="212.50" y2="2811.74" stroke="#000" stroke-width="1.7" stroke-linecap="butt"/>
<line x1="735.73" y1="3320.90" x2="735.73" y2="3326.40" stroke="#000" stroke-width="1.7" stroke-linecap="butt"/>
<line x1="207.00" y1="2783.59" x2="212.50" y2="2783.59" stroke="#000" stroke-width="1.7" stroke-linecap="butt"/>
<line x1="764.66" y1="3320.90" x2="764.66" y2="3326.40" stroke="#000" stroke-width="1.7" stroke-linecap="butt"/>
<line x1="201.00" y1="2755.44" x2="212.50" y2="2755.44" stroke="#000" stroke-width="1.7" stroke-linecap="butt"/>
<line x1="793.58" y1="3320.90" x2="793.58" y2="3333.40" stroke="#000" stroke-width="1.7" stroke-linecap="butt"/>
<line x1="207.00" y1="2727.29" x2="212.50" y2="2727.29" stroke="#000" stroke-width="1.7" stroke-linecap="butt"/>
<line x1="822.50" y1="3320.90" x2="822.50" y2="3326.40" stroke="#000" stroke-width="1.7" stroke-linecap="butt"/>
<line x1="207.00" y1="2699.14" x2="212.50" y2="2699.14" stroke="#000" stroke-width="1.7" stroke-linecap="butt"/>
<line x1="851.43" y1="3320.90" x2="851.43" y2="3326.40" stroke="#000" stroke-width="1.7" stroke-linecap="butt"/>
<line x1="207.00" y1="2671.00" x2="212.50" y2="2671.00" stroke="#000" stroke-width="1.7" stroke-linecap="butt"/>
<line x1="880.35" y1="3320.90" x2="880.35" y2="3326.40" stroke="#000" stroke-width="1.7" stroke-linecap="butt"/>
<line x1="207.00" y1="2642.85" x2="212.50" y2="2642.85" stroke="#000" stroke-width="1.7" stroke-linecap="butt"/>
<line x1="909.28" y1="3320.90" x2="909.28" y2="3326.40" stroke="#000" stroke-width="1.7" stroke-linecap="butt"/>
<line x1="201.00" y1="2614.70" x2="212.50" y2="2614.70" stroke="#000" stroke-width="1.7" stroke-linecap="butt"/>
<line x1="938.20" y1="3320.90" x2="938.20" y2="3333.40" stroke="#000" stroke-width="1.7" stroke-linecap="butt"/>
<line x1="207.00" y1="2586.55" x2="212.50" y2="2586.55" stroke="#000" stroke-width="1.7" stroke-linecap="butt"/>
<line x1="967.12" y1="3320.90" x2="967.12" y2="3326.40" stroke="#000" stroke-width="1.7" stroke-linecap="butt"/>
<line x1="207.00" y1="2558.40" x2="212.50" y2="2558.40" stroke="#000" stroke-width="1.7" stroke-linecap="butt"/>
<line x1="996.05" y1="3320.90" x2="996.05" y2="3326.40" stroke="#000" stroke-width="1.7" stroke-linecap="butt"/>
<line x1="207.00" y1="2530.26" x2="212.50" y2="2530.26" stroke="#000" stroke-width="1.7" stroke-linecap="butt"/>
<line x1="1024.97" y1="3320.90" x2="1024.97" y2="3326.40" stroke="#000" stroke-width="1.7" stroke-linecap="butt"/>
<line x1="207.00" y1="2502.11" x2="212.50" y2="2502.11" stroke="#000" stroke-width="1.7" stroke-linecap="butt"/>
<line x1="1053.90" y1="3320.90" x2="1053.90" y2="3326.40" stroke="#000" stroke-width="1.7" stroke-linecap="butt"/>
<line x1="201.00" y1="2473.96" x2="212.50" y2="2473.96" stroke="#000" stroke-width="1.7" stroke-linecap="butt"/>
<line x1="1082.82" y1="3320.90" x2="1082.82" y2="3333.40" stroke="#000" stroke-width="1.7" stroke-linecap="butt"/>
<line x1="207.00" y1="2445.81" x2="212.50" y2="2445.81" stroke="#000" stroke-width="1.7" stroke-linecap="butt"/>
<line x1="1111.74" y1="3320.90" x2="1111.74" y2="3326.40" stroke="#000" stroke-width="1.7" stroke-linecap="butt"/>
<line x1="207.00" y1="2417.66" x2="212.50" y2="2417.66" stroke="#000" stroke-width="1.7" stroke-linecap="butt"/>
<line x1="1140.67" y1="3320.90" x2="1140.67" y2="3326.40" stroke="#000" stroke-width="1.7" stroke-linecap="butt"/>
<line x1="207.00" y1="2389.52" x2="212.50" y2="2389.52" stroke="#000" stroke-width="1.7" stroke-linecap="butt"/>
<line x1="1169.59" y1="3320.90" x2="1169.59" y2="3326.40" stroke="#000" stroke-width="1.7" stroke-linecap="butt"/>
<line x1="207.00" y1="2361.37" x2="212.50" y2="2361.37" stroke="#000" stroke-width="1.7" stroke-linecap="butt"/>
<line x1="1198.52" y1="3320.90" x2="1198.52" y2="3326.40" stroke="#000" stroke-width="1.7" stroke-linecap="butt"/>
<line x1="201.00" y1="2333.22" x2="212.50" y2="2333.22" stroke="#000" stroke-width="1.7" stroke-linecap="butt"/>
<line x1="1227.44" y1="3320.90" x2="1227.44" y2="3333.40" stroke="#000" stroke-width="1.7" stroke-linecap="butt"/>
<line x1="207.00" y1="2305.07" x2="212.50" y2="2305.07" stroke="#000" stroke-width="1.7" stroke-linecap="butt"/>
<line x1="1256.36" y1="3320.90" x2="1256.36" y2="3326.40" stroke="#000" stroke-width="1.7" stroke-linecap="butt"/>
<line x1="207.00" y1="2276.92" x2="212.50" y2="2276.92" stroke="#000" stroke-width="1.7" stroke-linecap="butt"/>
<line x1="1285.29" y1="3320.90" x2="1285.29" y2="3326.40" stroke="#000" stroke-width="1.7" stroke-linecap="butt"/>
<line x1="207.00" y1="2248.78" x2="212.50" y2="2248.78" stroke="#000" stroke-width="1.7" stroke-linecap="butt"/>
<line x1="1314.21" y1="3320.90" x2="1314.21" y2="3326.40" stroke="#000" stroke-width="1.7" stroke-linecap="butt"/>
<line x1="207.00" y1="2220.63" x2="212.50" y2="2220.63" stroke="#000" stroke-width="1.7" stroke-linecap="butt"/>
<line x1="1343.14" y1="3320.90" x2="1343.14" y2="3326.40" stroke="#000" stroke-width="1.7" stroke-linecap="butt"/>
<line x1="201.00" y1="2192.48" x2="212.50" y2="2192.48" stroke="#000" stroke-width="1.7" stroke-linecap="butt"/>
<line x1="1372.06" y1="3320.90" x2="1372.06" y2="3333.40" stroke="#000" stroke-width="1.7" stroke-linecap="butt"/>
<line x1="207.00" y1="2164.33" x2="212.50" y2="2164.33" stroke="#000" stroke-width="1.7" stroke-linecap="butt"/>
<line x1="1400.98" y1="3320.90" x2="1400.98" y2="3326.40" stroke="#000" stroke-width="1.7" stroke-linecap="butt"/>
<line x1="207.00" y1="2136.18" x2="212.50" y2="2136.18" stroke="#000" stroke-width="1.7" stroke-linecap="butt"/>
<line x1="1429.91" y1="3320.90" x2="1429.91" y2="3326.40" stroke="#000" stroke-width="1.7" stroke-linecap="butt"/>
<line x1="207.00" y1="2108.04" x2="212.50" y2="2108.04" stroke="#000" stroke-width="1.7" stroke-linecap="butt"/>
<line x1="1458.83" y1="3320.90" x2="1458.83" y2="3326.40" stroke="#000" stroke-width="1.7" stroke-linecap="butt"/>
<line x1="207.00" y1="2079.89" x2="212.50" y2="2079.89" stroke="#000" stroke-width="1.7" stroke-linecap="butt"/>
<line x1="1487.76" y1="3320.90" x2="1487.76" y2="3326.40" stroke="#000" stroke-width="1.7" stroke-linecap="butt"/>
<line x1="201.00" y1="2051.74" x2="212.50" y2="2051.74" stroke="#000" stroke-width="1.7" stroke-linecap="butt"/>
<line x1="1516.68" y1="3320.90" x2="1516.68" y2="3333.40" stroke="#000" stroke-width="1.7" stroke-linecap="butt"/>
<line x1="207.00" y1="2023.59" x2="212.50" y2="2023.59" stroke="#000" stroke-width="1.7" stroke-linecap="butt"/>
<line x1="1545.60" y1="3320.90" x2="1545.60" y2="3326.40" stroke="#000" stroke-width="1.7" stroke-linecap="butt"/>
<line x1="207.00" y1="1995.44" x2="212.50" y2="1995.44" stroke="#000" stroke-width="1.7" stroke-linecap="butt"/>
<line x1="1574.53" y1="3320.90" x2="1574.53" y2="3326.40" stroke="#000" stroke-width="1.7" stroke-linecap="butt"/>
<line x1="207.00" y1="1967.30" x2="212.50" y2="1967.30" stroke="#000" stroke-width="1.7" stroke-linecap="butt"/>
<line x1="1603.45" y1="3320.90" x2="1603.45" y2="3326.40" stroke="#000" stroke-width="1.7" stroke-linecap="butt"/>
<line x1="207.00" y1="1939.15" x2="212.50" y2="1939.15" stroke="#000" stroke-width="1.7" stroke-linecap="butt"/>
<line x1="1632.38" y1="3320.90" x2="1632.38" y2="3326.40" stroke="#000" stroke-width="1.7" stroke-linecap="butt"/>
<line x1="201.00" y1="1911.00" x2="212.50" y2="1911.00" stroke="#000" stroke-width="1.7" stroke-linecap="butt"/>
<line x1="1661.30" y1="3320.90" x2="1661.30" y2="3333.40" stroke="#000" stroke-width="1.7" stroke-linecap="butt"/>
<text x="212.50" y="3379.60" font-size="54.3" text-anchor="start" fill="#000" font-family="Liberation Sans, Arial, sans-serif" stroke="#fff" stroke-width="1.3">0</text>
<text x="503.84" y="3379.60" font-size="54.3" text-anchor="middle" fill="#000" font-family="Liberation Sans, Arial, sans-serif" stroke="#fff" stroke-width="1.3">200</text>
<text x="793.08" y="3379.60" font-size="54.3" text-anchor="middle" fill="#000" font-family="Liberation Sans, Arial, sans-serif" stroke="#fff" stroke-width="1.3">400</text>
<text x="1082.32" y="3379.60" font-size="54.3" text-anchor="middle" fill="#000" font-family="Liberation Sans, Arial, sans-serif" stroke="#fff" stroke-width="1.3">600</text>
<text x="1371.56" y="3379.60" font-size="54.3" text-anchor="middle" fill="#000" font-family="Liberation Sans, Arial, sans-serif" stroke="#fff" stroke-width="1.3">800</text>
<text x="1664.50" y="3379.60" font-size="54.3" text-anchor="end" fill="#000" font-family="Liberation Sans, Arial, sans-serif" stroke="#fff" stroke-width="1.3">1000</text>
<text x="187.60" y="3321.00" font-size="54.3" text-anchor="start" fill="#000" font-family="Liberation Sans, Arial, sans-serif" transform="rotate(-90 187.60 3321.00)" stroke="#fff" stroke-width="1.3">0</text>
<text x="187.60" y="3036.92" font-size="54.3" text-anchor="middle" fill="#000" font-family="Liberation Sans, Arial, sans-serif" transform="rotate(-90 187.60 3036.92)" stroke="#fff" stroke-width="1.3">200</text>
<text x="187.60" y="2755.44" font-size="54.3" text-anchor="middle" fill="#000" font-family="Liberation Sans, Arial, sans-serif" transform="rotate(-90 187.60 2755.44)" stroke="#fff" stroke-width="1.3">400</text>
<text x="187.60" y="2473.96" font-size="54.3" text-anchor="middle" fill="#000" font-family="Liberation Sans, Arial, sans-serif" transform="rotate(-90 187.60 2473.96)" stroke="#fff" stroke-width="1.3">600</text>
<text x="187.60" y="2192.48" font-size="54.3" text-anchor="middle" fill="#000" font-family="Liberation Sans, Arial, sans-serif" transform="rotate(-90 187.60 2192.48)" stroke="#fff" stroke-width="1.3">800</text>
<text x="187.60" y="1908.50" font-size="54.3" text-anchor="end" fill="#000" font-family="Liberation Sans, Arial, sans-serif" transform="rotate(-90 187.60 1908.50)" stroke="#fff" stroke-width="1.3">1000</text>
<text x="938.20" y="3451.60" font-size="61" text-anchor="middle" fill="#000" font-family="Liberation Sans, Arial, sans-serif" stroke="#fff" stroke-width="1.3">nm</text>
<text x="117.00" y="2612.50" font-size="58.5" text-anchor="middle" fill="#000" font-family="Liberation Sans, Arial, sans-serif" transform="rotate(-90 117.00 2612.50)" stroke="#fff" stroke-width="1.3">nm</text>
<rect x="1962.60" y="1907.50" width="23.50" height="1414.10" fill="url(#cb)" stroke="#0c0000" stroke-width="4.2"/>
<line x1="1964.70" y1="2615.00" x2="1984.00" y2="2615.00" stroke="#fff0e0" stroke-width="2.2" stroke-linecap="butt"/>
<line x1="1949.90" y1="3318.40" x2="1961.00" y2="3318.40" stroke="#000" stroke-width="1.7" stroke-linecap="butt"/>
<line x1="1955.30" y1="3297.60" x2="1961.00" y2="3297.60" stroke="#000" stroke-width="1.7" stroke-linecap="butt"/>
<line x1="1955.30" y1="3276.80" x2="1961.00" y2="3276.80" stroke="#000" stroke-width="1.7" stroke-linecap="butt"/>
<line x1="1955.30" y1="3256.00" x2="1961.00" y2="3256.00" stroke="#000" stroke-width="1.7" stroke-linecap="butt"/>
<line x1="1955.30" y1="3235.20" x2="1961.00" y2="3235.20" stroke="#000" stroke-width="1.7" stroke-linecap="butt"/>
<line x1="1949.90" y1="3214.40" x2="1961.00" y2="3214.40" stroke="#000" stroke-width="1.7" stroke-linecap="butt"/>
<line x1="1955.30" y1="3193.60" x2="1961.00" y2="3193.60" stroke="#000" stroke-width="1.7" stroke-linecap="butt"/>
<line x1="1955.30" y1="3172.80" x2="1961.00" y2="3172.80" stroke="#000" stroke-width="1.7" stroke-linecap="butt"/>
<line x1="1955.30" y1="3152.00" x2="1961.00" y2="3152.00" stroke="#000" stroke-width="1.7" stroke-linecap="butt"/>
<line x1="1955.30" y1="3131.20" x2="1961.00" y2="3131.20" stroke="#000" stroke-width="1.7" stroke-linecap="butt"/>
<line x1="1949.90" y1="3110.40" x2="1961.00" y2="3110.40" stroke="#000" stroke-width="1.7" stroke-linecap="butt"/>
<line x1="1955.30" y1="3089.60" x2="1961.00" y2="3089.60" stroke="#000" stroke-width="1.7" stroke-linecap="butt"/>
<line x1="1955.30" y1="3068.80" x2="1961.00" y2="3068.80" stroke="#000" stroke-width="1.7" stroke-linecap="butt"/>
<line x1="1955.30" y1="3048.00" x2="1961.00" y2="3048.00" stroke="#000" stroke-width="1.7" stroke-linecap="butt"/>
<line x1="1955.30" y1="3027.20" x2="1961.00" y2="3027.20" stroke="#000" stroke-width="1.7" stroke-linecap="butt"/>
<line x1="1949.90" y1="3006.40" x2="1961.00" y2="3006.40" stroke="#000" stroke-width="1.7" stroke-linecap="butt"/>
<line x1="1955.30" y1="2985.60" x2="1961.00" y2="2985.60" stroke="#000" stroke-width="1.7" stroke-linecap="butt"/>
<line x1="1955.30" y1="2964.80" x2="1961.00" y2="2964.80" stroke="#000" stroke-width="1.7" stroke-linecap="butt"/>
<line x1="1955.30" y1="2944.00" x2="1961.00" y2="2944.00" stroke="#000" stroke-width="1.7" stroke-linecap="butt"/>
<line x1="1955.30" y1="2923.20" x2="1961.00" y2="2923.20" stroke="#000" stroke-width="1.7" stroke-linecap="butt"/>
<line x1="1949.90" y1="2902.40" x2="1961.00" y2="2902.40" stroke="#000" stroke-width="1.7" stroke-linecap="butt"/>
<line x1="1955.30" y1="2881.60" x2="1961.00" y2="2881.60" stroke="#000" stroke-width="1.7" stroke-linecap="butt"/>
<line x1="1955.30" y1="2860.80" x2="1961.00" y2="2860.80" stroke="#000" stroke-width="1.7" stroke-linecap="butt"/>
<line x1="1955.30" y1="2840.00" x2="1961.00" y2="2840.00" stroke="#000" stroke-width="1.7" stroke-linecap="butt"/>
<line x1="1955.30" y1="2819.20" x2="1961.00" y2="2819.20" stroke="#000" stroke-width="1.7" stroke-linecap="butt"/>
<line x1="1949.90" y1="2798.40" x2="1961.00" y2="2798.40" stroke="#000" stroke-width="1.7" stroke-linecap="butt"/>
<line x1="1955.30" y1="2777.60" x2="1961.00" y2="2777.60" stroke="#000" stroke-width="1.7" stroke-linecap="butt"/>
<line x1="1955.30" y1="2756.80" x2="1961.00" y2="2756.80" stroke="#000" stroke-width="1.7" stroke-linecap="butt"/>
<line x1="1955.30" y1="2736.00" x2="1961.00" y2="2736.00" stroke="#000" stroke-width="1.7" stroke-linecap="butt"/>
<line x1="1955.30" y1="2715.20" x2="1961.00" y2="2715.20" stroke="#000" stroke-width="1.7" stroke-linecap="butt"/>
<line x1="1949.90" y1="2694.40" x2="1961.00" y2="2694.40" stroke="#000" stroke-width="1.7" stroke-linecap="butt"/>
<line x1="1955.30" y1="2673.60" x2="1961.00" y2="2673.60" stroke="#000" stroke-width="1.7" stroke-linecap="butt"/>
<line x1="1955.30" y1="2652.80" x2="1961.00" y2="2652.80" stroke="#000" stroke-width="1.7" stroke-linecap="butt"/>
<line x1="1955.30" y1="2632.00" x2="1961.00" y2="2632.00" stroke="#000" stroke-width="1.7" stroke-linecap="butt"/>
<line x1="1955.30" y1="2611.20" x2="1961.00" y2="2611.20" stroke="#000" stroke-width="1.7" stroke-linecap="butt"/>
<line x1="1949.90" y1="2590.40" x2="1961.00" y2="2590.40" stroke="#000" stroke-width="1.7" stroke-linecap="butt"/>
<line x1="1955.30" y1="2569.60" x2="1961.00" y2="2569.60" stroke="#000" stroke-width="1.7" stroke-linecap="butt"/>
<line x1="1955.30" y1="2548.80" x2="1961.00" y2="2548.80" stroke="#000" stroke-width="1.7" stroke-linecap="butt"/>
<line x1="1955.30" y1="2528.00" x2="1961.00" y2="2528.00" stroke="#000" stroke-width="1.7" stroke-linecap="butt"/>
<line x1="1955.30" y1="2507.20" x2="1961.00" y2="2507.20" stroke="#000" stroke-width="1.7" stroke-linecap="butt"/>
<line x1="1949.90" y1="2486.40" x2="1961.00" y2="2486.40" stroke="#000" stroke-width="1.7" stroke-linecap="butt"/>
<line x1="1955.30" y1="2465.60" x2="1961.00" y2="2465.60" stroke="#000" stroke-width="1.7" stroke-linecap="butt"/>
<line x1="1955.30" y1="2444.80" x2="1961.00" y2="2444.80" stroke="#000" stroke-width="1.7" stroke-linecap="butt"/>
<line x1="1955.30" y1="2424.00" x2="1961.00" y2="2424.00" stroke="#000" stroke-width="1.7" stroke-linecap="butt"/>
<line x1="1955.30" y1="2403.20" x2="1961.00" y2="2403.20" stroke="#000" stroke-width="1.7" stroke-linecap="butt"/>
<line x1="1949.90" y1="2382.40" x2="1961.00" y2="2382.40" stroke="#000" stroke-width="1.7" stroke-linecap="butt"/>
<line x1="1955.30" y1="2361.60" x2="1961.00" y2="2361.60" stroke="#000" stroke-width="1.7" stroke-linecap="butt"/>
<line x1="1955.30" y1="2340.80" x2="1961.00" y2="2340.80" stroke="#000" stroke-width="1.7" stroke-linecap="butt"/>
<line x1="1955.30" y1="2320.00" x2="1961.00" y2="2320.00" stroke="#000" stroke-width="1.7" stroke-linecap="butt"/>
<line x1="1955.30" y1="2299.20" x2="1961.00" y2="2299.20" stroke="#000" stroke-width="1.7" stroke-linecap="butt"/>
<line x1="1949.90" y1="2278.40" x2="1961.00" y2="2278.40" stroke="#000" stroke-width="1.7" stroke-linecap="butt"/>
<line x1="1955.30" y1="2257.60" x2="1961.00" y2="2257.60" stroke="#000" stroke-width="1.7" stroke-linecap="butt"/>
<line x1="1955.30" y1="2236.80" x2="1961.00" y2="2236.80" stroke="#000" stroke-width="1.7" stroke-linecap="butt"/>
<line x1="1955.30" y1="2216.00" x2="1961.00" y2="2216.00" stroke="#000" stroke-width="1.7" stroke-linecap="butt"/>
<line x1="1955.30" y1="2195.20" x2="1961.00" y2="2195.20" stroke="#000" stroke-width="1.7" stroke-linecap="butt"/>
<line x1="1949.90" y1="2174.40" x2="1961.00" y2="2174.40" stroke="#000" stroke-width="1.7" stroke-linecap="butt"/>
<line x1="1955.30" y1="2153.60" x2="1961.00" y2="2153.60" stroke="#000" stroke-width="1.7" stroke-linecap="butt"/>
<line x1="1955.30" y1="2132.80" x2="1961.00" y2="2132.80" stroke="#000" stroke-width="1.7" stroke-linecap="butt"/>
<line x1="1955.30" y1="2112.00" x2="1961.00" y2="2112.00" stroke="#000" stroke-width="1.7" stroke-linecap="butt"/>
<line x1="1955.30" y1="2091.20" x2="1961.00" y2="2091.20" stroke="#000" stroke-width="1.7" stroke-linecap="butt"/>
<line x1="1949.90" y1="2070.40" x2="1961.00" y2="2070.40" stroke="#000" stroke-width="1.7" stroke-linecap="butt"/>
<line x1="1955.30" y1="2049.60" x2="1961.00" y2="2049.60" stroke="#000" stroke-width="1.7" stroke-linecap="butt"/>
<line x1="1955.30" y1="2028.80" x2="1961.00" y2="2028.80" stroke="#000" stroke-width="1.7" stroke-linecap="butt"/>
<line x1="1955.30" y1="2008.00" x2="1961.00" y2="2008.00" stroke="#000" stroke-width="1.7" stroke-linecap="butt"/>
<line x1="1955.30" y1="1987.20" x2="1961.00" y2="1987.20" stroke="#000" stroke-width="1.7" stroke-linecap="butt"/>
<line x1="1949.90" y1="1966.40" x2="1961.00" y2="1966.40" stroke="#000" stroke-width="1.7" stroke-linecap="butt"/>
<line x1="1955.30" y1="1945.60" x2="1961.00" y2="1945.60" stroke="#000" stroke-width="1.7" stroke-linecap="butt"/>
<line x1="1955.30" y1="1924.80" x2="1961.00" y2="1924.80" stroke="#000" stroke-width="1.7" stroke-linecap="butt"/>
<text x="1937.40" y="3321.60" font-size="54.3" text-anchor="start" fill="#000" font-family="Liberation Sans, Arial, sans-serif" transform="rotate(-90 1937.40 3321.60)" stroke="#fff" stroke-width="1.3">0</text>
<text x="1937.40" y="3110.40" font-size="54.3" text-anchor="middle" fill="#000" font-family="Liberation Sans, Arial, sans-serif" transform="rotate(-90 1937.40 3110.40)" stroke="#fff" stroke-width="1.3">1</text>
<text x="1937.40" y="2902.40" font-size="54.3" text-anchor="middle" fill="#000" font-family="Liberation Sans, Arial, sans-serif" transform="rotate(-90 1937.40 2902.40)" stroke="#fff" stroke-width="1.3">2</text>
<text x="1937.40" y="2694.40" font-size="54.3" text-anchor="middle" fill="#000" font-family="Liberation Sans, Arial, sans-serif" transform="rotate(-90 1937.40 2694.40)" stroke="#fff" stroke-width="1.3">3</text>
<text x="1937.40" y="2486.40" font-size="54.3" text-anchor="middle" fill="#000" font-family="Liberation Sans, Arial, sans-serif" transform="rotate(-90 1937.40 2486.40)" stroke="#fff" stroke-width="1.3">4</text>
<text x="1937.40" y="2278.40" font-size="54.3" text-anchor="middle" fill="#000" font-family="Liberation Sans, Arial, sans-serif" transform="rotate(-90 1937.40 2278.40)" stroke="#fff" stroke-width="1.3">5</text>
<text x="1937.40" y="2070.40" font-size="54.3" text-anchor="middle" fill="#000" font-family="Liberation Sans, Arial, sans-serif" transform="rotate(-90 1937.40 2070.40)" stroke="#fff" stroke-width="1.3">6</text>
<text x="2049.20" y="2607.00" font-size="61.5" text-anchor="middle" fill="#000" font-family="Liberation Sans, Arial, sans-serif" transform="rotate(-90 2049.20 2607.00)" stroke="#fff" stroke-width="1.3">nm</text>
<rect x="214.0" y="1909.5" width="586.2" height="589.3" fill="#999"/>
<rect x="221.0" y="1916.5" width="572.2" height="575.3" fill="#fff"/>
<g clip-path="url(#icb1)"><polyline fill="none" stroke="#f00" stroke-width="5.4" stroke-linejoin="round" stroke-linecap="round" points="366.2,2258.2 368.2,2233.9 372.2,2226.1 376.6,2226.1 378.3,2232.2 384.3,2232.2 385.2,2216.6 387.8,2204.5 388.7,2188.9 390.4,2171.6 392.1,2152.6 393.9,2137.0 395.2,2111.0 397.3,2094.6 401.7,2104.1 404.3,2126.6 406.8,2126.6 409.4,2105.8 409.8,2081.6 411.2,2045.2 412.9,2015.8 413.8,1991.6 414.6,1963.0 417.2,1976.0 418.1,1995.0 419.8,2029.6 421.6,2057.3 422.4,2088.5 424.2,2114.5 425.9,2126.6 428.5,2126.6 430.2,2105.8 431.1,2083.3 432.3,2069.5 434.5,2092.0 436.3,2116.2 438.0,2140.4 439.7,2168.1 444.9,2168.1 446.7,2178.5 447.5,2197.6 448.4,2220.1 450.1,2244.3 451.3,2259.9 453.1,2265.1 454.5,2258.2 464.0,2258.2 465.7,2270.3 467.4,2285.9 469.2,2299.7 472.6,2313.6 475.2,2294.5 478.7,2289.3 481.3,2275.5 484.8,2273.8 487.4,2259.9 490.0,2251.2 491.7,2233.9 494.3,2240.9 496.9,2227.0 498.6,2209.7 501.2,2199.3 502.9,2183.7 506.4,2180.3 508.1,2166.4 509.0,2152.6 510.2,2135.2 513.3,2142.2 515.9,2133.5 518.5,2123.1 520.2,2105.8 522.8,2093.7 525.4,2085.0 527.2,2086.8 528.9,2109.3 532.4,2102.4 534.1,2081.6 535.8,2078.1 538.4,2081.6 540.0,2081.6 541.7,2105.8 543.5,2133.5 545.2,2164.7 548.7,2183.7 553.9,2183.7 554.7,2201.0 557.3,2220.1 559.0,2240.9 559.9,2261.6 560.8,2282.4 562.5,2303.2 565.1,2322.2 567.7,2339.5 569.8,2354.3 574.6,2354.3 576.7,2337.8 577.7,2317.0 581.6,2313.6 584.1,2303.2 585.9,2284.1 588.5,2278.9 590.2,2256.4 592.8,2249.5 594.0,2227.0 597.1,2220.1 599.7,2206.2 600.9,2183.7 602.3,2163.0 604.9,2142.2 607.5,2161.2 609.3,2188.9 611.0,2213.2 612.7,2225.3 614.8,2209.7 617.0,2208.0 619.6,2220.1 620.5,2244.3 621.4,2270.3 622.8,2298.0 624.0,2315.3 626.6,2315.3 628.3,2306.6 630.0,2308.4 631.8,2330.9 634.4,2318.8 636.1,2308.4 639.5,2303.2 641.3,2284.1 643.0,2261.6 644.7,2254.7 647.3,2244.3 649.1,2227.0 650.8,2209.7 653.4,2199.3 655.1,2183.7 659.5,2171.6 661.2,2140.4 662.9,2114.5 663.8,2093.7 665.5,2071.2 666.4,2053.9 667.8,2044.4 670.7,2057.3 673.3,2074.7 675.0,2086.8 677.6,2062.5 679.9,2053.0 682.0,2062.5 683.7,2081.6 685.4,2102.4 689.8,2109.3 690.6,2123.1 692.4,2140.4 694.1,2159.5 696.7,2168.1 699.3,2159.5 701.9,2159.5 703.6,2175.1 705.3,2201.0 706.2,2223.5 707.9,2244.3 709.3,2251.2 710.5,2233.9 712.3,2217.5 714.9,2227.0 716.6,2251.2 718.3,2278.9 720.1,2306.6 720.9,2339.5"/></g>
<rect x="333.35" y="1948.95" width="416.05" height="434.65" fill="none" stroke="#000" stroke-width="5.6"/>
<line x1="333.35" y1="2340.13" x2="337.55" y2="2340.13" stroke="#000" stroke-width="5.04" stroke-linecap="round"/>
<line x1="333.35" y1="2296.67" x2="341.55" y2="2296.67" stroke="#000" stroke-width="5.04" stroke-linecap="round"/>
<text x="316.50" y="2312.42" font-size="44" text-anchor="end" fill="#000" font-family="Liberation Sans, Arial, sans-serif">1</text>
<line x1="333.35" y1="2253.20" x2="337.55" y2="2253.20" stroke="#000" stroke-width="5.04" stroke-linecap="round"/>
<line x1="333.35" y1="2209.74" x2="341.55" y2="2209.74" stroke="#000" stroke-width="5.04" stroke-linecap="round"/>
<text x="316.50" y="2225.49" font-size="44" text-anchor="end" fill="#000" font-family="Liberation Sans, Arial, sans-serif">2</text>
<line x1="333.35" y1="2166.28" x2="337.55" y2="2166.28" stroke="#000" stroke-width="5.04" stroke-linecap="round"/>
<line x1="333.35" y1="2122.81" x2="341.55" y2="2122.81" stroke="#000" stroke-width="5.04" stroke-linecap="round"/>
<text x="316.50" y="2138.56" font-size="44" text-anchor="end" fill="#000" font-family="Liberation Sans, Arial, sans-serif">3</text>
<line x1="333.35" y1="2079.34" x2="337.55" y2="2079.34" stroke="#000" stroke-width="5.04" stroke-linecap="round"/>
<line x1="333.35" y1="2035.88" x2="341.55" y2="2035.88" stroke="#000" stroke-width="5.04" stroke-linecap="round"/>
<text x="316.50" y="2051.63" font-size="44" text-anchor="end" fill="#000" font-family="Liberation Sans, Arial, sans-serif">4</text>
<line x1="333.35" y1="1992.41" x2="337.55" y2="1992.41" stroke="#000" stroke-width="5.04" stroke-linecap="round"/>
<line x1="333.35" y1="2383.60" x2="341.55" y2="2383.60" stroke="#000" stroke-width="5.04" stroke-linecap="round"/>
<text x="316.50" y="2398.35" font-size="44" text-anchor="end" fill="#000" font-family="Liberation Sans, Arial, sans-serif">0</text>
<line x1="333.35" y1="1948.95" x2="341.55" y2="1948.95" stroke="#000" stroke-width="5.04" stroke-linecap="round"/>
<text x="316.50" y="1963.70" font-size="44" text-anchor="end" fill="#000" font-family="Liberation Sans, Arial, sans-serif">5</text>
<line x1="366.00" y1="2383.60" x2="366.00" y2="2375.40" stroke="#000" stroke-width="5.04" stroke-linecap="round"/>
<text x="352.90" y="2426.00" font-size="44" text-anchor="middle" fill="#000" font-family="Liberation Sans, Arial, sans-serif">0</text>
<line x1="429.90" y1="2383.60" x2="429.90" y2="2379.40" stroke="#000" stroke-width="5.04" stroke-linecap="round"/>
<line x1="493.80" y1="2383.60" x2="493.80" y2="2375.40" stroke="#000" stroke-width="5.04" stroke-linecap="round"/>
<text x="479.70" y="2426.00" font-size="44" text-anchor="middle" fill="#000" font-family="Liberation Sans, Arial, sans-serif">400</text>
<line x1="557.70" y1="2383.60" x2="557.70" y2="2379.40" stroke="#000" stroke-width="5.04" stroke-linecap="round"/>
<line x1="621.60" y1="2383.60" x2="621.60" y2="2375.40" stroke="#000" stroke-width="5.04" stroke-linecap="round"/>
<text x="608.90" y="2426.00" font-size="44" text-anchor="middle" fill="#000" font-family="Liberation Sans, Arial, sans-serif">800</text>
<line x1="685.50" y1="2383.60" x2="685.50" y2="2379.40" stroke="#000" stroke-width="5.04" stroke-linecap="round"/>
<line x1="-100.00" y1="2383.60" x2="-100.00" y2="2375.40" stroke="#000" stroke-width="5.04" stroke-linecap="round"/>
<text x="738.30" y="2426.00" font-size="44" text-anchor="middle" fill="#000" font-family="Liberation Sans, Arial, sans-serif">1200</text>
<text x="0.00" y="0.00" font-size="42.8" text-anchor="middle" fill="#000" font-family="Liberation Sans, Arial, sans-serif" transform="translate(548.00 2480.30) scale(1.065 1)">Distance (nm)</text>
<text x="264.50" y="2177.50" font-size="44" text-anchor="middle" fill="#000" font-family="Liberation Sans, Arial, sans-serif" transform="rotate(-90 264.50 2177.50)">Height (nm)</text>
<text x="692.00" y="2017.00" font-size="57" text-anchor="start" fill="#000" font-family="Liberation Sans, Arial, sans-serif" font-weight="bold">1</text>
<rect x="1091.4" y="1909.7" width="570.8" height="589.1" fill="#999"/>
<rect x="1098.4" y="1916.7" width="556.8" height="575.1" fill="#fff"/>
<g clip-path="url(#icb2)"><polyline fill="none" stroke="#f00" stroke-width="5.4" stroke-linejoin="round" stroke-linecap="round" points="1245.6,2351.3 1255.9,2351.3 1273.1,2333.7 1291.6,2351.3 1327.8,2351.3 1338.1,2331.6 1346.3,2290.5 1354.5,2241.2 1362.7,2163.1 1373.0,2085.0 1381.2,2045.9 1391.5,2017.1 1401.8,2007.7 1410.0,1997.8 1420.3,2007.7 1428.5,2031.5 1438.8,2056.2 1447.0,2080.9 1455.2,2113.7 1463.4,2154.9 1473.7,2204.2 1481.9,2253.5 1492.2,2286.4 1501.3,2305.7 1510.7,2296.7 1529.2,2296.7 1538.3,2305.7 1546.9,2305.7 1555.9,2315.2 1565.0,2324.2 1574.4,2315.2 1584.7,2324.2"/></g>
<rect x="1222.05" y="1953.00" width="410.50" height="432.30" fill="none" stroke="#000" stroke-width="5.5"/>
<line x1="1222.05" y1="2361.20" x2="1230.20" y2="2361.20" stroke="#000" stroke-width="4.95" stroke-linecap="round"/>
<text x="1212.00" y="2376.95" font-size="44" text-anchor="end" fill="#000" font-family="Liberation Sans, Arial, sans-serif">0</text>
<line x1="1222.05" y1="2313.10" x2="1226.20" y2="2313.10" stroke="#000" stroke-width="4.95" stroke-linecap="round"/>
<line x1="1222.05" y1="2265.00" x2="1230.20" y2="2265.00" stroke="#000" stroke-width="4.95" stroke-linecap="round"/>
<text x="1212.00" y="2280.75" font-size="44" text-anchor="end" fill="#000" font-family="Liberation Sans, Arial, sans-serif">1</text>
<line x1="1222.05" y1="2216.90" x2="1226.20" y2="2216.90" stroke="#000" stroke-width="4.95" stroke-linecap="round"/>
<line x1="1222.05" y1="2168.80" x2="1230.20" y2="2168.80" stroke="#000" stroke-width="4.95" stroke-linecap="round"/>
<text x="1212.00" y="2184.55" font-size="44" text-anchor="end" fill="#000" font-family="Liberation Sans, Arial, sans-serif">2</text>
<line x1="1222.05" y1="2120.70" x2="1226.20" y2="2120.70" stroke="#000" stroke-width="4.95" stroke-linecap="round"/>
<line x1="1222.05" y1="2072.60" x2="1230.20" y2="2072.60" stroke="#000" stroke-width="4.95" stroke-linecap="round"/>
<text x="1212.00" y="2088.35" font-size="44" text-anchor="end" fill="#000" font-family="Liberation Sans, Arial, sans-serif">3</text>
<line x1="1222.05" y1="2024.50" x2="1226.20" y2="2024.50" stroke="#000" stroke-width="4.95" stroke-linecap="round"/>
<line x1="1222.05" y1="1976.40" x2="1230.20" y2="1976.40" stroke="#000" stroke-width="4.95" stroke-linecap="round"/>
<text x="1212.00" y="1992.15" font-size="44" text-anchor="end" fill="#000" font-family="Liberation Sans, Arial, sans-serif">4</text>
<line x1="1245.60" y1="2385.30" x2="1245.60" y2="2377.15" stroke="#000" stroke-width="4.95" stroke-linecap="round"/>
<text x="1245.60" y="2427.00" font-size="44" text-anchor="middle" fill="#000" font-family="Liberation Sans, Arial, sans-serif">0</text>
<line x1="1304.17" y1="2385.30" x2="1304.17" y2="2381.15" stroke="#000" stroke-width="4.95" stroke-linecap="round"/>
<line x1="1362.75" y1="2385.30" x2="1362.75" y2="2377.15" stroke="#000" stroke-width="4.95" stroke-linecap="round"/>
<text x="1362.75" y="2427.00" font-size="44" text-anchor="middle" fill="#000" font-family="Liberation Sans, Arial, sans-serif">50</text>
<line x1="1421.32" y1="2385.30" x2="1421.32" y2="2381.15" stroke="#000" stroke-width="4.95" stroke-linecap="round"/>
<line x1="1479.90" y1="2385.30" x2="1479.90" y2="2377.15" stroke="#000" stroke-width="4.95" stroke-linecap="round"/>
<text x="1479.90" y="2427.00" font-size="44" text-anchor="middle" fill="#000" font-family="Liberation Sans, Arial, sans-serif">100</text>
<line x1="1538.47" y1="2385.30" x2="1538.47" y2="2381.15" stroke="#000" stroke-width="4.95" stroke-linecap="round"/>
<line x1="1597.05" y1="2385.30" x2="1597.05" y2="2377.15" stroke="#000" stroke-width="4.95" stroke-linecap="round"/>
<text x="1597.05" y="2427.00" font-size="44" text-anchor="middle" fill="#000" font-family="Liberation Sans, Arial, sans-serif">150</text>
<text x="1439.80" y="2473.40" font-size="44.2" text-anchor="middle" fill="#000" font-family="Liberation Sans, Arial, sans-serif">Distance (nm)</text>
<text x="1145.30" y="2190.80" font-size="44.2" text-anchor="middle" fill="#000" font-family="Liberation Sans, Arial, sans-serif" transform="rotate(-90 1145.30 2190.80)">Height (nm)</text>
<text x="1574.50" y="2025.40" font-size="54" text-anchor="start" fill="#000" font-family="Liberation Sans, Arial, sans-serif" font-weight="bold">2</text>
</svg>
</body></html>
